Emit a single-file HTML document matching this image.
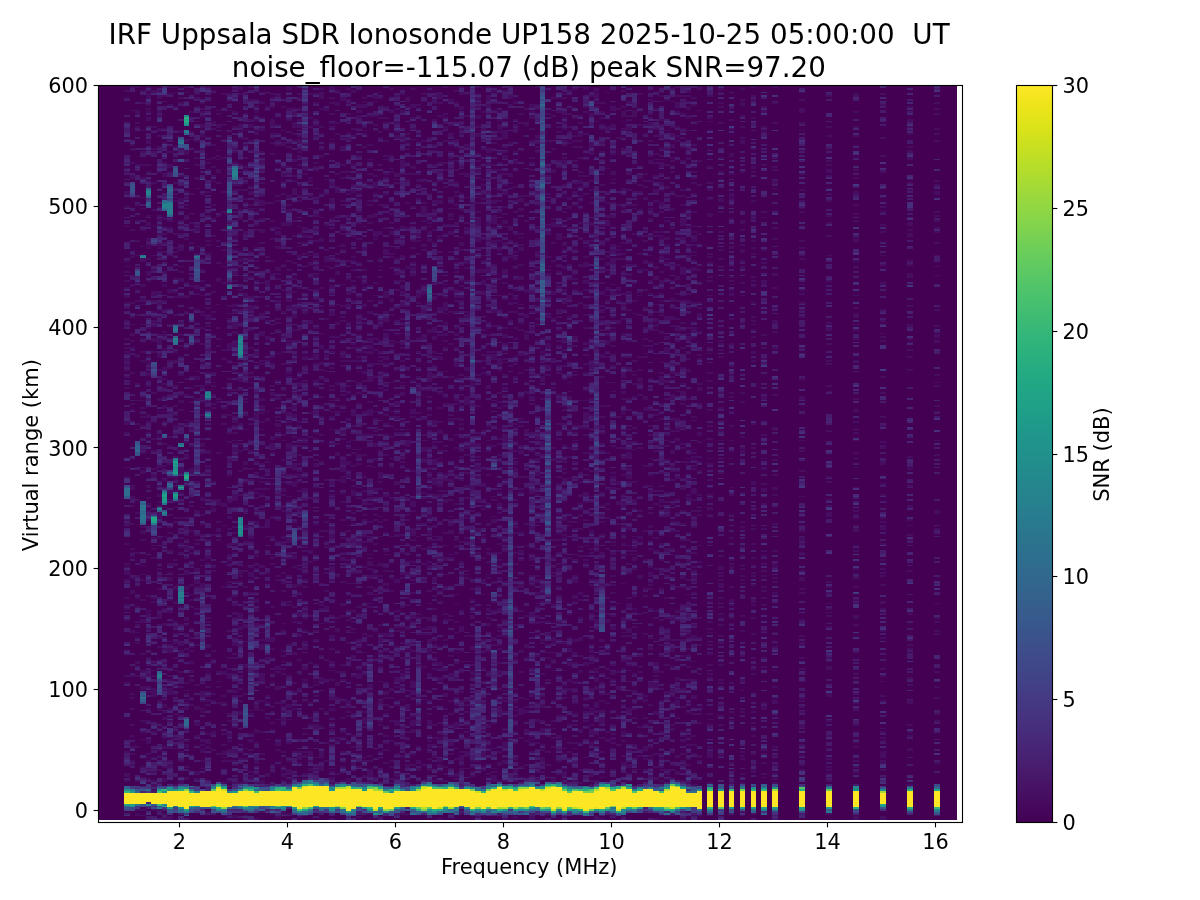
<!DOCTYPE html>
<html lang="en"><head><meta charset="utf-8"><title>IRF Uppsala SDR Ionosonde UP158</title>
<style>
html,body{margin:0;padding:0;background:#fff}
svg{display:block}
text{font-family:"DejaVu Sans","Liberation Sans",sans-serif;fill:#000}
</style></head><body>
<svg width="1200" height="900" viewBox="0 0 1200 900">
<defs>
<linearGradient id="vg" x1="0" y1="0" x2="0" y2="1"><stop offset="0.0000" stop-color="#fde725"/><stop offset="0.0208" stop-color="#f1e51d"/><stop offset="0.0417" stop-color="#e5e419"/><stop offset="0.0625" stop-color="#d8e219"/><stop offset="0.0833" stop-color="#c8e020"/><stop offset="0.1042" stop-color="#bade28"/><stop offset="0.1250" stop-color="#addc30"/><stop offset="0.1458" stop-color="#9dd93b"/><stop offset="0.1667" stop-color="#90d743"/><stop offset="0.1875" stop-color="#84d44b"/><stop offset="0.2083" stop-color="#75d054"/><stop offset="0.2292" stop-color="#69cd5b"/><stop offset="0.2500" stop-color="#5ec962"/><stop offset="0.2708" stop-color="#52c569"/><stop offset="0.2917" stop-color="#48c16e"/><stop offset="0.3125" stop-color="#3fbc73"/><stop offset="0.3333" stop-color="#35b779"/><stop offset="0.3542" stop-color="#2eb37c"/><stop offset="0.3750" stop-color="#28ae80"/><stop offset="0.3958" stop-color="#23a983"/><stop offset="0.4167" stop-color="#20a486"/><stop offset="0.4375" stop-color="#1fa088"/><stop offset="0.4583" stop-color="#1f9a8a"/><stop offset="0.4792" stop-color="#1f958b"/><stop offset="0.5000" stop-color="#21918c"/><stop offset="0.5208" stop-color="#228b8d"/><stop offset="0.5417" stop-color="#24868e"/><stop offset="0.5625" stop-color="#26828e"/><stop offset="0.5833" stop-color="#287c8e"/><stop offset="0.6042" stop-color="#2a778e"/><stop offset="0.6250" stop-color="#2c728e"/><stop offset="0.6458" stop-color="#2e6d8e"/><stop offset="0.6667" stop-color="#31688e"/><stop offset="0.6875" stop-color="#33638d"/><stop offset="0.7083" stop-color="#365d8d"/><stop offset="0.7292" stop-color="#38588c"/><stop offset="0.7500" stop-color="#3b528b"/><stop offset="0.7708" stop-color="#3e4c8a"/><stop offset="0.7917" stop-color="#404688"/><stop offset="0.8125" stop-color="#424086"/><stop offset="0.8333" stop-color="#443983"/><stop offset="0.8542" stop-color="#46337f"/><stop offset="0.8750" stop-color="#472d7b"/><stop offset="0.8958" stop-color="#482576"/><stop offset="0.9167" stop-color="#481f70"/><stop offset="0.9375" stop-color="#48186a"/><stop offset="0.9583" stop-color="#471063"/><stop offset="0.9792" stop-color="#46085c"/><stop offset="1.0000" stop-color="#440154"/></linearGradient>
<clipPath id="ax"><rect x="98.5" y="85.5" width="864.0" height="737.0"/></clipPath>
</defs>
<rect width="1200" height="900" fill="#fff"/>
<g clip-path="url(#ax)" shape-rendering="crispEdges">
<rect x="98.5" y="85.5" width="858.50" height="734.59" fill="#440154"/>
<g transform="translate(124.15,820.086) scale(5.4,-1.81230)" fill="none" stroke-width="1">
<path stroke="#470d60" d="M0.5 21v1m0 2v2m0 11v1m0 37v1m0 3v1m0 30v1m0 5v1m0 1v1m0 3v1m0 7v1m0 1v1m0 2v3m0 1v1m0 1v1m0 10v1m0 10v1m0 1v1m0 23v1m0 4v1m0 18v1m0 4v2m0 18v1m0 2v1m0 2v1m0 3v1m0 1v2m0 1v2m0 3v1m0 1v1m0 4v1m0 6v1m0 2v1m0 6v1m0 2v1m0 2v2m0 3v1m0 3v1m0 4v1m0 2v1m0 2v1m0 18v1m0 10v1m0 6v2m0 10v1m0 1v1m0 38v1m0 3v1M1.5 30v1m0 1v1m0 3v1m0 3v1m0 5v1m0 5v1m0 8v1m0 5v1m0 1v1m0 9v1m0 23v2m0 20v2m0 6v1m0 11v1m0 1v1m0 1v1m0 13v1m0 9v1m0 3v2m0 3v3m0 41v1m0 2v1m0 16v1m0 9v1m0 3v1m0 3v1m0 2v2m0 4v1m0 3v1m0 7v1m0 8v2m0 4v1m0 9v1m0 14v1m0 17v1m0 10v2m0 6v1m0 6v2m0 1v1m0 18v1m0 12v1M2.5 2v2m0 1v1m0 15v1m0 18v1m0 38v1m0 2v1m0 3v2m0 9v1m0 2v1m0 2v1m0 3v1m0 1v1m0 7v1m0 4v1m0 1v1m0 6v1m0 2v1m0 12v1m0 21v1m0 6v1m0 38v1m0 2v1m0 12v1m0 8v1m0 14v2m0 21v1m0 7v1m0 5v1m0 3v1m0 14v1m0 7v1m0 10v1m0 8v1m0 3v1m0 17v1m0 20v1m0 1v1m0 4v3m0 12v1M3.5 2v1m0 2v1m0 17v1m0 5v1m0 14v1m0 3v1m0 5v1m0 17v2m0 4v1m0 2v2m0 8v1m0 17v2m0 10v1m0 10v1m0 2v1m0 4v1m0 13v1m0 3v2m0 1v1m0 29v2m0 1v1m0 7v1m0 1v1m0 12v1m0 4v1m0 2v1m0 1v1m0 3v1m0 1v1m0 2v1m0 10v1m0 5v1m0 4v1m0 6v1m0 7v1m0 10v1m0 1v2m0 6v2m0 12v2m0 6v1m0 8v1m0 1v1m0 9v1m0 5v1m0 10v1m0 6v1m0 6v1m0 11v1m0 14v1m0 6v1M4.5 22v1m0 3v1m0 1v1m0 3v1m0 1v1m0 1v1m0 5v3m0 9v1m0 6v1m0 8v1m0 2v1m0 5v2m0 1v1m0 2v1m0 3v1m0 2v1m0 12v1m0 6v2m0 1v1m0 7v1m0 41v1m0 4v1m0 1v1m0 1v1m0 2v1m0 5v2m0 3v1m0 17v1m0 2v1m0 3v1m0 5v1m0 2v2m0 15v1m0 2v1m0 2v2m0 2v1m0 1v1m0 1v1m0 1v1m0 13v1m0 1v1m0 25v1m0 2v3m0 6v1m0 5v1m0 1v1m0 1v2m0 7v2m0 3v1m0 18v2m0 3v1m0 3v1m0 7v1m0 3v2m0 11v2m0 2v1m0 1v1m0 1v1m0 3v3m0 1v1m0 1v1M5.5 5v1m0 10v1m0 1v2m0 1v1m0 4v1m0 7v1m0 3v1m0 9v1m0 19v5m0 6v1m0 2v1m0 3v1m0 5v1m0 5v1m0 21v1m0 1v1m0 21v1m0 4v1m0 1v1m0 3v1m0 33v2m0 2v1m0 9v1m0 6v1m0 8v1m0 15v1m0 22v1m0 5v2m0 2v1m0 3v1m0 1v2m0 1v1m0 2v1m0 5v1m0 2v3m0 11v1m0 7v1m0 15v1m0 8v1m0 14v1m0 16v1m0 1v1m0 9v1m0 1v1m0 18v2m0 2v1M6.5 5v1m0 14v1m0 6v1m0 7v1m0 2v1m0 11v1m0 9v2m0 3v1m0 22v1m0 6v1m0 4v1m0 6v1m0 3v3m0 1v1m0 11v1m0 3v1m0 2v1m0 3v1m0 2v1m0 13v1m0 10v4m0 3v1m0 1v1m0 2v2m0 4v1m0 9v2m0 12v1m0 2v1m0 13v1m0 5v2m0 3v1m0 2v1m0 3v1m0 4v1m0 6v3m0 4v4m0 1v1m0 6v1m0 2v1m0 1v1m0 1v1m0 2v2m0 4v2m0 18v1m0 2v1m0 1v1m0 1v1m0 5v1m0 4v1m0 1v2m0 1v1m0 4v1m0 9v1m0 8v1m0 11v1m0 1v1m0 5v1m0 3v1m0 6v1m0 1v2m0 6v2m0 2v1M7.5 0v1m0 2v1m0 17v2m0 6v1m0 5v1m0 3v2m0 4v1m0 2v1m0 6v2m0 2v1m0 2v2m0 3v1m0 3v1m0 1v1m0 12v1m0 7v1m0 12v2m0 5v1m0 1v1m0 18v1m0 13v1m0 6v1m0 15v1m0 10v1m0 3v1m0 5v1m0 1v1m0 11v1m0 9v1m0 1v1m0 5v1m0 1v2m0 4v1m0 2v1m0 1v1m0 1v1m0 2v1m0 4v2m0 9v1m0 7v1m0 1v1m0 11v1m0 4v1m0 7v2m0 6v1m0 10v1m0 4v1m0 4v1m0 7v2m0 22v2m0 5v1m0 10v1m0 7v1m0 14v1m0 2v1M8.5 0v2m0 27v2m0 1v1m0 6v2m0 4v1m0 8v1m0 1v1m0 4v1m0 7v4m0 4v1m0 1v1m0 12v3m0 1v1m0 1v1m0 9v1m0 5v2m0 1v1m0 3v1m0 10v2m0 2v1m0 3v2m0 6v1m0 9v1m0 2v1m0 6v1m0 7v1m0 3v2m0 7v1m0 6v1m0 9v1m0 4v1m0 12v1m0 9v1m0 14v1m0 3v1m0 5v1m0 13v1m0 17v2m0 12v1m0 5v1m0 14v1m0 3v1m0 1v1m0 24v1m0 2v2m0 6v1m0 6v1m0 18v1m0 5v1m0 3v2M9.5 19v1m0 19v1m0 1v1m0 3v1m0 4v1m0 7v1m0 4v1m0 2v1m0 2v1m0 4v1m0 7v1m0 6v1m0 5v1m0 1v2m0 3v1m0 3v1m0 2v1m0 9v2m0 6v2m0 11v2m0 1v1m0 20v1m0 1v1m0 5v1m0 2v1m0 5v1m0 2v1m0 2v1m0 1v1m0 10v1m0 11v1m0 2v3m0 2v1m0 2v1m0 1v1m0 2v1m0 10v1m0 13v1m0 4v1m0 19v1m0 9v1m0 2v1m0 6v1m0 12v1m0 1v1m0 1v1m0 7v1m0 17v1m0 1v1m0 1v1m0 5v1m0 19v1m0 8v1m0 12v1m0 7v1m0 2v1M10.5 20v2m0 10v1m0 4v1m0 5v2m0 8v1m0 3v1m0 3v1m0 11v1m0 7v1m0 10v2m0 2v2m0 6v1m0 2v1m0 7v1m0 1v1m0 11v1m0 17v1m0 2v1m0 1v1m0 2v1m0 3v1m0 2v1m0 3v1m0 8v1m0 4v1m0 10v4m0 3v1m0 18v1m0 8v1m0 3v2m0 2v1m0 1v1m0 8v1m0 9v1m0 5v1m0 3v1m0 1v1m0 6v1m0 4v1m0 8v1m0 8v2m0 3v1m0 2v1m0 8v2m0 1v1m0 5v1m0 1v1m0 2v1m0 1v1m0 6v1m0 1v1m0 1v2m0 5v1m0 6v1m0 14v1m0 8v2m0 14v1m0 2v1M11.5 22v2m0 5v1m0 6v1m0 3v2m0 1v1m0 5v1m0 11v2m0 1v1m0 1v1m0 2v1m0 1v1m0 3v1m0 18v1m0 7v1m0 4v1m0 2v2m0 13v1m0 1v2m0 6v3m0 6v1m0 4v2m0 3v1m0 2v1m0 2v2m0 4v1m0 17v1m0 1v1m0 5v1m0 7v2m0 2v1m0 3v1m0 9v1m0 1v1m0 13v1m0 8v1m0 16v1m0 7v1m0 11v1m0 7v2m0 6v1m0 23v1m0 6v1m0 3v1m0 1v1m0 3v1m0 1v1m0 2v1m0 1v1m0 1v1m0 20v3m0 4v2m0 20v1m0 4v1m0 2v1m0 1v1M12.5 63v1m0 3v1m0 8v2m0 3v2m0 3v2m0 5v1m0 1v1m0 4v1m0 4v1m0 11v1m0 3v1m0 2v1m0 4v1m0 17v1m0 1v1m0 9v1m0 13v1m0 17v3m0 12v1m0 8v2m0 2v1m0 10v1m0 7v1m0 5v1m0 7v1m0 41v1m0 4v1m0 5v1m0 12v1m0 10v1m0 4v1m0 10v1m0 29v1m0 3v1m0 10v1m0 14v1M13.5 22v1m0 2v2m0 19v1m0 5v2m0 7v2m0 11v1m0 21v1m0 4v1m0 12v1m0 1v1m0 5v1m0 1v1m0 3v1m0 1v3m0 4v2m0 13v1m0 1v1m0 2v1m0 9v1m0 1v2m0 15v1m0 44v2m0 6v1m0 3v2m0 2v1m0 15v1m0 1v1m0 5v1m0 2v1m0 6v1m0 8v1m0 2v2m0 17v1m0 3v1m0 8v2m0 1v1m0 19v1m0 4v2m0 6v1m0 3v1m0 3v1m0 4v1m0 10v1m0 7v1m0 4v1m0 1v1M14.5 28v1m0 3v1m0 4v2m0 2v1m0 1v2m0 14v1m0 1v1m0 3v1m0 2v3m0 5v1m0 51v3m0 9v1m0 2v1m0 11v1m0 1v1m0 5v1m0 4v1m0 3v1m0 3v2m0 13v1m0 10v1m0 3v2m0 2v1m0 12v1m0 6v1m0 1v3m0 3v2m0 11v1m0 10v1m0 8v1m0 6v1m0 1v1m0 8v1m0 7v1m0 5v1m0 5v1m0 35v1m0 24v1m0 6v2m0 3v2m0 4v1m0 1v1m0 1v1m0 2v1m0 9v1M15.5 4v1m0 29v1m0 4v2m0 1v3m0 2v1m0 12v1m0 2v1m0 1v2m0 1v1m0 1v1m0 2v1m0 6v1m0 1v1m0 3v1m0 4v1m0 3v2m0 12v1m0 1v1m0 29v1m0 2v2m0 3v1m0 4v1m0 20v1m0 15v1m0 1v1m0 1v1m0 3v1m0 2v2m0 22v1m0 3v1m0 9v1m0 2v1m0 2v1m0 12v1m0 12v1m0 3v3m0 3v1m0 3v1m0 2v1m0 18v1m0 3v1m0 4v1m0 1v1m0 13v1m0 12v1m0 11v1m0 3v1m0 1v1m0 15v1m0 23v1M16.5 38v1m0 8v2m0 16v1m0 3v1m0 16v1m0 1v1m0 4v1m0 43v1m0 1v1m0 17v1m0 12v2m0 1v1m0 2v1m0 9v1m0 40v1m0 1v1m0 4v1m0 4v1m0 1v1m0 4v1m0 20v1m0 12v1m0 10v1m0 30v1m0 8v1m0 5v1m0 1v1m0 8v1m0 3v1m0 2v1m0 4v1m0 4v1m0 6v1m0 8v1m0 2v2m0 16v1M17.5 36v1m0 27v1m0 8v1m0 2v1m0 4v1m0 72v1m0 4v2m0 3v1m0 9v3m0 25v1m0 27v1m0 1v1m0 28v1m0 3v1m0 5v1m0 12v1m0 12v2m0 8v1m0 11v1m0 13v1m0 17v1m0 5v2m0 5v1m0 1v1m0 2v1m0 12v2m0 5v1m0 1v1M18.5 2v1m0 17v1m0 11v1m0 1v1m0 1v2m0 3v1m0 5v1m0 16v1m0 3v1m0 11v2m0 46v1m0 33v1m0 10v2m0 43v1m0 4v1m0 3v1m0 10v1m0 15v1m0 4v1m0 36v1m0 8v1m0 8v1m0 20v1m0 10v1m0 18v1m0 9v1m0 4v1m0 2v1m0 16v1M19.5 2v1m0 18v1m0 10v1m0 4v2m0 4v1m0 2v2m0 6v1m0 3v1m0 11v1m0 7v3m0 2v1m0 5v1m0 14v1m0 17v1m0 6v1m0 1v1m0 9v1m0 1v1m0 1v2m0 4v2m0 7v1m0 5v2m0 4v1m0 2v2m0 13v1m0 6v2m0 9v1m0 4v1m0 2v1m0 6v1m0 11v1m0 1v1m0 5v1m0 9v1m0 5v4m0 11v1m0 1v1m0 2v1m0 3v1m0 12v1m0 7v2m0 23v1m0 25v1m0 5v1m0 4v1m0 12v1m0 11v1m0 8v1M20.5 1v2m0 17v1m0 9v1m0 1v1m0 4v2m0 12v1m0 16v1m0 1v2m0 4v1m0 3v1m0 8v1m0 1v1m0 4v2m0 2v1m0 2v1m0 7v1m0 1v2m0 3v2m0 3v1m0 7v1m0 15v1m0 4v1m0 5v1m0 2v1m0 10v1m0 3v4m0 19v1m0 1v1m0 1v3m0 1v1m0 1v1m0 3v1m0 1v1m0 1v1m0 1v2m0 1v1m0 14v1m0 10v1m0 3v1m0 5v1m0 2v2m0 1v1m0 3v2m0 1v4m0 4v2m0 2v2m0 4v1m0 7v1m0 3v2m0 1v1m0 9v1m0 5v1m0 1v1m0 12v1m0 11v1m0 2v1m0 11v1m0 5v1m0 1v1m0 3v1m0 7v1m0 7v1m0 5v1m0 6v1m0 1v1M21.5 20v1m0 12v1m0 3v1m0 3v1m0 16v2m0 5v1m0 2v1m0 3v1m0 3v1m0 1v2m0 9v1m0 6v1m0 2v1m0 3v1m0 1v2m0 1v1m0 2v3m0 17v1m0 2v1m0 1v2m0 3v1m0 37v1m0 12v1m0 10v1m0 3v1m0 10v1m0 18v1m0 4v2m0 2v1m0 5v1m0 19v1m0 1v1m0 6v1m0 2v1m0 7v1m0 7v1m0 5v1m0 1v2m0 3v1m0 17v2m0 3v1m0 10v1m0 2v1m0 6v1m0 3v1m0 2v1m0 11v1m0 2v1m0 2v2m0 16v1m0 2v3M22.5 0v1m0 1v1m0 17v1m0 7v1m0 4v1m0 5v1m0 29v1m0 14v2m0 12v1m0 7v2m0 11v1m0 3v1m0 4v1m0 8v1m0 15v1m0 7v2m0 6v1m0 1v1m0 8v1m0 5v1m0 6v2m0 1v2m0 7v1m0 9v1m0 7v1m0 1v1m0 4v1m0 1v1m0 8v1m0 3v1m0 7v1m0 2v1m0 14v1m0 10v1m0 2v1m0 2v3m0 7v2m0 8v1m0 12v1m0 1v2m0 13v1m0 1v1m0 1v1m0 4v1m0 3v1m0 2v1m0 3v1m0 1v1m0 4v1m0 6v1m0 2v2m0 3v1m0 8v1m0 10v1m0 4v1M23.5 22v1m0 1v1m0 1v1m0 9v1m0 1v1m0 4v2m0 2v1m0 10v1m0 1v1m0 15v1m0 36v1m0 3v1m0 1v1m0 1v1m0 3v1m0 6v1m0 1v3m0 2v1m0 13v1m0 1v2m0 24v1m0 5v1m0 5v1m0 9v1m0 5v1m0 8v1m0 1v1m0 17v1m0 2v1m0 2v1m0 1v1m0 8v1m0 4v1m0 9v1m0 6v1m0 3v3m0 4v1m0 10v1m0 9v1m0 3v1m0 7v1m0 10v1m0 3v2m0 1v1m0 5v2m0 2v1m0 19v1m0 4v1m0 5v1m0 1v2m0 2v1m0 10v1m0 6v2M24.5 0v1m0 19v1m0 4v1m0 1v1m0 3v2m0 9v1m0 5v2m0 11v3m0 1v1m0 12v1m0 2v1m0 17v1m0 3v1m0 3v2m0 6v2m0 3v2m0 3v1m0 12v1m0 1v2m0 3v1m0 17v2m0 3v1m0 1v1m0 6v1m0 2v1m0 1v1m0 7v2m0 5v1m0 1v2m0 2v1m0 17v5m0 6v1m0 2v1m0 20v3m0 4v1m0 4v1m0 14v1m0 2v1m0 7v1m0 2v1m0 4v1m0 2v1m0 2v1m0 6v1m0 9v1m0 2v1m0 6v1m0 1v1m0 3v2m0 35v2m0 6v1m0 1v1m0 1v1m0 2v1m0 3v1M25.5 4v1m0 15v2m0 1v1m0 12v1m0 11v1m0 11v1m0 4v1m0 11v4m0 13v3m0 2v1m0 3v1m0 3v1m0 27v1m0 3v2m0 20v1m0 8v1m0 2v1m0 5v1m0 2v1m0 3v1m0 2v1m0 6v1m0 18v1m0 3v1m0 4v1m0 2v2m0 2v2m0 9v1m0 1v1m0 6v1m0 1v1m0 13v3m0 6v1m0 1v2m0 8v1m0 7v1m0 14v1m0 1v1m0 4v1m0 5v2m0 5v1m0 5v1m0 1v3m0 2v1m0 6v1m0 6v1m0 3v2m0 1v1m0 2v1m0 11v2m0 5v1m0 7v2m0 4v1M26.5 24v2m0 18v1m0 11v1m0 7v1m0 3v1m0 4v1m0 14v2m0 8v2m0 36v1m0 19v1m0 4v5m0 10v1m0 5v1m0 3v1m0 4v1m0 1v1m0 3v1m0 1v1m0 6v1m0 13v2m0 3v1m0 21v1m0 5v1m0 9v1m0 1v2m0 8v1m0 7v1m0 10v4m0 12v1m0 29v1m0 50v1m0 1v1M27.5 3v1m0 22v1m0 1v1m0 1v1m0 18v1m0 3v1m0 5v1m0 2v1m0 12v1m0 4v1m0 2v1m0 5v1m0 4v1m0 3v3m0 7v1m0 8v1m0 23v1m0 2v1m0 10v2m0 9v2m0 17v1m0 16v1m0 2v3m0 2v2m0 22v2m0 3v1m0 11v1m0 3v1m0 44v2m0 6v1m0 11v1m0 5v1m0 3v1m0 9v1m0 26v1m0 5v1m0 2v1m0 1v1m0 4v4m0 6v1m0 4v1m0 1v1m0 4v1M28.5 1v1m0 36v1m0 2v2m0 1v1m0 10v1m0 8v1m0 7v2m0 7v1m0 1v2m0 18v1m0 28v1m0 1v1m0 18v1m0 11v1m0 1v1m0 4v1m0 3v1m0 2v1m0 31v1m0 1v1m0 1v1m0 1v2m0 3v1m0 4v1m0 4v2m0 6v1m0 1v1m0 14v1m0 12v1m0 3v1m0 1v1m0 4v1m0 3v2m0 11v1m0 2v1m0 1v2m0 10v2m0 6v2m0 1v1m0 14v1m0 2v1m0 14v1m0 2v1m0 1v1m0 7v1m0 1v1m0 3v1m0 4v1m0 12v1m0 2v2M29.5 3v2m0 16v1m0 2v2m0 1v1m0 1v1m0 7v1m0 14v1m0 1v3m0 2v2m0 1v1m0 1v1m0 15v1m0 2v1m0 3v1m0 2v1m0 2v1m0 10v1m0 3v1m0 11v1m0 5v1m0 3v2m0 4v1m0 3v1m0 3v1m0 7v2m0 1v2m0 13v1m0 1v2m0 5v1m0 1v2m0 3v1m0 3v1m0 7v1m0 10v1m0 2v1m0 7v1m0 3v1m0 4v1m0 7v1m0 13v1m0 6v1m0 7v1m0 1v1m0 11v1m0 11v1m0 13v1m0 9v1m0 11v2m0 15v1m0 9v2m0 3v1m0 11v2m0 6v1m0 12v1M30.5 3v1m0 16v1m0 1v1m0 2v3m0 4v1m0 1v1m0 7v1m0 12v1m0 6v2m0 7v1m0 7v1m0 12v1m0 3v1m0 21v1m0 1v1m0 13v1m0 9v1m0 1v2m0 5v3m0 3v1m0 9v1m0 2v1m0 2v1m0 2v1m0 6v1m0 4v1m0 4v1m0 2v1m0 4v1m0 1v3m0 7v1m0 3v1m0 3v2m0 2v1m0 4v1m0 11v1m0 1v2m0 3v1m0 7v1m0 2v1m0 1v1m0 9v1m0 2v1m0 4v2m0 2v2m0 3v1m0 6v1m0 4v1m0 4v1m0 19v2m0 5v2m0 2v1m0 4v1m0 8v1m0 2v1m0 3v1m0 10v1m0 1v1m0 5v1m0 6v1m0 4v2m0 8v1m0 1v2M31.5 25v1m0 11v1m0 23v1m0 2v1m0 5v1m0 4v1m0 15v2m0 16v1m0 1v1m0 5v1m0 6v1m0 3v2m0 9v1m0 4v2m0 18v1m0 6v1m0 12v3m0 3v1m0 2v4m0 14v1m0 10v2m0 3v2m0 2v1m0 3v1m0 1v1m0 5v1m0 10v1m0 1v1m0 7v1m0 5v1m0 6v2m0 2v2m0 1v1m0 6v1m0 6v1m0 1v1m0 6v1m0 14v1m0 7v1m0 6v1m0 7v4m0 3v1m0 2v1m0 7v2m0 9v1m0 3v1m0 3v3m0 4v2m0 1v1M32.5 1v1m0 22v1m0 6v1m0 1v3m0 1v1m0 32v1m0 1v1m0 7v1m0 7v1m0 12v2m0 6v1m0 2v3m0 10v1m0 3v1m0 3v1m0 4v1m0 12v1m0 2v1m0 1v1m0 4v1m0 6v1m0 1v2m0 1v1m0 7v1m0 4v1m0 2v2m0 1v1m0 1v1m0 1v1m0 4v1m0 4v1m0 1v1m0 1v1m0 6v1m0 1v1m0 14v1m0 1v1m0 2v3m0 2v1m0 1v1m0 17v1m0 5v2m0 10v1m0 2v1m0 7v1m0 11v1m0 4v2m0 4v1m0 1v1m0 4v1m0 3v1m0 13v1m0 2v1m0 5v1m0 10v1m0 3v2m0 1v1m0 1v1m0 2v3m0 1v1m0 4v2m0 1v2m0 4v2m0 5v1m0 1v1m0 4v2M33.5 22v1m0 2v1m0 8v2m0 1v1m0 9v1m0 17v1m0 9v1m0 1v1m0 5v2m0 9v2m0 1v2m0 5v1m0 6v1m0 2v2m0 1v1m0 10v1m0 3v1m0 3v1m0 1v1m0 1v1m0 1v1m0 2v1m0 2v1m0 1v1m0 9v1m0 15v1m0 4v2m0 6v1m0 1v1m0 14v1m0 1v1m0 1v1m0 9v1m0 21v1m0 4v1m0 2v1m0 3v2m0 1v1m0 3v1m0 12v1m0 4v2m0 1v1m0 5v1m0 23v1m0 5v1m0 2v2m0 2v2m0 17v1m0 3v1m0 7v1m0 1v3m0 11v1m0 2v1m0 14v1m0 3v1m0 11v1M34.5 27v2m0 3v1m0 2v3m0 14v1m0 3v1m0 7v1m0 8v1m0 12v1m0 16v1m0 8v1m0 29v1m0 4v2m0 28v1m0 25v1m0 7v1m0 12v1m0 7v1m0 37v1m0 3v2m0 16v1m0 6v1m0 1v1m0 4v2m0 3v1m0 10v1m0 14v1m0 6v1m0 7v1m0 1v1m0 4v1m0 22v1m0 4v1m0 12v1M35.5 25v1m0 1v1m0 1v1m0 4v1m0 15v3m0 6v1m0 8v1m0 5v1m0 1v1m0 8v1m0 13v1m0 4v1m0 31v1m0 6v1m0 6v1m0 4v1m0 2v1m0 4v1m0 6v1m0 6v1m0 5v1m0 5v1m0 5v2m0 1v1m0 11v1m0 2v1m0 10v1m0 1v1m0 12v1m0 1v2m0 8v1m0 2v3m0 7v1m0 1v1m0 4v1m0 10v1m0 2v1m0 1v1m0 4v1m0 6v1m0 1v1m0 1v1m0 1v2m0 1v1m0 2v2m0 6v1m0 5v1m0 7v2m0 1v1m0 5v1m0 5v1m0 9v1m0 1v1m0 1v1m0 14v1m0 5v1m0 2v1m0 8v1m0 4v1m0 4v1M36.5 27v3m0 4v4m0 1v1m0 11v1m0 9v1m0 14v3m0 11v1m0 17v1m0 7v1m0 1v1m0 11v1m0 28v1m0 37v1m0 10v1m0 3v1m0 7v1m0 1v1m0 5v1m0 4v1m0 9v1m0 4v1m0 2v2m0 7v2m0 6v1m0 12v1m0 1v1m0 9v1m0 22v1m0 2v2m0 11v1m0 4v1m0 7v1m0 20v1m0 3v1m0 7v1m0 3v1m0 9v1m0 5v4m0 1v1M37.5 32v1m0 9v1m0 16v1m0 17v1m0 10v1m0 20v1m0 6v2m0 8v1m0 9v1m0 13v1m0 2v1m0 5v1m0 4v1m0 22v1m0 55v1m0 3v1m0 4v1m0 2v2m0 2v1m0 16v1m0 28v1m0 2v3m0 3v1m0 13v1m0 16v1m0 7v1m0 37v2M38.5 0v1m0 19v1m0 1v2m0 2v1m0 1v1m0 12v1m0 3v1m0 3v1m0 1v1m0 1v1m0 2v1m0 3v2m0 5v1m0 9v1m0 4v1m0 1v1m0 1v2m0 6v1m0 5v2m0 10v1m0 19v1m0 4v3m0 10v1m0 4v3m0 2v2m0 5v1m0 9v1m0 1v1m0 5v2m0 20v1m0 7v1m0 4v1m0 1v1m0 2v1m0 1v1m0 3v1m0 5v1m0 1v1m0 9v1m0 2v1m0 5v1m0 7v1m0 11v3m0 2v1m0 6v1m0 2v2m0 3v1m0 5v1m0 3v1m0 1v1m0 9v1m0 5v1m0 2v1m0 1v1m0 4v1m0 3v3m0 7v2m0 21v1m0 1v1m0 6v1m0 1v1m0 4v1m0 5v1m0 2v1m0 2v1m0 1v2M39.5 25v1m0 17v1m0 1v1m0 20v2m0 6v2m0 5v1m0 11v1m0 10v2m0 5v1m0 22v1m0 16v1m0 35v1m0 6v1m0 6v2m0 4v1m0 7v1m0 8v2m0 2v1m0 3v1m0 7v2m0 24v1m0 6v2m0 9v1m0 10v1m0 5v2m0 3v1m0 2v1m0 2v1m0 3v1m0 16v1m0 12v2m0 1v1m0 6v1m0 21v1m0 5v1m0 9v2m0 6v1m0 2v1M40.5 21v1m0 7v1m0 7v1m0 7v1m0 2v1m0 7v1m0 8v1m0 11v1m0 3v1m0 3v1m0 26v1m0 5v2m0 11v1m0 11v2m0 2v1m0 2v1m0 4v1m0 9v1m0 9v1m0 4v1m0 5v2m0 1v1m0 2v3m0 1v3m0 1v1m0 9v1m0 2v2m0 10v1m0 2v1m0 5v1m0 2v2m0 2v1m0 8v1m0 2v1m0 1v2m0 1v1m0 16v1m0 1v1m0 5v1m0 11v1m0 18v1m0 1v2m0 5v1m0 1v1m0 2v1m0 3v1m0 6v1m0 1v1m0 6v1m0 5v1m0 2v1m0 3v1m0 8v2m0 4v1m0 20v2M41.5 20v3m0 20v1m0 13v1m0 1v1m0 2v1m0 1v2m0 21v2m0 8v1m0 6v1m0 5v1m0 1v1m0 2v1m0 5v1m0 8v1m0 7v1m0 2v1m0 1v1m0 9v1m0 1v1m0 3v1m0 2v1m0 9v1m0 16v2m0 1v1m0 3v2m0 7v1m0 2v1m0 11v2m0 13v2m0 2v1m0 13v1m0 16v1m0 1v1m0 1v1m0 8v2m0 5v2m0 6v1m0 1v1m0 7v1m0 15v1m0 5v1m0 1v2m0 11v1m0 9v1m0 1v1m0 6v1m0 10v2m0 1v1m0 6v1m0 3v1m0 5v1m0 1v1m0 5v1M42.5 30v2m0 1v1m0 6v1m0 5v1m0 9v1m0 1v1m0 20v1m0 9v2m0 7v1m0 4v1m0 1v1m0 3v1m0 5v1m0 8v1m0 5v1m0 5v1m0 2v1m0 4v1m0 8v2m0 8v1m0 5v1m0 9v3m0 2v1m0 2v1m0 7v1m0 6v1m0 1v1m0 4v1m0 5v1m0 1v1m0 5v2m0 1v1m0 7v1m0 7v1m0 10v1m0 6v1m0 1v1m0 2v1m0 2v1m0 17v1m0 5v1m0 1v1m0 2v1m0 5v1m0 4v1m0 1v1m0 11v1m0 20v1m0 2v2m0 2v1m0 10v1m0 15v1m0 3v1m0 19v2m0 2v1M43.5 1v1m0 21v1m0 5v1m0 6v1m0 2v1m0 8v1m0 6v1m0 4v1m0 17v3m0 2v1m0 9v1m0 1v1m0 1v1m0 1v1m0 11v1m0 1v1m0 3v1m0 6v1m0 11v1m0 3v1m0 5v1m0 2v1m0 2v2m0 1v2m0 20v1m0 5v1m0 12v1m0 3v2m0 2v1m0 7v1m0 16v1m0 5v1m0 4v2m0 5v1m0 2v1m0 2v1m0 1v1m0 2v1m0 1v1m0 6v1m0 2v1m0 4v2m0 1v1m0 9v1m0 10v1m0 7v1m0 12v1m0 8v1m0 5v1m0 6v1m0 2v1m0 3v1m0 2v1m0 6v1m0 6v1m0 14v1m0 5v2m0 1v2m0 1v2m0 10v2M44.5 24v1m0 7v1m0 1v1m0 16v1m0 1v4m0 2v1m0 3v1m0 16v1m0 11v1m0 9v1m0 11v1m0 24v1m0 10v1m0 2v1m0 2v2m0 7v1m0 2v1m0 5v2m0 5v1m0 7v1m0 11v1m0 10v1m0 11v2m0 13v1m0 2v1m0 3v2m0 6v1m0 3v1m0 2v1m0 12v1m0 8v2m0 8v1m0 2v1m0 1v1m0 1v1m0 2v1m0 10v2m0 11v1m0 3v1m0 19v1m0 19v1m0 6v1m0 1v1m0 1v1m0 10v2m0 1v1m0 1v1m0 6v1M45.5 3v1m0 17v1m0 2v4m0 4v1m0 2v1m0 34v1m0 2v2m0 11v1m0 2v1m0 11v1m0 15v1m0 1v1m0 4v2m0 2v1m0 4v2m0 3v1m0 1v3m0 1v1m0 1v1m0 6v1m0 1v2m0 7v1m0 9v1m0 2v1m0 1v1m0 2v2m0 4v1m0 6v1m0 12v1m0 3v1m0 10v4m0 3v1m0 11v3m0 6v1m0 5v2m0 1v2m0 2v2m0 2v1m0 10v2m0 5v1m0 7v1m0 34v1m0 2v2m0 5v1m0 1v1m0 6v1m0 1v1m0 5v1m0 3v1m0 3v1m0 7v1m0 15v1M46.5 23v1m0 4v1m0 75v1m0 9v1m0 7v1m0 1v1m0 2v1m0 6v1m0 1v1m0 3v1m0 11v1m0 3v1m0 8v1m0 2v1m0 6v1m0 1v1m0 3v2m0 11v1m0 3v2m0 6v2m0 4v1m0 1v1m0 6v1m0 3v1m0 8v1m0 1v1m0 7v1m0 6v1m0 7v1m0 5v1m0 7v1m0 4v1m0 10v1m0 6v1m0 23v1m0 1v3m0 8v2m0 7v1m0 2v1m0 3v3m0 3v1m0 2v1m0 21v1m0 2v1m0 4v1m0 7v1m0 1v2M47.5 1v1m0 26v1m0 8v1m0 14v1m0 1v1m0 9v2m0 10v1m0 7v1m0 1v1m0 2v1m0 1v2m0 4v1m0 1v2m0 1v1m0 4v1m0 13v1m0 4v1m0 7v1m0 5v2m0 14v1m0 5v1m0 1v1m0 2v1m0 14v1m0 3v1m0 1v4m0 8v1m0 2v1m0 21v1m0 10v1m0 1v1m0 2v1m0 3v1m0 1v1m0 3v1m0 1v1m0 1v1m0 2v1m0 5v1m0 7v2m0 1v1m0 10v1m0 2v1m0 9v1m0 3v1m0 1v1m0 3v1m0 13v2m0 14v1m0 8v1m0 12v1m0 14v1m0 2v1m0 7v1m0 10v1m0 2v1M48.5 31v1m0 6v1m0 3v1m0 3v1m0 11v1m0 1v1m0 2v1m0 3v1m0 1v2m0 4v1m0 17v1m0 2v1m0 4v2m0 11v1m0 12v1m0 1v2m0 6v1m0 1v1m0 1v1m0 4v1m0 1v1m0 9v1m0 6v1m0 7v1m0 4v2m0 21v1m0 4v1m0 1v1m0 3v1m0 5v1m0 4v1m0 13v1m0 2v1m0 3v1m0 1v1m0 4v1m0 2v2m0 10v3m0 1v1m0 4v2m0 2v2m0 7v4m0 20v3m0 11v1m0 5v1m0 6v1m0 5v1m0 3v1m0 1v1m0 2v1m0 1v1m0 7v1m0 1v1m0 7v1m0 6v1m0 2v1m0 2v1m0 5v1M49.5 20v1m0 1v1m0 6v1m0 2v1m0 10v1m0 10v1m0 12v1m0 3v2m0 17v1m0 2v1m0 4v2m0 2v2m0 22v1m0 6v1m0 3v1m0 18v1m0 20v1m0 16v2m0 3v1m0 6v1m0 4v1m0 5v1m0 4v1m0 2v1m0 2v1m0 12v1m0 10v1m0 4v1m0 1v1m0 2v1m0 1v1m0 13v1m0 3v1m0 3v2m0 16v1m0 5v1m0 1v1m0 10v2m0 4v1m0 4v1m0 22v1m0 1v1m0 6v1m0 23v1m0 12v1M50.5 22v1m0 1v2m0 8v1m0 1v1m0 4v1m0 10v3m0 8v1m0 1v1m0 5v1m0 1v1m0 2v3m0 3v1m0 9v1m0 2v1m0 8v1m0 1v1m0 4v1m0 3v1m0 15v2m0 18v1m0 4v2m0 27v2m0 26v1m0 1v1m0 5v2m0 1v1m0 1v1m0 2v2m0 3v1m0 13v1m0 8v1m0 5v1m0 11v1m0 6v1m0 9v1m0 4v1m0 3v2m0 1v1m0 4v1m0 5v1m0 4v1m0 1v1m0 2v1m0 11v1m0 13v1m0 1v1m0 1v2m0 19v2m0 1v1m0 4v2m0 3v1m0 2v1m0 6v1m0 6v1M51.5 3v1m0 30v2m0 2v1m0 7v1m0 3v2m0 14v1m0 6v1m0 2v2m0 1v2m0 1v1m0 6v1m0 3v1m0 3v1m0 4v1m0 1v1m0 1v1m0 2v1m0 4v1m0 2v1m0 15v1m0 1v2m0 10v1m0 9v1m0 6v1m0 1v1m0 28v1m0 1v1m0 2v1m0 3v1m0 8v1m0 5v1m0 14v2m0 3v1m0 1v1m0 5v1m0 5v1m0 6v1m0 1v2m0 4v1m0 2v1m0 2v1m0 1v1m0 6v3m0 4v2m0 1v2m0 2v1m0 3v1m0 1v1m0 6v2m0 5v1m0 2v1m0 5v2m0 4v1m0 10v1m0 12v1m0 3v4m0 5v1m0 6v1m0 13v2m0 8v1M52.5 3v1m0 19v1m0 5v2m0 14v1m0 2v1m0 7v1m0 4v3m0 16v1m0 8v1m0 4v1m0 1v1m0 8v2m0 3v1m0 7v1m0 3v1m0 12v2m0 5v1m0 4v1m0 4v1m0 6v1m0 5v1m0 2v1m0 8v1m0 11v1m0 3v1m0 8v1m0 1v1m0 1v4m0 5v1m0 32v1m0 8v1m0 6v1m0 10v1m0 5v1m0 1v1m0 2v2m0 16v2m0 20v1m0 13v1m0 11v2m0 2v1m0 5v1m0 7v1m0 2v1m0 4v1m0 14v1m0 2v3m0 6v1M53.5 30v1m0 5v1m0 11v2m0 2v3m0 2v1m0 8v2m0 1v3m0 1v4m0 16v1m0 3v1m0 11v1m0 1v2m0 12v1m0 4v1m0 1v1m0 1v1m0 7v1m0 11v1m0 2v4m0 9v1m0 2v3m0 1v1m0 14v1m0 29v1m0 1v3m0 15v1m0 57v2m0 1v2m0 2v1m0 7v1m0 3v1m0 3v1m0 3v1m0 10v1m0 9v1m0 7v1m0 2v2m0 14v1m0 5v1m0 5v1m0 5v2m0 8v1m0 2v1M54.5 21v1m0 1v1m0 3v2m0 2v2m0 7v1m0 22v1m0 3v1m0 17v1m0 1v1m0 3v2m0 9v1m0 3v1m0 4v1m0 1v1m0 26v1m0 9v1m0 5v1m0 4v1m0 1v1m0 1v1m0 54v1m0 3v1m0 8v1m0 3v2m0 1v1m0 3v1m0 4v1m0 8v1m0 6v1m0 4v1m0 14v1m0 2v3m0 1v1m0 19v1m0 6v1m0 2v2m0 18v1m0 7v1m0 1v2m0 2v1m0 13v1m0 7v1m0 9v1m0 5v1M55.5 30v1m0 35v1m0 4v1m0 12v1m0 17v1m0 2v1m0 5v1m0 20v1m0 8v1m0 7v1m0 13v1m0 5v1m0 7v1m0 2v1m0 16v3m0 3v3m0 3v1m0 2v1m0 8v1m0 15v1m0 27v3m0 8v1m0 2v3m0 8v2m0 2v1m0 8v1m0 2v1m0 7v1m0 1v2m0 7v1m0 1v1m0 2v1m0 3v5m0 1v1m0 6v1m0 4v1m0 21v1m0 21v1m0 3v1m0 5v1M56.5 27v2m0 4v1m0 3v1m0 2v2m0 1v1m0 2v1m0 5v3m0 3v1m0 6v1m0 5v1m0 7v2m0 7v1m0 2v1m0 1v2m0 2v3m0 2v1m0 2v2m0 3v2m0 7v1m0 6v1m0 12v2m0 1v1m0 6v2m0 3v1m0 2v3m0 1v1m0 2v1m0 1v1m0 1v1m0 8v1m0 4v1m0 1v1m0 2v1m0 1v1m0 1v1m0 1v2m0 7v1m0 2v1m0 8v1m0 2v1m0 5v1m0 2v1m0 4v1m0 1v1m0 3v1m0 1v1m0 2v5m0 9v1m0 5v1m0 6v2m0 2v1m0 5v1m0 3v1m0 35v2m0 2v2m0 2v1m0 1v1m0 3v1m0 11v1m0 12v1m0 7v1m0 2v1m0 6v1M57.5 21v1m0 12v2m0 5v1m0 3v1m0 6v1m0 9v1m0 3v1m0 16v1m0 2v1m0 2v1m0 6v1m0 2v1m0 6v1m0 2v1m0 6v1m0 6v1m0 4v1m0 2v3m0 6v1m0 3v1m0 1v1m0 4v1m0 2v1m0 1v1m0 4v2m0 16v1m0 5v3m0 6v1m0 1v3m0 7v1m0 1v1m0 2v1m0 6v3m0 15v1m0 8v1m0 4v1m0 4v1m0 2v1m0 6v2m0 2v3m0 15v2m0 1v1m0 5v1m0 21v1m0 6v1m0 5v1m0 1v1m0 1v2m0 3v2m0 6v1m0 12v1m0 7v1m0 2v1m0 13v1m0 8v1m0 1v1m0 1v1M58.5 0v1m0 20v1m0 7v2m0 1v2m0 6v1m0 4v1m0 1v1m0 5v1m0 23v2m0 4v1m0 1v2m0 8v1m0 24v1m0 3v1m0 1v1m0 9v1m0 5v1m0 1v1m0 6v1m0 2v3m0 7v1m0 8v1m0 1v1m0 1v3m0 1v1m0 2v2m0 1v1m0 3v1m0 5v1m0 1v1m0 3v1m0 4v1m0 4v2m0 4v1m0 7v1m0 7v1m0 8v1m0 2v1m0 6v2m0 11v1m0 13v2m0 6v1m0 10v1m0 5v1m0 1v1m0 4v1m0 6v1m0 1v1m0 17v2m0 10v1m0 4v1m0 4v1m0 17v1m0 7v1m0 6v1m0 2v4M59.5 21v1m0 3v1m0 3v1m0 4v1m0 11v1m0 4v1m0 4v1m0 4v1m0 6v2m0 8v1m0 3v2m0 12v1m0 2v1m0 10v1m0 2v1m0 14v1m0 6v1m0 7v2m0 6v1m0 6v1m0 16v2m0 4v1m0 5v2m0 1v1m0 12v1m0 2v1m0 22v1m0 3v1m0 13v1m0 12v1m0 3v1m0 2v2m0 5v1m0 4v1m0 1v5m0 2v1m0 1v1m0 2v1m0 1v1m0 27v1m0 4v1m0 20v1m0 3v1m0 4v1m0 3v1m0 11v1m0 6v2m0 1v1m0 2v1m0 1v1m0 6v1m0 7v1M60.5 3v1m0 20v1m0 3v1m0 7v1m0 2v1m0 1v2m0 9v1m0 5v1m0 6v1m0 5v1m0 7v2m0 9v1m0 19v1m0 1v1m0 11v1m0 19v1m0 1v1m0 11v2m0 2v2m0 1v1m0 1v1m0 8v1m0 9v2m0 3v1m0 17v2m0 10v1m0 1v1m0 5v1m0 14v1m0 17v1m0 17v1m0 11v1m0 20v1m0 9v2m0 3v1m0 2v1m0 1v2m0 2v1m0 2v1m0 1v2m0 7v1m0 7v1m0 3v1m0 1v1m0 2v1m0 3v1m0 1v1m0 2v2m0 4v1m0 12v2M61.5 22v1m0 1v2m0 7v1m0 5v1m0 11v3m0 9v1m0 3v1m0 1v1m0 8v1m0 3v1m0 3v2m0 4v1m0 10v1m0 5v1m0 9v1m0 4v1m0 22v1m0 2v2m0 2v2m0 18v1m0 15v1m0 2v1m0 1v1m0 9v1m0 6v1m0 8v1m0 3v1m0 3v1m0 1v2m0 8v1m0 1v1m0 6v3m0 7v1m0 6v2m0 2v1m0 8v1m0 5v1m0 1v2m0 1v2m0 9v1m0 2v1m0 1v1m0 1v1m0 4v1m0 13v2m0 7v1m0 1v1m0 4v1m0 1v1m0 2v1m0 1v1m0 6v1m0 4v1m0 7v1m0 2v2m0 17v1m0 1v1m0 6v1M62.5 3v1m0 1v1m0 21v2m0 1v1m0 1v4m0 1v1m0 6v1m0 2v1m0 5v1m0 8v1m0 2v1m0 4v1m0 10v1m0 1v1m0 3v1m0 5v1m0 4v1m0 5v3m0 8v1m0 18v2m0 1v1m0 2v1m0 1v1m0 10v1m0 21v1m0 11v1m0 1v1m0 10v1m0 2v1m0 1v1m0 10v1m0 1v1m0 1v2m0 6v1m0 5v1m0 2v1m0 1v1m0 5v1m0 11v1m0 8v1m0 6v2m0 8v1m0 2v1m0 1v2m0 4v1m0 2v1m0 2v1m0 5v1m0 7v1m0 2v2m0 2v1m0 11v1m0 2v1m0 5v1m0 2v1m0 10v1m0 3v1m0 5v1m0 3v1m0 7v1m0 1v2m0 1v1m0 1v1m0 6v2m0 6v2m0 2v1M63.5 28v1m0 6v3m0 1v1m0 5v1m0 2v1m0 1v1m0 1v1m0 1v1m0 4v1m0 3v1m0 1v2m0 20v1m0 13v1m0 31v1m0 1v1m0 1v1m0 15v1m0 1v1m0 10v1m0 1v1m0 8v1m0 5v2m0 6v1m0 2v1m0 6v1m0 3v2m0 1v1m0 2v1m0 17v5m0 10v1m0 3v2m0 12v1m0 10v1m0 3v2m0 1v1m0 16v1m0 6v1m0 2v2m0 14v1m0 1v2m0 2v1m0 13v1m0 11v2m0 7v1m0 6v2m0 15v1m0 11v1m0 5v1M64.5 24v1m0 1v1m0 2v1m0 2v1m0 19v1m0 9v1m0 3v2m0 5v1m0 4v1m0 1v2m0 3v1m0 1v1m0 6v2m0 5v1m0 6v1m0 2v2m0 2v1m0 1v1m0 3v1m0 5v1m0 3v1m0 14v1m0 10v1m0 4v1m0 7v1m0 7v1m0 3v3m0 8v1m0 3v1m0 3v1m0 4v2m0 17v1m0 3v1m0 9v2m0 1v1m0 68v2m0 2v1m0 24v1m0 24v1M65.5 1v1m0 25v1m0 4v1m0 8v1m0 39v1m0 9v1m0 23v1m0 8v1m0 3v1m0 4v1m0 3v1m0 8v2m0 2v1m0 8v2m0 6v1m0 1v1m0 5v2m0 7v1m0 3v2m0 3v3m0 2v1m0 1v1m0 5v2m0 5v1m0 14v1m0 3v1m0 12v1m0 6v1m0 20v1m0 7v1m0 8v1m0 11v2m0 11v1m0 3v3m0 6v4m0 3v1m0 4v1m0 2v1m0 2v1m0 7v1m0 2v2m0 1v1m0 2v1m0 3v1m0 9v2m0 3v1m0 4v2m0 4v1m0 1v1m0 1v2m0 1v1m0 3v1M66.5 2v1m0 24v1m0 1v1m0 5v3m0 6v2m0 3v1m0 2v1m0 11v1m0 2v1m0 8v1m0 6v1m0 8v2m0 5v1m0 24v1m0 6v2m0 11v1m0 10v1m0 1v1m0 13v1m0 1v1m0 2v1m0 7v2m0 7v1m0 18v1m0 1v1m0 31v1m0 2v1m0 3v1m0 2v1m0 13v1m0 6v1m0 12v2m0 3v3m0 4v2m0 4v1m0 2v1m0 8v1m0 21v1m0 2v1m0 1v1m0 2v1m0 2v1m0 16v1m0 4v1m0 4v2m0 8v1M67.5 21v1m0 1v1m0 1v1m0 13v1m0 1v1m0 1v1m0 7v2m0 26v1m0 1v1m0 11v1m0 9v1m0 3v2m0 2v1m0 3v2m0 1v1m0 11v1m0 2v1m0 1v1m0 6v1m0 3v2m0 1v1m0 12v2m0 10v1m0 15v1m0 3v1m0 8v1m0 2v1m0 2v1m0 5v1m0 1v1m0 20v2m0 5v1m0 6v1m0 3v1m0 1v1m0 8v1m0 3v1m0 2v1m0 6v1m0 4v1m0 11v1m0 3v3m0 3v1m0 1v1m0 5v1m0 2v1m0 4v1m0 3v2m0 4v1m0 4v1m0 2v1m0 3v1m0 7v1m0 4v1m0 1v2m0 3v1m0 1v3m0 9v1m0 8v1m0 3v2m0 2v3m0 1v1m0 2v1m0 1v1M68.5 21v4m0 1v1m0 1v1m0 6v1m0 3v1m0 13v1m0 2v1m0 5v1m0 8v1m0 12v1m0 11v1m0 2v2m0 12v1m0 1v1m0 4v1m0 9v2m0 15v1m0 16v2m0 1v1m0 8v1m0 1v1m0 20v1m0 6v1m0 10v1m0 3v1m0 9v1m0 19v1m0 2v3m0 1v1m0 9v1m0 3v1m0 7v2m0 5v1m0 5v1m0 12v1m0 11v2m0 1v1m0 4v1m0 2v5m0 4v1m0 1v2m0 6v1m0 9v1m0 2v1m0 8v1m0 2v1m0 1v2m0 1v1m0 12v1m0 3v1m0 6v1M69.5 21v1m0 8v2m0 5v1m0 20v2m0 1v2m0 2v2m0 1v1m0 3v1m0 7v3m0 3v1m0 7v1m0 1v1m0 4v1m0 2v1m0 1v1m0 8v2m0 11v1m0 3v2m0 3v1m0 2v1m0 2v1m0 3v1m0 4v1m0 2v1m0 4v1m0 1v1m0 6v1m0 3v2m0 5v1m0 1v1m0 11v1m0 2v1m0 1v1m0 1v1m0 5v1m0 2v1m0 4v1m0 6v1m0 4v1m0 2v1m0 4v1m0 12v1m0 1v5m0 15v1m0 1v1m0 8v1m0 7v1m0 8v1m0 15v2m0 3v1m0 1v1m0 6v1m0 6v1m0 1v1m0 3v1m0 5v1m0 3v1m0 4v1m0 1v1m0 3v1m0 5v1m0 7v1m0 2v1m0 1v3m0 2v1m0 3v1m0 5v1M70.5 0v1m0 20v1m0 9v2m0 1v1m0 5v3m0 6v2m0 8v1m0 5v1m0 1v1m0 3v1m0 17v1m0 11v1m0 8v1m0 20v1m0 16v1m0 1v1m0 2v1m0 1v2m0 10v1m0 3v1m0 6v1m0 6v1m0 1v1m0 6v1m0 13v5m0 3v1m0 11v1m0 2v1m0 2v1m0 2v2m0 6v1m0 6v1m0 1v1m0 7v1m0 3v2m0 3v1m0 5v1m0 1v1m0 7v1m0 1v1m0 6v1m0 4v3m0 4v1m0 1v1m0 6v2m0 8v1m0 1v2m0 3v1m0 3v1m0 6v2m0 3v1m0 5v1m0 8v2m0 1v1m0 2v1m0 4v5m0 1v1m0 2v1m0 5v1m0 10v1m0 2v1M71.5 45v1m0 121v2m0 6v1m0 6v1m0 6v1m0 5v1m0 7v1m0 14v1m0 6v2m0 4v1m0 18v1m0 9v1m0 14v1m0 4v1m0 3v2m0 4v1m0 4v1m0 14v1m0 8v1m0 5v3m0 12v1m0 10v1m0 3v2m0 16v1m0 20v1m0 3v2m0 6v1M72.5 1v1m0 19v1m0 1v2m0 1v2m0 5v2m0 7v1m0 5v1m0 3v1m0 1v1m0 2v1m0 2v1m0 1v1m0 2v1m0 6v1m0 15v1m0 1v1m0 1v1m0 12v1m0 1v1m0 9v1m0 10v1m0 12v1m0 5v1m0 2v1m0 7v1m0 2v1m0 2v1m0 11v1m0 15v2m0 2v2m0 5v1m0 4v1m0 5v1m0 1v1m0 1v1m0 23v1m0 1v1m0 6v1m0 3v1m0 9v1m0 5v1m0 8v1m0 4v1m0 1v2m0 3v1m0 5v1m0 5v1m0 4v2m0 2v1m0 4v1m0 4v1m0 11v1m0 5v1m0 7v1m0 12v2m0 4v1m0 10v1m0 1v1m0 1v1m0 2v1m0 8v2M73.5 23v1m0 5v1m0 15v1m0 12v4m0 5v1m0 13v1m0 10v2m0 21v1m0 12v2m0 5v1m0 7v1m0 3v2m0 9v1m0 21v1m0 1v1m0 6v1m0 12v2m0 2v1m0 10v1m0 3v1m0 11v1m0 12v1m0 9v2m0 12v1m0 3v1m0 3v1m0 5v1m0 9v1m0 3v2m0 6v1m0 7v2m0 1v1m0 3v1m0 1v1m0 12v2m0 3v2m0 1v1m0 24v1m0 14v1m0 4v1M74.5 30v1m0 12v1m0 4v2m0 9v2m0 1v1m0 3v1m0 22v1m0 5v2m0 15v1m0 38v1m0 11v1m0 19v1m0 5v1m0 20v1m0 2v3m0 19v2m0 4v1m0 6v1m0 5v1m0 1v1m0 1v1m0 6v3m0 1v1m0 7v2m0 12v2m0 37v1m0 9v1m0 3v1m0 38v2m0 7v1M75.5 0v2m0 22v1m0 3v1m0 8v1m0 4v1m0 1v1m0 1v1m0 13v1m0 2v1m0 4v2m0 11v1m0 1v1m0 3v1m0 20v1m0 3v2m0 15v1m0 1v1m0 2v1m0 5v1m0 2v2m0 1v1m0 13v2m0 5v1m0 10v1m0 1v2m0 4v1m0 9v1m0 6v1m0 9v1m0 15v1m0 2v2m0 11v1m0 1v1m0 1v1m0 11v1m0 6v1m0 1v2m0 8v1m0 9v2m0 11v1m0 4v1m0 16v1m0 18v1m0 6v1m0 1v1m0 4v1m0 3v1m0 2v1m0 8v1m0 6v1m0 5v2m0 1v1m0 2v2M76.5 22v1m0 3v1m0 1v1m0 5v2m0 6v1m0 11v2m0 5v1m0 2v1m0 1v1m0 23v1m0 12v1m0 4v2m0 1v2m0 1v1m0 2v1m0 1v1m0 5v1m0 5v2m0 1v1m0 5v1m0 8v1m0 14v1m0 4v1m0 3v1m0 5v1m0 2v1m0 5v1m0 1v2m0 6v2m0 1v1m0 8v2m0 1v1m0 1v2m0 5v1m0 15v1m0 25v1m0 8v1m0 2v1m0 3v1m0 2v1m0 2v1m0 11v3m0 3v2m0 4v1m0 1v2m0 2v1m0 3v1m0 5v2m0 4v1m0 6v1m0 1v1m0 4v1m0 21v1m0 2v1m0 1v1m0 2v2m0 14v1m0 1v1m0 9v1M77.5 26v1m0 3v1m0 1v3m0 3v1m0 2v1m0 6v3m0 3v1m0 7v2m0 2v1m0 1v1m0 4v1m0 6v1m0 11v1m0 4v1m0 1v1m0 9v1m0 10v1m0 4v1m0 1v3m0 2v1m0 36v1m0 2v1m0 1v1m0 8v1m0 1v1m0 3v1m0 9v1m0 1v1m0 4v3m0 10v1m0 12v1m0 9v3m0 8v1m0 2v1m0 1v1m0 6v1M78.5 30v1m0 6v1m0 8v1m0 3v1m0 26v1m0 7v1m0 3v1m0 2v1m0 3v1m0 5v1m0 6v1m0 12v1m0 9v1m0 112v1m0 3v2m0 9v3m0 14v2m0 6v1m0 2v1m0 3v1m0 7v2m0 1v1m0 1v1m0 4v1m0 12v2m0 1v1m0 1v1m0 12v1m0 3v1m0 6v1m0 2v1m0 4v1m0 13v1m0 14v1M79.5 21v2m0 17v1m0 4v1m0 4v1m0 3v1m0 10v1m0 16v1m0 3v1m0 1v1m0 3v1m0 4v1m0 1v2m0 3v1m0 13v1m0 15v1m0 1v1m0 2v1m0 4v1m0 9v1m0 43v2m0 5v1m0 32v1m0 2v1m0 11v2m0 21v1m0 13v2m0 16v1m0 9v1m0 8v3m0 1v1m0 25v2m0 11v1m0 3v1m0 13v1m0 9v1M80.5 25v1m0 6v1m0 5v1m0 6v2m0 10v1m0 10v1m0 10v1m0 12v1m0 4v1m0 1v1m0 6v1m0 1v2m0 9v1m0 3v1m0 4v1m0 5v1m0 2v2m0 2v1m0 5v1m0 3v1m0 2v1m0 3v1m0 1v1m0 4v1m0 3v1m0 10v2m0 3v1m0 3v1m0 3v1m0 4v2m0 10v1m0 3v1m0 3v1m0 12v2m0 1v1m0 11v1m0 3v1m0 10v1m0 2v1m0 5v1m0 2v1m0 3v1m0 2v2m0 11v2m0 7v1m0 3v1m0 13v4m0 3v2m0 14v1m0 16v1m0 2v1m0 15v1m0 2v1m0 7v2m0 1v1m0 4v1m0 2v1M81.5 1v1m0 18v1m0 3v3m0 1v1m0 7v1m0 2v1m0 4v1m0 12v1m0 2v1m0 6v1m0 1v1m0 2v1m0 1v1m0 1v1m0 5v1m0 4v1m0 4v1m0 4v1m0 10v1m0 1v1m0 29v2m0 2v1m0 6v1m0 3v1m0 1v1m0 1v1m0 5v2m0 15v1m0 4v2m0 2v1m0 1v1m0 3v2m0 1v1m0 5v1m0 11v1m0 7v1m0 1v1m0 5v1m0 8v1m0 6v1m0 3v1m0 4v1m0 4v2m0 15v1m0 3v2m0 4v2m0 7v1m0 3v2m0 4v1m0 3v1m0 2v2m0 2v1m0 6v1m0 6v1m0 1v1m0 5v1m0 1v1m0 4v1m0 7v2m0 2v2m0 1v1m0 6v1m0 1v1m0 6v1m0 2v2m0 1v1m0 1v2m0 7v1m0 1v1M82.5 31v1m0 5v1m0 4v1m0 9v1m0 18v2m0 3v2m0 7v2m0 2v1m0 3v2m0 1v1m0 3v1m0 12v1m0 5v1m0 24v1m0 17v1m0 1v1m0 23v1m0 11v1m0 4v1m0 8v2m0 4v1m0 6v1m0 4v2m0 2v1m0 4v1m0 2v1m0 2v1m0 4v1m0 8v1m0 12v1m0 2v1m0 9v3m0 8v1m0 7v1m0 9v1m0 9v1m0 4v2m0 4v2m0 3v2m0 4v1m0 24v1m0 1v1m0 3v1m0 2v1m0 6v1m0 12v1m0 2v1M83.5 21v1m0 9v1m0 3v1m0 3v1m0 2v1m0 9v1m0 5v1m0 5v1m0 1v1m0 3v1m0 1v1m0 2v2m0 9v1m0 4v2m0 5v2m0 20v1m0 1v2m0 7v2m0 1v1m0 8v1m0 2v1m0 8v1m0 4v1m0 3v1m0 2v1m0 20v1m0 5v1m0 2v1m0 7v1m0 3v1m0 3v1m0 3v1m0 7v1m0 19v1m0 1v1m0 4v1m0 4v1m0 3v1m0 3v2m0 25v1m0 2v1m0 2v1m0 2v1m0 1v1m0 10v1m0 1v1m0 9v1m0 12v1m0 5v2m0 1v1m0 2v1m0 11v1m0 7v1m0 2v1m0 2v1m0 9v1m0 15v1M84.5 20v1m0 6v1m0 14v1m0 5v2m0 31v2m0 7v1m0 8v2m0 10v1m0 9v1m0 2v2m0 19v1m0 4v1m0 9v1m0 6v2m0 2v1m0 2v1m0 3v2m0 6v1m0 1v1m0 2v1m0 24v2m0 13v1m0 53v1m0 5v1m0 13v2m0 13v2m0 7v1m0 7v1m0 3v1m0 2v1m0 4v1m0 1v2m0 2v1m0 1v1m0 7v1m0 5v1m0 2v1m0 2v2m0 5v1m0 3v1m0 15v2M85.5 23v1m0 4v1m0 5v1m0 9v1m0 5v1m0 3v1m0 4v1m0 2v1m0 4v1m0 17v2m0 52v1m0 1v1m0 1v1m0 1v1m0 5v1m0 13v1m0 9v1m0 3v2m0 9v1m0 2v1m0 8v1m0 9v1m0 3v1m0 1v1m0 1v5m0 6v1m0 5v1m0 8v1m0 4v1m0 4v1m0 3v1m0 1v2m0 7v1m0 6v1m0 3v3m0 7v1m0 3v2m0 7v3m0 2v1m0 5v1m0 2v1m0 25v1m0 3v1m0 5v1m0 8v1m0 4v1m0 8v1m0 11v1m0 2v1m0 9v2M86.5 19v1m0 1v1m0 2v2m0 15v2m0 4v3m0 2v1m0 6v1m0 1v1m0 9v2m0 6v1m0 2v1m0 3v1m0 3v1m0 1v3m0 1v1m0 9v1m0 3v1m0 2v1m0 15v1m0 2v1m0 14v1m0 1v1m0 3v1m0 2v1m0 1v2m0 9v1m0 5v1m0 2v1m0 8v1m0 4v1m0 5v1m0 3v1m0 3v1m0 2v2m0 2v1m0 9v1m0 1v1m0 2v1m0 2v2m0 8v1m0 7v3m0 1v1m0 8v1m0 2v1m0 2v1m0 19v1m0 22v1m0 3v1m0 3v1m0 3v1m0 4v2m0 10v1m0 2v1m0 3v1m0 4v1m0 14v2m0 2v3m0 14v2m0 9v1M87.5 0v2m0 19v1m0 15v1m0 9v2m0 8v1m0 1v2m0 1v3m0 7v2m0 2v3m0 2v1m0 1v1m0 5v1m0 15v1m0 2v3m0 1v1m0 2v1m0 9v1m0 2v1m0 3v1m0 8v1m0 6v1m0 1v2m0 10v1m0 32v1m0 3v1m0 50v1m0 9v1m0 36v1m0 23v1m0 6v1m0 56v1m0 7v1m0 1v1m0 2v3m0 1v2M88.5 0v1m0 22v1m0 3v1m0 3v1m0 5v1m0 7v1m0 4v1m0 2v4m0 2v2m0 4v1m0 3v1m0 1v2m0 2v1m0 4v1m0 11v1m0 2v1m0 2v2m0 29v1m0 14v1m0 1v2m0 7v1m0 1v1m0 6v1m0 2v2m0 4v1m0 4v1m0 1v1m0 17v1m0 4v1m0 3v1m0 5v1m0 2v2m0 4v1m0 5v1m0 15v1m0 7v1m0 2v2m0 6v1m0 6v1m0 4v1m0 1v1m0 2v2m0 1v1m0 6v2m0 4v1m0 6v1m0 1v1m0 3v1m0 7v1m0 1v1m0 8v1m0 9v1m0 5v1m0 5v1m0 5v1m0 7v1m0 3v1m0 4v1m0 7v1m0 1v1m0 3v1m0 2v1m0 4v1m0 9v1M89.5 43v2m0 3v1m0 15v1m0 4v1m0 8v1m0 4v1m0 25v2m0 2v1m0 8v1m0 7v1m0 18v1m0 16v1m0 4v1m0 2v1m0 7v1m0 16v1m0 2v1m0 25v1m0 12v1m0 13v1m0 2v1m0 3v3m0 2v1m0 2v1m0 1v2m0 12v1m0 2v1m0 2v2m0 9v1m0 2v2m0 2v2m0 1v1m0 5v1m0 8v3m0 1v2m0 6v1m0 5v1m0 12v1m0 15v1m0 4v3m0 18v1M90.5 2v1m0 24v1m0 6v1m0 4v1m0 2v1m0 1v2m0 1v1m0 4v1m0 7v1m0 14v1m0 1v1m0 2v2m0 3v1m0 12v1m0 6v2m0 5v1m0 12v1m0 3v1m0 4v1m0 5v1m0 1v1m0 3v2m0 3v1m0 1v1m0 28v2m0 2v1m0 1v2m0 1v1m0 14v1m0 3v1m0 4v1m0 9v1m0 10v1m0 4v1m0 8v1m0 5v1m0 4v1m0 2v1m0 4v1m0 1v1m0 3v1m0 1v1m0 1v1m0 10v2m0 3v1m0 11v3m0 3v2m0 1v2m0 4v1m0 9v2m0 6v1m0 10v1m0 1v1m0 2v2m0 9v1m0 1v2m0 11v2m0 7v3M91.5 41v1m0 15v1m0 14v2m0 7v1m0 37v1m0 28v1m0 14v1m0 3v1m0 6v2m0 6v1m0 2v2m0 18v1m0 16v1m0 29v1m0 21v2m0 10v1m0 3v1m0 1v2m0 15v1m0 1v2m0 1v1m0 1v1m0 22v1m0 36v1m0 15v1M92.5 1v1m0 28v2m0 3v1m0 7v1m0 3v2m0 1v1m0 12v1m0 2v1m0 16v1m0 3v2m0 3v1m0 8v1m0 1v1m0 1v1m0 4v2m0 18v1m0 14v1m0 5v2m0 2v1m0 1v1m0 3v1m0 3v1m0 6v4m0 1v1m0 1v1m0 3v1m0 6v1m0 3v1m0 4v2m0 4v1m0 8v2m0 8v1m0 3v1m0 3v1m0 2v2m0 4v1m0 2v3m0 8v1m0 1v1m0 5v1m0 3v2m0 7v1m0 4v1m0 1v2m0 5v1m0 11v1m0 6v1m0 2v1m0 5v1m0 4v1m0 3v1m0 8v1m0 1v1m0 8v2m0 20v2m0 5v1m0 3v2m0 3v1m0 2v3m0 2v1m0 8v1M93.5 21v1m0 3v1m0 3v2m0 7v2m0 19v3m0 14v1m0 5v1m0 2v1m0 2v1m0 1v1m0 10v1m0 1v3m0 4v1m0 6v3m0 2v1m0 13v1m0 4v1m0 4v1m0 1v1m0 2v1m0 8v2m0 6v1m0 17v1m0 1v3m0 1v2m0 5v4m0 1v1m0 2v2m0 2v1m0 3v1m0 1v1m0 8v1m0 5v1m0 14v1m0 1v1m0 5v1m0 1v1m0 6v1m0 1v1m0 1v1m0 12v1m0 3v1m0 4v2m0 6v1m0 1v2m0 4v1m0 1v1m0 9v1m0 1v1m0 18v1m0 1v1m0 5v1m0 5v1m0 2v2m0 9v1m0 13v2m0 3v1m0 1v1m0 6v2M94.5 27v1m0 13v1m0 14v1m0 4v1m0 2v1m0 1v1m0 3v2m0 8v1m0 11v1m0 8v1m0 4v1m0 7v1m0 1v1m0 6v2m0 1v1m0 11v1m0 4v2m0 1v1m0 1v1m0 1v1m0 1v1m0 1v1m0 1v1m0 14v1m0 3v2m0 9v1m0 17v1m0 3v1m0 7v1m0 6v1m0 9v1m0 6v1m0 4v1m0 1v1m0 5v1m0 25v1m0 6v1m0 9v1m0 9v1m0 16v1m0 13v1m0 1v1m0 6v1m0 4v1m0 36v4m0 13v1M95.5 35v1m0 2v1m0 8v1m0 3v1m0 16v1m0 7v1m0 4v1m0 2v1m0 5v1m0 22v1m0 19v2m0 18v1m0 1v2m0 11v1m0 1v1m0 7v1m0 26v1m0 28v1m0 5v1m0 1v2m0 4v1m0 6v1m0 22v1m0 10v1m0 1v1m0 11v1m0 8v1m0 9v1m0 13v1m0 9v1m0 3v1m0 3v2m0 27v1m0 16v1M96.5 27v1m0 5v1m0 4v3m0 11v1m0 3v1m0 8v2m0 1v1m0 33v1m0 20v1m0 3v1m0 15v1m0 15v1m0 24v1m0 10v1m0 24v1m0 5v2m0 4v2m0 21v1m0 1v1m0 3v1m0 3v1m0 5v1m0 10v1m0 9v1m0 10v1m0 3v2m0 2v1m0 7v1m0 2v1m0 2v1m0 16v2m0 5v1m0 2v1m0 3v1m0 21v1m0 4v1m0 21v1M97.5 24v1m0 3v1m0 4v1m0 1v1m0 4v1m0 9v1m0 2v1m0 9v1m0 9v3m0 18v2m0 4v1m0 7v1m0 7v1m0 10v1m0 1v1m0 1v1m0 2v3m0 2v1m0 9v1m0 1v1m0 5v1m0 3v2m0 6v1m0 1v1m0 8v2m0 2v1m0 5v1m0 4v1m0 3v1m0 7v1m0 4v1m0 4v1m0 8v1m0 1v1m0 9v1m0 2v1m0 1v1m0 15v1m0 1v1m0 2v1m0 5v1m0 2v2m0 3v2m0 10v1m0 6v1m0 9v1m0 3v1m0 4v1m0 5v1m0 8v1m0 2v1m0 1v2m0 14v1m0 9v2m0 2v1m0 2v1m0 4v1m0 6v1m0 1v2m0 2v1m0 1v1m0 7v1m0 7v2M98.5 0v1m0 21v2m0 5v1m0 6v1m0 7v1m0 13v2m0 13v3m0 1v1m0 1v1m0 1v2m0 2v2m0 24v1m0 3v1m0 8v1m0 13v1m0 9v1m0 6v1m0 3v1m0 14v1m0 6v1m0 21v1m0 4v1m0 6v1m0 4v1m0 2v1m0 38v1m0 7v1m0 1v2m0 1v2m0 3v1m0 3v1m0 4v1m0 4v1m0 3v2m0 4v2m0 16v1m0 1v1m0 16v1m0 4v2m0 7v1m0 6v1m0 1v1m0 2v1m0 9v1m0 3v1m0 10v1M99.5 21v1m0 5v1m0 1v1m0 3v1m0 2v1m0 2v1m0 8v1m0 16v1m0 6v1m0 8v1m0 8v1m0 5v1m0 3v1m0 5v1m0 3v1m0 16v1m0 8v2m0 5v1m0 8v1m0 14v1m0 5v1m0 1v2m0 4v1m0 2v1m0 6v1m0 3v1m0 10v1m0 14v1m0 3v1m0 3v1m0 11v4m0 1v1m0 5v1m0 15v2m0 8v1m0 3v1m0 3v1m0 3v1m0 2v1m0 2v2m0 4v1m0 4v1m0 1v2m0 1v1m0 7v1m0 1v1m0 1v1m0 10v1m0 3v2m0 6v1m0 2v2m0 1v1m0 2v1m0 3v3m0 1v1m0 1v1m0 3v1m0 5v2m0 2v1m0 2v1m0 2v1m0 9v1m0 2v1m0 1v1M100.5 2v1m0 19v1m0 2v1m0 1v1m0 19v1m0 18v2m0 1v2m0 14v1m0 5v1m0 4v1m0 2v1m0 2v1m0 2v1m0 5v1m0 10v1m0 11v1m0 3v1m0 9v2m0 17v2m0 1v2m0 3v1m0 4v1m0 8v1m0 6v1m0 1v1m0 7v1m0 2v1m0 2v1m0 4v1m0 1v1m0 12v1m0 6v1m0 1v2m0 6v1m0 2v1m0 5v3m0 4v2m0 9v2m0 20v1m0 8v1m0 1v1m0 2v1m0 3v2m0 2v2m0 8v1m0 6v1m0 10v2m0 11v1m0 8v1m0 4v1m0 4v1m0 16v1m0 7v1M101.5 2v1m0 24v1m0 2v1m0 6v1m0 1v1m0 4v1m0 4v2m0 1v1m0 11v1m0 3v1m0 1v1m0 1v1m0 11v1m0 8v2m0 4v1m0 10v2m0 17v1m0 10v1m0 5v1m0 2v1m0 9v1m0 2v1m0 1v1m0 9v1m0 12v1m0 4v1m0 1v2m0 6v2m0 10v1m0 5v2m0 4v1m0 5v3m0 9v1m0 1v2m0 3v1m0 5v1m0 14v1m0 3v2m0 4v1m0 1v1m0 1v2m0 9v1m0 5v1m0 2v1m0 19v1m0 9v2m0 8v1m0 10v1m0 5v1m0 1v1m0 5v2m0 4v2m0 3v1m0 8v1m0 4v1m0 6v1M102.5 25v2m0 7v2m0 20v1m0 6v3m0 1v1m0 3v1m0 1v1m0 3v2m0 10v1m0 9v1m0 10v1m0 1v1m0 1v2m0 12v1m0 13v1m0 16v1m0 2v1m0 1v1m0 2v1m0 1v1m0 6v1m0 11v2m0 2v1m0 16v2m0 3v1m0 1v1m0 3v2m0 14v1m0 9v1m0 10v1m0 6v1m0 1v1m0 3v3m0 3v1m0 9v1m0 3v1m0 7v2m0 6v1m0 2v1m0 1v1m0 6v1m0 2v1m0 22v1m0 29v1m0 2v1m0 4v1m0 7v1m0 2v3m0 3v1m0 4v1M103.5 0v1m0 20v1m0 5v1m0 2v1m0 1v1m0 3v1m0 6v2m0 1v1m0 1v1m0 13v1m0 9v1m0 17v1m0 8v1m0 1v1m0 1v1m0 11v1m0 2v1m0 9v1m0 4v2m0 16v1m0 2v1m0 8v1m0 6v1m0 11v2m0 4v1m0 8v1m0 7v1m0 1v1m0 8v1m0 3v1m0 8v1m0 1v1m0 2v3m0 3v1m0 8v1m0 10v1m0 9v1m0 3v1m0 11v1m0 2v1m0 11v4m0 15v2m0 6v4m0 7v1m0 4v1m0 2v1m0 15v1m0 7v1m0 4v1m0 2v1m0 1v1m0 7v1m0 6v1m0 2v1M104.5 4v1m0 15v1m0 3v1m0 5v1m0 2v1m0 5v1m0 1v1m0 3v1m0 2v1m0 1v1m0 8v1m0 4v1m0 10v1m0 1v1m0 6v1m0 5v1m0 3v1m0 5v1m0 1v2m0 1v1m0 6v1m0 5v1m0 1v1m0 3v1m0 3v1m0 3v1m0 7v1m0 1v2m0 3v1m0 1v1m0 4v1m0 3v1m0 17v2m0 1v1m0 7v2m0 8v1m0 1v1m0 32v1m0 14v2m0 5v1m0 3v1m0 5v3m0 1v1m0 2v1m0 7v1m0 2v1m0 2v2m0 3v1m0 3v1m0 15v2m0 3v1m0 10v1m0 6v2m0 1v1m0 27v2m0 3v2m0 9v1m0 6v2m0 3v2m0 2v1m0 2v1m0 1v2M105.5 2v1m0 16v1m0 2v1m0 13v1m0 4v1m0 4v1m0 11v1m0 8v2m0 8v1m0 9v1m0 12v2m0 5v1m0 11v1m0 5v1m0 5v1m0 1v2m0 2v1m0 1v1m0 7v1m0 13v1m0 3v1m0 1v1m0 2v1m0 5v1m0 3v3m0 10v1m0 1v1m0 2v1m0 1v1m0 1v1m0 1v1m0 15v1m0 1v1m0 43v1m0 2v3m0 13v1m0 15v1m0 1v2m0 3v1m0 2v1m0 1v1m0 3v1m0 1v2m0 1v1m0 1v1m0 2v1m0 7v1m0 9v1m0 5v1m0 2v1m0 2v1m0 2v1m0 1v1m0 9v1m0 12v1m0 8v1m0 1v1m0 1v1M106.5 2v1m0 29v1m0 1v2m0 17v1m0 4v1m0 1v1m0 19v1m0 15v1m0 3v1m0 10v1m0 23v1m0 4v1m0 1v1m0 8v1m0 16v1m0 1v1m0 8v1m0 12v1m0 4v1m0 2v1m0 7v1m0 3v2m0 15v1m0 7v2m0 1v1m0 11v1m0 1v1m0 1v1m0 6v1m0 5v1m0 7v3m0 2v1m0 2v1m0 9v1m0 7v1m0 19v1m0 26v1m0 12v1m0 27v1m0 11v2M108.5 2v1m0 17v1m0 13v4m0 2v1m0 11v1m0 2v1m0 2v1m0 19v1m0 1v1m0 4v1m0 5v1m0 4v1m0 6v1m0 1v1m0 3v1m0 10v1m0 2v1m0 44v1m0 2v2m0 4v1m0 1v1m0 3v1m0 3v1m0 8v1m0 2v1m0 10v1m0 6v1m0 8v1m0 9v1m0 5v1m0 3v1m0 10v1m0 2v1m0 28v1m0 7v1m0 1v1m0 5v1m0 1v1m0 2v1m0 1v1m0 20v2m0 7v1m0 4v2m0 2v1m0 8v1m0 19v1m0 4v1m0 1v1m0 11v1M110.5 35v2m0 15v1m0 4v1m0 5v1m0 11v1m0 1v1m0 7v1m0 11v2m0 2v1m0 5v1m0 3v1m0 1v1m0 3v1m0 4v1m0 5v3m0 1v1m0 1v1m0 1v1m0 1v2m0 5v1m0 45v1m0 17v1m0 4v1m0 12v1m0 7v1m0 19v1m0 3v1m0 2v1m0 1v1m0 44v1m0 4v1m0 9v1m0 10v1m0 5v2m0 10v1m0 3v1m0 7v1m0 18v1m0 8v1m0 1v1m0 5v1m0 1v1M112.5 20v1m0 10v1m0 20v1m0 1v1m0 4v1m0 15v1m0 14v1m0 8v1m0 8v1m0 2v1m0 6v1m0 1v2m0 6v1m0 9v2m0 1v1m0 1v1m0 11v1m0 12v1m0 10v1m0 3v1m0 15v1m0 3v1m0 5v1m0 7v1m0 7v1m0 7v1m0 1v1m0 9v1m0 4v1m0 11v1m0 5v1m0 7v1m0 12v2m0 1v1m0 2v1m0 1v1m0 1v1m0 9v1m0 5v2m0 4v1m0 9v1m0 7v1m0 2v1m0 1v2m0 10v1m0 2v1m0 6v2m0 13v1m0 4v1m0 5v1M114.5 2v1m0 1v1m0 15v1m0 4v1m0 7v1m0 1v1m0 1v1m0 21v1m0 1v1m0 9v1m0 4v2m0 9v1m0 2v1m0 2v1m0 10v1m0 7v1m0 11v1m0 5v1m0 1v1m0 1v1m0 3v1m0 6v1m0 4v1m0 10v1m0 2v1m0 15v1m0 21v2m0 1v1m0 5v1m0 18v1m0 4v1m0 38v1m0 14v1m0 6v1m0 7v2m0 2v1m0 4v2m0 2v1m0 7v1m0 3v2m0 17v1m0 8v1m0 15v2m0 1v1m0 5v1m0 5v1m0 5v2m0 1v1m0 5v1M116.5 3v1m0 22v2m0 2v1m0 5v1m0 9v1m0 4v1m0 1v1m0 5v1m0 20v1m0 2v1m0 5v1m0 12v1m0 8v1m0 6v1m0 1v2m0 7v1m0 4v1m0 1v1m0 3v1m0 3v1m0 7v1m0 7v1m0 24v2m0 18v1m0 12v1m0 34v1m0 3v2m0 7v1m0 3v1m0 2v1m0 1v1m0 1v1m0 7v1m0 8v1m0 2v1m0 1v1m0 12v1m0 2v1m0 3v1m0 11v1m0 1v1m0 7v1m0 15v1m0 1v2m0 9v1m0 16v1m0 8v2m0 1v1m0 4v3M118.5 23v1m0 1v1m0 5v1m0 4v1m0 1v1m0 22v2m0 1v1m0 19v1m0 4v1m0 14v1m0 13v1m0 3v1m0 3v1m0 1v1m0 5v1m0 2v1m0 3v1m0 3v1m0 2v1m0 11v1m0 13v1m0 6v2m0 2v1m0 7v2m0 4v1m0 8v1m0 3v1m0 19v2m0 18v1m0 1v1m0 5v1m0 6v1m0 27v3m0 9v1m0 6v1m0 17v1m0 2v1m0 25v1m0 3v1m0 13v1m0 2v1m0 7v2m0 1v1M120.5 20v1m0 1v1m0 2v1m0 4v1m0 4v1m0 4v1m0 23v2m0 1v1m0 5v1m0 8v1m0 12v1m0 1v1m0 5v1m0 21v1m0 5v1m0 1v1m0 5v1m0 1v1m0 6v1m0 14v1m0 15v1m0 2v2m0 6v1m0 7v1m0 17v1m0 17v1m0 25v1m0 8v1m0 4v2m0 6v1m0 10v1m0 6v2m0 18v1m0 5v1m0 21v1m0 2v2m0 5v1m0 1v1m0 4v1m0 18v1m0 10v1m0 8v1M125.5 27v1m0 2v1m0 4v1m0 5v1m0 9v2m0 6v1m0 2v1m0 2v1m0 1v1m0 8v1m0 6v1m0 5v1m0 6v2m0 3v1m0 8v1m0 14v1m0 1v1m0 4v2m0 3v1m0 9v1m0 4v1m0 1v2m0 3v1m0 2v1m0 4v1m0 1v1m0 8v1m0 13v1m0 10v1m0 5v1m0 22v2m0 9v1m0 16v1m0 16v1m0 3v1m0 3v1m0 4v1m0 1v1m0 2v1m0 13v1m0 1v1m0 3v1m0 3v1m0 15v1m0 1v1m0 3v1m0 5v1m0 8v1m0 23v1m0 3v1m0 5v3m0 4v1m0 3v1m0 4v1M130.5 3v1m0 17v1m0 1v1m0 1v1m0 1v1m0 1v1m0 3v1m0 5v1m0 4v1m0 1v1m0 7v1m0 13v2m0 1v1m0 11v2m0 2v1m0 1v1m0 2v1m0 13v1m0 5v1m0 1v1m0 1v1m0 2v1m0 5v1m0 2v1m0 2v1m0 35v3m0 3v1m0 2v1m0 9v1m0 2v1m0 24v1m0 21v1m0 2v1m0 11v1m0 1v1m0 8v1m0 7v2m0 2v1m0 22v1m0 13v1m0 10v1m0 6v1m0 3v1m0 7v1m0 3v1m0 2v1m0 6v1m0 1v2m0 2v1m0 1v1m0 6v1m0 6v1m0 4v1m0 16v1M135.5 0v2m0 24v1m0 2v1m0 2v1m0 7v1m0 3v1m0 3v1m0 3v1m0 7v2m0 2v1m0 1v1m0 2v1m0 10v1m0 11v1m0 14v1m0 3v2m0 6v1m0 1v1m0 6v1m0 4v1m0 4v1m0 9v1m0 2v1m0 7v2m0 1v1m0 3v1m0 1v1m0 1v1m0 12v1m0 10v1m0 4v1m0 2v1m0 6v1m0 3v1m0 5v1m0 5v2m0 5v1m0 20v1m0 11v1m0 4v1m0 2v1m0 3v3m0 2v1m0 6v1m0 14v2m0 2v1m0 10v2m0 9v1m0 3v1m0 4v1m0 5v2m0 7v1m0 3v1m0 6v1m0 11v1m0 4v1m0 7v1m0 8v2M140.5 0v2m0 21v1m0 3v1m0 3v2m0 1v4m0 5v1m0 1v1m0 2v1m0 1v1m0 14v1m0 2v1m0 7v1m0 2v1m0 3v1m0 16v1m0 3v1m0 11v1m0 2v2m0 8v1m0 4v1m0 1v1m0 1v1m0 4v1m0 8v1m0 7v3m0 1v1m0 1v1m0 12v1m0 5v1m0 10v2m0 7v2m0 1v1m0 8v1m0 4v1m0 12v1m0 8v1m0 19v1m0 1v1m0 1v1m0 6v1m0 5v1m0 13v2m0 9v1m0 4v1m0 12v1m0 3v1m0 6v1m0 2v1m0 4v1m0 13v1m0 8v1m0 9v1m0 17v1m0 5v1M145.5 19v1m0 18v2m0 6v1m0 1v1m0 3v1m0 11v2m0 8v1m0 3v1m0 15v1m0 1v1m0 16v1m0 23v1m0 16v1m0 2v1m0 4v1m0 2v1m0 6v2m0 10v1m0 8v1m0 6v1m0 47v1m0 6v1m0 3v1m0 3v1m0 1v1m0 6v2m0 9v1m0 15v3m0 4v1m0 1v1m0 13v2m0 1v1m0 2v2m0 17v1m0 3v1m0 1v1m0 10v2m0 2v2m0 1v1m0 6v1m0 1v1m0 1v1m0 2v2m0 6v1M150.5 31v1m0 22v1m0 3v1m0 8v1m0 5v1m0 7v1m0 20v1m0 1v1m0 4v1m0 1v1m0 7v1m0 40v1m0 8v2m0 30v1m0 7v1m0 15v1m0 2v1m0 10v1m0 1v1m0 3v1m0 17v2m0 1v2m0 4v1m0 8v1m0 18v1m0 4v1m0 5v1m0 6v1m0 5v1m0 1v1m0 3v1m0 2v1m0 1v1m0 9v2m0 3v1m0 1v1m0 21v1m0 3v1m0 2v1m0 7v1m0 2v1m0 2v1"/>
<path stroke="#481a6c" d="M0.5 3v1m0 18v1m0 7v1m0 3v3m0 4v1m0 1v1m0 47v1m0 1v1m0 3v1m0 6v2m0 6v1m0 1v1m0 2v1m0 13v1m0 28v1m0 1v1m0 1v1m0 3v1m0 4v1m0 38v1m0 9v4m0 2v1m0 6v1m0 4v1m0 1v1m0 2v1m0 3v1m0 2v1m0 3v1m0 5v1m0 8v1m0 1v2m0 5v1m0 2v1m0 16v1m0 8v1m0 6v1m0 1v1m0 10v2m0 1v1m0 18v1m0 1v1m0 2v1m0 5v1m0 2v2m0 8v1m0 3v3m0 2v1m0 3v1m0 8v1M1.5 29v1m0 1v1m0 7v1m0 3v1m0 36v1m0 4v1m0 5v1m0 26v1m0 15v1m0 8v1m0 2v1m0 28v2m0 22v1m0 19v1m0 11v1m0 2v1m0 22v1m0 1v1m0 19v1m0 18v2m0 12v2m0 5v1m0 13v1m0 2v2m0 18v1m0 17v1m0 27v2M2.5 24v1m0 49v1m0 9v1m0 21v1m0 7v1m0 8v1m0 5v2m0 2v1m0 7v1m0 24v1m0 23v1m0 2v2m0 73v1m0 14v1m0 7v1m0 7v1m0 4v1m0 1v1m0 27v1m0 5v1m0 3v1m0 9v2m0 2v2m0 10v1m0 5v1m0 3v2m0 13v1M3.5 18v1m0 3v1m0 4v2m0 21v1m0 9v1m0 18v1m0 32v1m0 3v1m0 25v2m0 3v1m0 55v1m0 1v2m0 2v2m0 5v1m0 7v1m0 20v2m0 17v1m0 3v1m0 1v2m0 6v1m0 9v1m0 37v1m0 3v1m0 8v1m0 11v1m0 1v1m0 12v2m0 2v1m0 29v1M4.5 0v2m0 4v1m0 14v1m0 5v1m0 17v1m0 2v2m0 3v1m0 5v2m0 2v1m0 4v1m0 3v1m0 3v1m0 4v1m0 1v1m0 4v1m0 4v1m0 3v1m0 4v1m0 1v1m0 4v1m0 1v1m0 19v2m0 1v1m0 11v1m0 13v2m0 6v2m0 3v1m0 7v1m0 12v1m0 4v1m0 11v1m0 3v4m0 9v1m0 2v2m0 3v2m0 2v2m0 6v1m0 1v1m0 22v1m0 2v1m0 1v1m0 7v1m0 20v1m0 10v1m0 7v1m0 5v1m0 16v2m0 5v1m0 14v1m0 5v2m0 1v1m0 1v1m0 6v1m0 5v1m0 9v2M5.5 1v1m0 13v1m0 9v1m0 1v2m0 1v2m0 1v1m0 3v1m0 1v2m0 6v1m0 4v2m0 4v1m0 17v2m0 9v1m0 12v1m0 5v1m0 4v1m0 11v1m0 7v1m0 37v1m0 1v1m0 19v1m0 10v1m0 17v3m0 5v1m0 38v1m0 5v1m0 11v1m0 2v1m0 9v2m0 2v1m0 1v2m0 11v1m0 38v1m0 9v2m0 11v1M6.5 0v1m0 2v2m0 25v1m0 1v1m0 1v1m0 5v2m0 10v1m0 5v1m0 5v1m0 18v1m0 1v1m0 15v1m0 12v1m0 7v1m0 10v1m0 1v2m0 14v1m0 4v1m0 4v1m0 2v1m0 18v1m0 2v1m0 5v1m0 6v1m0 2v3m0 2v1m0 2v1m0 2v2m0 7v2m0 3v1m0 9v1m0 6v1m0 13v1m0 14v1m0 1v2m0 6v1m0 2v1m0 1v1m0 16v2m0 2v1m0 8v1m0 3v1m0 2v1m0 14v1m0 3v1m0 15v1m0 1v3m0 5v1m0 9v1m0 8v1m0 3v1m0 2v1m0 4v1m0 1v1M7.5 1v2m0 2v1m0 19v1m0 5v2m0 4v1m0 8v1m0 3v2m0 8v1m0 5v1m0 5v1m0 1v1m0 2v1m0 2v1m0 2v2m0 2v2m0 4v1m0 2v1m0 3v1m0 2v1m0 11v1m0 2v1m0 1v2m0 7v1m0 3v1m0 14v1m0 3v2m0 8v1m0 25v1m0 3v1m0 4v2m0 1v1m0 21v2m0 8v1m0 4v1m0 7v1m0 19v2m0 11v1m0 1v1m0 4v1m0 3v1m0 11v1m0 5v1m0 1v1m0 1v1m0 5v1m0 3v1m0 4v1m0 15v1m0 1v2m0 4v2m0 8v1m0 4v1m0 4v1m0 6v1m0 14v2m0 11v2M8.5 24v2m0 2v1m0 2v1m0 21v1m0 3v1m0 2v1m0 14v2m0 5v2m0 11v1m0 11v1m0 2v1m0 12v1m0 3v1m0 1v1m0 5v1m0 11v1m0 5v3m0 15v1m0 3v1m0 21v2m0 3v1m0 2v1m0 13v1m0 2v2m0 1v1m0 1v1m0 5v1m0 2v2m0 1v1m0 2v1m0 7v3m0 8v1m0 3v1m0 1v1m0 4v1m0 8v1m0 6v1m0 14v2m0 7v1m0 4v1m0 1v1m0 4v2m0 5v1m0 23v2m0 15v1m0 1v1m0 3v1m0 3v1m0 16v1M9.5 24v2m0 16v1m0 3v1m0 2v1m0 1v1m0 8v1m0 4v1m0 1v1m0 2v1m0 5v1m0 7v2m0 8v1m0 4v1m0 5v1m0 1v2m0 48v1m0 28v1m0 17v2m0 7v1m0 7v1m0 2v1m0 9v2m0 2v1m0 13v1m0 6v1m0 13v1m0 18v1m0 10v1m0 2v1m0 3v1m0 36v2m0 14v2m0 1v2m0 1v1m0 9v1M10.5 3v1m0 19v1m0 9v1m0 5v1m0 2v1m0 2v2m0 4v1m0 12v1m0 1v1m0 8v4m0 9v1m0 2v1m0 6v1m0 3v1m0 30v1m0 1v1m0 2v1m0 7v1m0 11v1m0 1v1m0 15v1m0 2v1m0 19v1m0 3v1m0 9v2m0 1v1m0 1v1m0 16v1m0 5v1m0 4v2m0 4v2m0 10v1m0 10v1m0 2v1m0 4v1m0 5v1m0 3v1m0 22v1m0 5v1m0 12v1m0 2v1m0 11v2m0 1v1m0 14v2m0 16v1m0 7v1m0 8v1M11.5 0v1m0 26v1m0 10v1m0 9v1m0 19v1m0 17v1m0 3v2m0 5v3m0 1v1m0 6v1m0 32v1m0 3v1m0 2v1m0 2v1m0 1v1m0 4v2m0 4v1m0 5v2m0 6v1m0 20v1m0 17v1m0 15v1m0 4v1m0 8v1m0 8v1m0 5v1m0 8v1m0 7v1m0 14v1m0 13v1m0 13v2m0 4v1m0 3v1m0 10v1m0 11v1m0 3v1m0 3v2m0 33v1M12.5 35v1m0 30v1m0 12v1m0 17v1m0 38v1m0 2v1m0 1v2m0 7v1m0 12v1m0 2v1m0 8v1m0 2v2m0 3v2m0 22v1m0 6v1m0 10v1m0 7v1m0 48v1m0 7v2m0 6v1m0 2v1m0 1v1m0 4v1m0 5v1m0 1v1m0 8v1m0 44v1m0 6v1m0 7v3m0 11v1m0 4v1M13.5 21v1m0 10v1m0 7v1m0 4v1m0 8v1m0 14v1m0 30v1m0 1v1m0 6v1m0 3v1m0 12v2m0 6v1m0 13v1m0 9v2m0 30v1m0 2v3m0 9v1m0 3v1m0 5v1m0 3v1m0 1v1m0 6v1m0 7v1m0 17v1m0 9v1m0 3v1m0 4v1m0 6v1m0 43v1m0 2v1m0 1v1m0 38v1m0 6v3m0 5v1m0 3v1m0 2v1m0 6v1m0 3v3M14.5 18v1m0 7v1m0 21v1m0 2v1m0 5v1m0 9v1m0 7v1m0 2v1m0 5v1m0 18v1m0 9v1m0 3v1m0 8v2m0 6v1m0 19v1m0 1v1m0 46v2m0 26v1m0 5v1m0 8v1m0 3v1m0 2v2m0 1v1m0 36v1m0 8v1m0 4v1m0 5v1m0 1v1m0 15v1m0 1v2m0 11v1m0 8v1m0 1v1m0 2v1m0 7v2m0 10v1m0 8v1m0 7v1m0 6v1M15.5 3v1m0 13v1m0 3v1m0 6v1m0 3v1m0 4v1m0 14v2m0 5v1m0 17v3m0 10v1m0 10v1m0 1v3m0 1v1m0 6v1m0 2v2m0 4v1m0 4v2m0 4v1m0 1v2m0 9v1m0 9v1m0 3v3m0 6v1m0 5v1m0 1v1m0 1v1m0 5v1m0 1v1m0 1v1m0 1v1m0 17v1m0 7v1m0 2v1m0 6v2m0 1v1m0 10v1m0 6v2m0 1v1m0 4v2m0 1v1m0 1v1m0 2v1m0 2v1m0 1v1m0 3v1m0 9v2m0 1v1m0 2v1m0 3v2m0 14v2m0 11v3m0 2v1m0 6v2m0 1v1m0 1v1m0 3v1m0 6v2m0 19v1m0 2v2m0 5v3m0 5v1m0 1v2m0 3v2m0 1v2m0 1v1M16.5 3v1m0 42v1m0 5v1m0 11v1m0 57v2m0 16v1m0 2v1m0 31v1m0 57v1m0 11v1m0 12v1m0 17v1m0 106v1m0 9v1m0 7v1M17.5 80v1m0 76v1m0 92v1m0 65v1m0 17v1m0 42v1m0 2v1M18.5 25v1m0 1v1m0 21v1m0 2v1m0 10v1m0 20v2m0 56v1m0 79v1m0 5v1m0 1v1m0 16v1m0 40v1m0 29v1m0 6v1m0 48v1m0 16v2M19.5 1v1m0 16v1m0 3v1m0 13v1m0 8v1m0 2v1m0 8v1m0 13v1m0 21v2m0 17v1m0 8v1m0 6v1m0 7v1m0 3v1m0 3v1m0 5v1m0 6v2m0 10v3m0 5v1m0 5v1m0 7v2m0 2v2m0 2v2m0 13v1m0 14v2m0 8v2m0 6v1m0 4v1m0 14v2m0 2v2m0 2v1m0 31v1m0 14v1m0 1v1m0 5v1m0 3v1m0 5v1m0 30v2m0 4v1m0 2v1m0 4v1m0 2v1m0 4v2m0 2v1m0 1v1M20.5 21v2m0 1v1m0 9v1m0 1v1m0 3v1m0 12v2m0 3v2m0 2v2m0 10v1m0 2v1m0 4v2m0 14v2m0 5v1m0 1v1m0 2v1m0 9v1m0 3v1m0 3v1m0 4v3m0 5v2m0 7v1m0 4v1m0 8v1m0 5v1m0 9v2m0 2v1m0 13v1m0 3v1m0 13v1m0 4v1m0 2v1m0 6v1m0 3v1m0 7v1m0 2v1m0 3v1m0 12v1m0 17v1m0 18v1m0 7v1m0 2v1m0 1v1m0 3v1m0 5v3m0 4v1m0 7v2m0 1v1m0 1v1m0 2v1m0 5v1m0 16v1m0 1v1m0 6v1m0 2v1m0 7v1m0 8v1m0 1v1m0 1v1m0 1v1M21.5 1v1m0 25v1m0 3v1m0 12v1m0 1v2m0 2v1m0 24v1m0 5v1m0 3v1m0 5v1m0 3v1m0 5v1m0 16v1m0 10v1m0 10v1m0 1v1m0 5v1m0 3v1m0 19v1m0 11v2m0 2v1m0 20v1m0 5v1m0 1v1m0 20v1m0 5v1m0 28v1m0 6v1m0 9v1m0 3v2m0 9v1m0 5v1m0 13v1m0 7v2m0 7v1m0 11v1m0 11v1m0 14v1m0 5v1M22.5 21v1m0 2v1m0 2v1m0 2v1m0 5v1m0 10v1m0 62v1m0 6v1m0 2v1m0 4v1m0 26v1m0 7v1m0 9v1m0 3v2m0 2v1m0 8v1m0 16v1m0 19v1m0 10v1m0 6v1m0 1v1m0 1v2m0 2v1m0 1v1m0 5v2m0 2v2m0 1v2m0 2v2m0 10v1m0 15v1m0 3v1m0 7v1m0 5v1m0 4v1m0 1v1m0 7v1m0 21v1m0 16v1m0 3v1m0 11v3m0 5v1m0 1v3m0 3v1m0 4v1M23.5 34v1m0 11v1m0 10v1m0 23v3m0 6v3m0 15v1m0 5v1m0 9v1m0 15v1m0 4v1m0 3v1m0 1v2m0 4v1m0 3v1m0 2v1m0 8v1m0 5v1m0 22v1m0 4v2m0 12v1m0 31v1m0 2v1m0 14v1m0 3v2m0 1v1m0 1v1m0 6v1m0 10v1m0 3v1m0 5v1m0 2v2m0 10v3m0 1v2m0 2v1m0 1v1m0 8v1m0 5v1m0 5v1m0 5v1m0 1v1m0 5v1m0 16v1m0 10v1m0 5v1M24.5 18v1m0 4v1m0 2v1m0 2v1m0 3v3m0 4v2m0 22v1m0 10v2m0 8v2m0 19v1m0 4v1m0 5v1m0 15v1m0 13v2m0 22v2m0 23v1m0 20v1m0 1v1m0 16v2m0 6v1m0 5v1m0 1v1m0 6v1m0 2v1m0 3v2m0 9v1m0 4v1m0 5v1m0 3v1m0 11v1m0 24v2m0 8v2m0 4v1m0 1v1m0 3v1m0 13v1m0 2v1m0 6v1m0 5v1m0 13v1m0 6v2M25.5 18v1m0 5v1m0 8v1m0 41v2m0 8v1m0 1v2m0 21v1m0 25v1m0 30v1m0 4v1m0 5v1m0 9v1m0 4v1m0 7v1m0 5v2m0 3v1m0 13v1m0 11v1m0 38v1m0 13v1m0 7v2m0 1v1m0 11v2m0 14v1m0 5v1m0 8v1m0 2v1m0 5v1m0 2v1m0 3v1m0 12v1m0 7v1m0 17v1M26.5 5v1m0 13v1m0 28v1m0 9v1m0 8v1m0 18v1m0 4v1m0 8v1m0 8v1m0 2v1m0 6v1m0 9v1m0 2v2m0 3v2m0 7v3m0 2v1m0 25v2m0 9v1m0 1v1m0 1v1m0 12v1m0 45v1m0 3v1m0 21v1m0 2v1m0 11v1m0 9v2m0 4v1m0 22v1m0 60v1m0 8v1M27.5 19v2m0 6v1m0 1v1m0 49v1m0 29v1m0 16v1m0 19v1m0 7v1m0 33v1m0 15v1m0 27v1m0 4v1m0 11v2m0 5v1m0 7v1m0 3v1m0 4v1m0 1v1m0 10v1m0 3v1m0 7v2m0 25v1m0 26v1m0 24v1m0 4v1m0 11v2M28.5 2v1m0 28v1m0 11v1m0 69v1m0 25v1m0 5v1m0 1v1m0 3v2m0 13v1m0 4v1m0 8v2m0 1v1m0 10v2m0 9v1m0 14v1m0 13v1m0 34v1m0 12v2m0 4v1m0 1v1m0 2v2m0 24v2m0 52v1m0 14v2m0 8v1M29.5 35v1m0 17v1m0 7v1m0 3v1m0 7v1m0 11v1m0 16v2m0 14v2m0 12v1m0 9v1m0 46v1m0 1v1m0 34v1m0 7v1m0 3v1m0 26v1m0 1v1m0 11v1m0 15v1m0 1v1m0 7v1m0 9v1m0 1v1m0 3v2m0 13v1m0 1v1m0 10v1m0 1v1m0 5v1m0 39v1M30.5 2v1m0 20v1m0 9v1m0 9v1m0 1v1m0 12v3m0 5v3m0 8v2m0 7v1m0 4v1m0 36v2m0 1v1m0 19v1m0 10v1m0 3v1m0 1v1m0 1v1m0 15v1m0 2v1m0 4v1m0 6v1m0 12v1m0 2v1m0 4v1m0 17v1m0 7v2m0 3v1m0 4v1m0 2v1m0 4v3m0 3v2m0 7v1m0 8v1m0 1v1m0 2v1m0 1v1m0 2v1m0 12v1m0 1v1m0 4v1m0 21v1m0 9v1m0 2v1m0 1v1m0 7v1m0 1v1m0 6v1m0 12v1m0 1v2m0 6v1m0 7v1M31.5 22v1m0 3v1m0 4v3m0 10v1m0 18v1m0 1v1m0 30v2m0 4v1m0 10v1m0 9v1m0 23v1m0 3v1m0 13v1m0 3v1m0 4v1m0 1v1m0 12v1m0 8v1m0 1v3m0 3v1m0 1v1m0 5v1m0 11v1m0 5v1m0 1v1m0 4v2m0 12v1m0 3v2m0 1v1m0 2v1m0 9v1m0 5v1m0 3v1m0 11v1m0 5v1m0 10v2m0 22v1m0 6v1m0 15v1m0 10v1m0 17v1M32.5 36v1m0 2v1m0 3v2m0 12v1m0 1v1m0 1v1m0 1v1m0 7v1m0 9v1m0 12v1m0 10v1m0 2v1m0 11v2m0 2v1m0 5v1m0 3v1m0 5v1m0 9v1m0 18v1m0 7v1m0 9v1m0 5v1m0 22v1m0 14v1m0 1v1m0 3v1m0 34v1m0 10v1m0 3v1m0 6v1m0 1v2m0 5v1m0 2v1m0 2v1m0 11v1m0 8v1m0 1v1m0 2v2m0 6v1m0 7v1m0 2v1m0 1v1m0 7v1m0 6v1m0 6v1m0 1v1m0 16v1m0 6v1M33.5 2v1m0 21v1m0 15v1m0 3v1m0 5v1m0 6v1m0 8v1m0 1v1m0 16v1m0 6v1m0 3v1m0 6v1m0 9v1m0 2v1m0 3v1m0 10v1m0 5v1m0 1v1m0 1v1m0 12v1m0 4v1m0 13v2m0 2v1m0 2v1m0 5v1m0 11v3m0 8v1m0 2v2m0 1v1m0 3v1m0 1v1m0 12v1m0 2v2m0 1v1m0 5v1m0 1v2m0 8v1m0 4v1m0 3v1m0 7v1m0 5v1m0 2v2m0 4v1m0 2v1m0 11v1m0 18v1m0 17v1m0 4v1m0 15v2m0 5v1m0 2v1m0 2v1m0 3v1m0 1v1m0 5v1m0 6v1m0 7v1m0 1v1M34.5 23v1m0 1v1m0 5v1m0 19v1m0 28v1m0 119v1m0 53v1m0 13v1m0 13v1m0 2v1m0 14v1m0 12v1m0 5v1m0 1v1m0 2v2m0 7v1m0 8v1m0 2v1m0 4v1M35.5 1v1m0 20v1m0 1v1m0 1v1m0 1v1m0 1v1m0 8v1m0 3v2m0 4v1m0 5v2m0 9v1m0 4v1m0 6v2m0 2v1m0 15v1m0 4v1m0 3v1m0 3v1m0 7v1m0 1v1m0 10v3m0 2v1m0 1v1m0 5v1m0 7v1m0 10v1m0 1v1m0 5v1m0 2v2m0 3v1m0 3v2m0 15v1m0 13v1m0 7v1m0 1v1m0 8v1m0 13v3m0 10v1m0 7v1m0 2v1m0 7v1m0 7v1m0 2v1m0 3v3m0 6v1m0 5v1m0 13v1m0 1v2m0 2v1m0 4v1m0 4v2m0 1v1m0 15v1m0 6v1m0 8v2m0 2v1m0 4v2m0 4v1m0 3v1m0 8v1M36.5 3v1m0 26v2m0 10v1m0 7v1m0 20v1m0 3v1m0 13v1m0 4v1m0 20v1m0 4v1m0 8v1m0 26v1m0 26v1m0 1v1m0 10v1m0 41v1m0 1v1m0 3v1m0 31v1m0 10v1m0 15v1m0 40v1m0 14v2m0 10v1m0 1v1M37.5 58v1m0 17v1m0 28v1m0 5v1m0 3v1m0 13v1m0 8v1m0 13v1m0 15v1m0 57v1m0 2v1m0 12v1m0 7v1m0 3v1m0 74v1m0 9v1m0 6v2m0 7v1m0 11v1m0 25v1M38.5 2v1m0 18v1m0 3v1m0 6v1m0 3v1m0 7v1m0 3v1m0 6v1m0 7v1m0 2v1m0 1v2m0 2v1m0 12v1m0 13v1m0 6v1m0 2v1m0 1v1m0 8v2m0 1v1m0 1v1m0 5v1m0 9v1m0 1v1m0 10v1m0 3v2m0 3v1m0 2v1m0 1v1m0 4v1m0 2v1m0 1v1m0 2v1m0 2v1m0 2v1m0 5v1m0 14v1m0 12v1m0 7v1m0 17v1m0 3v1m0 8v2m0 2v1m0 6v2m0 8v1m0 7v1m0 1v1m0 17v1m0 1v1m0 3v1m0 3v1m0 3v1m0 4v1m0 1v1m0 6v1m0 11v1m0 2v2m0 3v1m0 5v1m0 6v1m0 10v1m0 3v1M39.5 42v1m0 21v2m0 69v1m0 10v1m0 3v1m0 20v2m0 20v1m0 20v1m0 8v1m0 7v1m0 76v1m0 15v1m0 5v1m0 1v1m0 15v1m0 12v2m0 28v1m0 9v1M40.5 26v1m0 1v1m0 3v1m0 16v1m0 12v1m0 3v1m0 13v1m0 18v2m0 38v1m0 1v1m0 4v1m0 5v1m0 5v1m0 22v1m0 13v1m0 3v1m0 12v1m0 3v1m0 2v1m0 7v1m0 8v1m0 2v2m0 16v1m0 6v1m0 2v1m0 11v2m0 26v2m0 4v1m0 12v1m0 6v1m0 12v1m0 22v1m0 5v1m0 1v1m0 11v1m0 9v1M41.5 36v1m0 10v1m0 15v1m0 9v1m0 1v1m0 9v2m0 16v1m0 2v1m0 17v2m0 9v2m0 9v2m0 4v1m0 1v1m0 12v1m0 2v1m0 2v1m0 1v4m0 12v1m0 9v1m0 4v1m0 9v1m0 14v2m0 9v1m0 5v1m0 7v1m0 3v1m0 2v3m0 3v1m0 3v1m0 8v1m0 4v1m0 5v1m0 5v1m0 1v1m0 3v1m0 17v1m0 3v1m0 3v1m0 7v1m0 1v1m0 5v1m0 6v1m0 14v1m0 2v1m0 1v1m0 9v1m0 9v1m0 1v1m0 2v2m0 4v2M42.5 24v1m0 2v1m0 8v1m0 25v1m0 3v1m0 13v1m0 7v1m0 6v1m0 27v1m0 13v1m0 3v1m0 8v3m0 2v1m0 1v1m0 7v2m0 46v1m0 11v1m0 41v1m0 17v1m0 5v1m0 15v1m0 7v1m0 1v2m0 6v1m0 1v3m0 19v1m0 4v1m0 2v1m0 1v2m0 5v1m0 20v1m0 5v1M43.5 3v2m0 16v1m0 10v2m0 4v1m0 1v2m0 1v2m0 1v1m0 19v1m0 2v1m0 1v2m0 1v1m0 9v1m0 3v1m0 3v1m0 3v1m0 1v1m0 9v1m0 3v1m0 10v1m0 4v1m0 1v2m0 5v1m0 7v1m0 5v1m0 10v1m0 7v1m0 9v1m0 9v2m0 6v2m0 9v1m0 3v2m0 2v2m0 3v2m0 3v2m0 10v1m0 25v1m0 6v1m0 1v1m0 2v1m0 8v1m0 2v2m0 12v1m0 2v1m0 6v1m0 19v1m0 2v2m0 1v3m0 2v1m0 2v1m0 8v1m0 4v2m0 1v2m0 2v1m0 3v1m0 5v1m0 1v1m0 3v3m0 16v2M44.5 3v1m0 19v1m0 4v1m0 1v1m0 34v1m0 4v1m0 1v1m0 8v1m0 3v2m0 11v3m0 10v3m0 2v1m0 1v2m0 14v1m0 13v2m0 8v2m0 3v2m0 11v1m0 7v1m0 24v3m0 6v1m0 4v1m0 10v1m0 1v3m0 16v1m0 7v2m0 11v1m0 20v1m0 20v1m0 3v1m0 1v1m0 24v1m0 33v1m0 1v1m0 2v1M45.5 20v1m0 2v1m0 17v1m0 1v1m0 1v1m0 3v1m0 6v1m0 11v1m0 3v1m0 9v1m0 4v1m0 8v1m0 8v3m0 46v1m0 3v2m0 11v1m0 4v1m0 3v2m0 4v2m0 9v2m0 7v2m0 1v1m0 6v1m0 19v1m0 9v3m0 1v1m0 12v1m0 3v1m0 5v1m0 1v1m0 32v1m0 9v1m0 6v1m0 26v1m0 9v1m0 5v2m0 14v2m0 3v1m0 4v2m0 3v1M46.5 21v2m0 6v1m0 3v1m0 5v1m0 15v2m0 31v1m0 16v1m0 9v1m0 1v1m0 8v1m0 6v1m0 3v1m0 10v1m0 22v2m0 43v1m0 1v3m0 7v1m0 33v1m0 8v2m0 6v1m0 3v2m0 56v1m0 2v1m0 24v1m0 11v1m0 7v2m0 9v1M47.5 0v1m0 19v1m0 2v1m0 1v1m0 1v1m0 6v1m0 5v2m0 5v1m0 8v1m0 6v1m0 2v1m0 4v1m0 11v1m0 4v1m0 4v1m0 1v1m0 2v1m0 14v1m0 6v1m0 4v1m0 1v2m0 2v2m0 28v1m0 10v1m0 4v1m0 17v1m0 5v2m0 3v1m0 1v1m0 3v1m0 7v1m0 10v1m0 1v1m0 9v2m0 1v1m0 10v1m0 4v2m0 10v1m0 1v1m0 1v1m0 6v1m0 22v1m0 22v1m0 2v2m0 16v1m0 5v1m0 15v2m0 13v1m0 2v2m0 5v1m0 5v1M48.5 20v1m0 1v1m0 20v1m0 7v1m0 21v2m0 14v2m0 3v1m0 4v1m0 8v1m0 17v1m0 13v1m0 8v1m0 20v1m0 1v1m0 1v2m0 4v1m0 9v1m0 14v1m0 11v1m0 9v1m0 2v2m0 7v1m0 1v1m0 8v1m0 7v1m0 2v2m0 1v2m0 11v1m0 32v1m0 5v3m0 3v1m0 8v1m0 3v1m0 2v1m0 7v1m0 6v1m0 3v1m0 33v2m0 11v1M49.5 62v1m0 18v1m0 3v1m0 2v2m0 11v1m0 3v1m0 28v1m0 7v1m0 46v2m0 5v1m0 32v1m0 2v1m0 18v1m0 9v1m0 8v1m0 10v1m0 34v1m0 9v1m0 9v2m0 3v1m0 1v1m0 6v1m0 12v3m0 18v1m0 6v1m0 6v1M50.5 2v2m0 26v3m0 2v1m0 6v1m0 3v1m0 28v1m0 5v1m0 2v1m0 5v2m0 1v1m0 13v1m0 2v1m0 1v1m0 34v1m0 11v4m0 5v1m0 1v3m0 3v2m0 2v1m0 17v3m0 7v1m0 3v1m0 15v1m0 9v1m0 3v1m0 6v1m0 6v1m0 11v1m0 1v1m0 3v1m0 8v1m0 12v1m0 10v2m0 7v1m0 1v2m0 10v2m0 2v1m0 4v2m0 5v1m0 17v1m0 15v1m0 1v2m0 3v1m0 6v1m0 2v2m0 1v1m0 4v1M51.5 21v1m0 15v1m0 2v3m0 2v1m0 1v1m0 1v1m0 6v1m0 3v1m0 1v1m0 7v3m0 1v1m0 3v1m0 24v1m0 14v1m0 1v1m0 1v1m0 3v1m0 14v1m0 6v1m0 2v1m0 2v1m0 7v2m0 1v1m0 1v2m0 2v1m0 3v1m0 1v2m0 5v1m0 1v2m0 11v1m0 1v2m0 4v3m0 2v1m0 2v1m0 1v1m0 3v1m0 16v1m0 10v2m0 5v2m0 6v1m0 8v1m0 7v1m0 4v1m0 2v1m0 12v1m0 6v1m0 8v2m0 2v1m0 10v1m0 1v1m0 11v1m0 2v3m0 6v1m0 10v1m0 1v1m0 1v2m0 1v1m0 3v1m0 7v1m0 4v1m0 6v2M52.5 6v1m0 12v2m0 1v1m0 2v1m0 1v2m0 3v1m0 3v1m0 4v1m0 2v1m0 6v1m0 16v1m0 2v1m0 9v1m0 1v1m0 8v1m0 4v1m0 14v1m0 21v1m0 6v1m0 4v1m0 25v1m0 3v1m0 2v1m0 7v1m0 25v1m0 5v1m0 24v1m0 4v1m0 4v1m0 1v1m0 3v2m0 3v2m0 2v1m0 3v1m0 14v3m0 34v1m0 7v1m0 12v1m0 3v2m0 9v1m0 4v2m0 4v1m0 3v1m0 8v1M53.5 19v1m0 38v1m0 30v1m0 6v1m0 2v1m0 3v1m0 3v2m0 4v1m0 7v1m0 13v1m0 1v2m0 1v1m0 7v3m0 27v1m0 29v1m0 21v1m0 19v1m0 13v1m0 13v1m0 9v1m0 13v1m0 3v1m0 4v1m0 8v1m0 5v1m0 2v1m0 7v1m0 28v1m0 15v2M54.5 29v1m0 8v1m0 10v1m0 3v2m0 2v2m0 5v1m0 3v1m0 15v1m0 3v3m0 6v1m0 11v1m0 8v1m0 17v1m0 1v2m0 3v1m0 1v1m0 14v1m0 6v1m0 12v2m0 2v1m0 5v1m0 9v2m0 12v1m0 6v1m0 6v1m0 1v1m0 1v1m0 3v1m0 2v1m0 3v1m0 9v2m0 2v1m0 6v1m0 6v1m0 6v2m0 3v1m0 7v1m0 32v2m0 7v2m0 6v1m0 3v1m0 1v1m0 1v1m0 12v2m0 4v1m0 4v1m0 5v2m0 6v1m0 4v1M55.5 21v1m0 46v1m0 24v2m0 8v1m0 27v1m0 1v1m0 23v1m0 10v1m0 3v1m0 20v1m0 28v1m0 15v1m0 17v1m0 4v1m0 20v2m0 8v2m0 4v1m0 27v1m0 6v1m0 11v2m0 6v1m0 13v1m0 3v1m0 14v1m0 10v2m0 6v1M56.5 2v1m0 18v1m0 2v1m0 5v1m0 7v1m0 22v1m0 8v1m0 7v1m0 24v1m0 12v1m0 18v2m0 1v1m0 16v1m0 13v4m0 2v1m0 3v1m0 10v1m0 5v3m0 1v1m0 2v2m0 6v3m0 5v2m0 6v1m0 2v1m0 7v1m0 10v1m0 2v2m0 1v1m0 1v5m0 14v2m0 4v1m0 2v1m0 25v1m0 19v1m0 2v1m0 7v3m0 7v1m0 7v2m0 6v1m0 3v1m0 1v2m0 15v1m0 2v2m0 3v2m0 2v1M57.5 24v1m0 2v1m0 4v1m0 3v2m0 34v1m0 5v1m0 6v1m0 2v1m0 3v1m0 2v1m0 4v1m0 2v3m0 5v2m0 8v1m0 5v1m0 11v1m0 1v1m0 10v1m0 12v2m0 10v2m0 9v1m0 4v1m0 11v1m0 7v1m0 3v1m0 19v2m0 1v1m0 3v1m0 4v1m0 26v1m0 1v2m0 15v1m0 14v1m0 1v3m0 2v1m0 16v1m0 4v1m0 11v1m0 5v2m0 1v1m0 7v1m0 2v1m0 4v1m0 8v1m0 6v2m0 2v1m0 3v1M58.5 27v1m0 6v1m0 7v2m0 4v1m0 13v1m0 3v1m0 8v1m0 6v1m0 18v1m0 17v1m0 5v1m0 3v1m0 4v1m0 3v3m0 4v1m0 1v1m0 2v1m0 12v1m0 10v1m0 11v1m0 1v2m0 46v1m0 1v1m0 7v1m0 10v1m0 11v1m0 2v1m0 2v1m0 4v1m0 9v1m0 5v1m0 8v1m0 3v2m0 16v1m0 4v1m0 2v1m0 1v1m0 6v1m0 1v1m0 6v1m0 1v2m0 1v1m0 2v1m0 4v3m0 3v2m0 4v2m0 3v1M59.5 35v1m0 3v1m0 4v2m0 1v1m0 4v1m0 1v1m0 2v1m0 16v1m0 4v1m0 28v2m0 13v1m0 3v1m0 13v1m0 23v1m0 13v1m0 9v1m0 22v1m0 15v1m0 5v1m0 9v1m0 14v1m0 10v1m0 1v1m0 24v1m0 2v1m0 1v1m0 19v1m0 4v1m0 23v1m0 28v1m0 4v1m0 13v1M60.5 1v1m0 25v1m0 4v1m0 10v2m0 4v1m0 1v1m0 20v1m0 4v2m0 6v1m0 7v1m0 6v2m0 3v1m0 17v1m0 4v1m0 7v1m0 6v1m0 20v1m0 5v1m0 8v1m0 4v1m0 5v1m0 1v1m0 4v1m0 21v1m0 5v1m0 2v1m0 9v2m0 29v1m0 14v1m0 8v1m0 16v1m0 16v1m0 13v1m0 8v1m0 1v2m0 2v1m0 1v1m0 1v2m0 4v1m0 9v1m0 7v1m0 10v1M61.5 44v1m0 5v1m0 8v1m0 1v1m0 2v1m0 5v1m0 1v1m0 4v1m0 1v2m0 13v1m0 34v1m0 8v1m0 17v1m0 8v1m0 5v1m0 10v2m0 4v2m0 43v2m0 18v1m0 5v1m0 5v1m0 6v1m0 23v1m0 3v1m0 3v1m0 10v1m0 6v1m0 2v1m0 24v1m0 15v1m0 6v1m0 10v1m0 2v1m0 6v1M62.5 4v1m0 14v1m0 5v2m0 4v1m0 13v1m0 4v1m0 1v1m0 3v1m0 1v1m0 1v1m0 2v2m0 7v2m0 3v1m0 4v1m0 11v1m0 18v2m0 14v1m0 11v1m0 8v2m0 6v2m0 1v1m0 3v2m0 2v1m0 2v1m0 1v1m0 1v2m0 2v4m0 7v1m0 6v1m0 5v1m0 2v1m0 3v2m0 2v1m0 11v1m0 2v2m0 9v1m0 1v1m0 7v1m0 4v1m0 13v2m0 4v1m0 3v1m0 3v2m0 5v1m0 6v1m0 8v1m0 23v1m0 5v1m0 21v1m0 1v1m0 2v1m0 6v1m0 5v1m0 1v1m0 4v1m0 2v2m0 1v1M63.5 23v1m0 16v2m0 25v1m0 17v1m0 6v1m0 10v1m0 45v1m0 2v1m0 7v2m0 8v1m0 68v1m0 16v1m0 19v1m0 16v1m0 16v1m0 3v1m0 9v1m0 10v2m0 12v1m0 13v1m0 3v1m0 2v1m0 10v2m0 18v1M64.5 2v1m0 22v1m0 4v1m0 2v3m0 1v1m0 4v3m0 1v1m0 13v1m0 2v1m0 4v1m0 1v1m0 3v1m0 2v1m0 29v1m0 6v1m0 5v1m0 11v1m0 12v1m0 4v1m0 1v3m0 3v1m0 1v2m0 2v1m0 3v1m0 4v1m0 3v1m0 2v2m0 4v1m0 2v2m0 9v1m0 10v1m0 1v1m0 1v1m0 12v1m0 2v1m0 1v3m0 35v1m0 19v1m0 1v1m0 4v2m0 6v1m0 14v1m0 5v1m0 1v1m0 1v1m0 4v4m0 18v1m0 11v2m0 2v1m0 2v2m0 7v1m0 6v1m0 12v1M65.5 18v1m0 11v1m0 9v1m0 3v1m0 2v1m0 8v1m0 7v2m0 4v1m0 4v1m0 3v1m0 7v2m0 1v1m0 2v2m0 2v1m0 2v1m0 2v1m0 5v1m0 8v1m0 7v2m0 15v1m0 19v1m0 9v1m0 5v3m0 3v1m0 4v1m0 1v1m0 3v1m0 14v1m0 21v2m0 5v1m0 2v1m0 9v1m0 5v1m0 11v1m0 3v1m0 1v1m0 8v1m0 4v1m0 3v2m0 13v1m0 1v1m0 1v1m0 8v1m0 2v2m0 4v1m0 16v1m0 42v1m0 1v1m0 10v2M66.5 28v1m0 10v2m0 2v1m0 4v1m0 2v1m0 2v1m0 2v1m0 7v1m0 2v1m0 2v2m0 2v1m0 6v1m0 6v1m0 5v2m0 1v1m0 8v2m0 21v1m0 29v1m0 14v1m0 18v1m0 65v2m0 5v1m0 7v1m0 24v1m0 6v1m0 7v1m0 5v1m0 1v1m0 16v1m0 5v1m0 14v1m0 3v1m0 5v1m0 2v1m0 3v1m0 3v2m0 10v1M67.5 30v1m0 3v2m0 2v1m0 3v1m0 3v2m0 6v1m0 14v1m0 3v1m0 2v1m0 3v1m0 13v1m0 1v1m0 2v1m0 2v1m0 10v1m0 67v1m0 1v1m0 9v1m0 5v1m0 18v1m0 13v1m0 3v1m0 9v1m0 4v1m0 1v3m0 6v1m0 9v2m0 6v1m0 2v2m0 2v2m0 3v3m0 10v1m0 6v3m0 2v2m0 1v2m0 5v1m0 2v1m0 5v1m0 3v2m0 3v1m0 6v1m0 4v2m0 5v1m0 9v1m0 1v1m0 6v3m0 4v1m0 4v2M68.5 2v1m0 33v2m0 7v1m0 14v1m0 5v1m0 7v2m0 3v1m0 6v1m0 1v1m0 21v1m0 3v1m0 7v1m0 16v1m0 1v1m0 15v1m0 24v1m0 11v1m0 15v2m0 4v1m0 8v1m0 3v1m0 4v1m0 6v2m0 1v1m0 22v1m0 15v3m0 3v1m0 1v2m0 1v1m0 1v1m0 1v1m0 2v1m0 1v3m0 9v1m0 1v1m0 4v1m0 13v1m0 7v1m0 9v1m0 10v1m0 3v1m0 9v1m0 7v1m0 2v1m0 9v1m0 2v1M69.5 2v2m0 36v1m0 4v2m0 10v1m0 2v1m0 18v1m0 17v1m0 1v1m0 7v1m0 6v1m0 3v3m0 2v2m0 6v1m0 4v1m0 2v1m0 16v1m0 1v1m0 2v1m0 3v1m0 5v1m0 13v1m0 3v1m0 8v1m0 24v1m0 33v2m0 4v1m0 3v2m0 10v2m0 31v1m0 10v1m0 2v1m0 5v1m0 3v1m0 1v1m0 6v1m0 2v1m0 3v4m0 19v1m0 16v1m0 2v1m0 5v1m0 3v2M70.5 28v1m0 6v1m0 2v2m0 29v1m0 3v2m0 5v2m0 4v1m0 16v1m0 1v1m0 1v3m0 3v1m0 4v2m0 1v1m0 7v1m0 7v1m0 2v2m0 7v1m0 1v1m0 7v2m0 9v1m0 6v1m0 22v2m0 4v1m0 8v1m0 1v1m0 12v1m0 2v1m0 6v1m0 3v1m0 12v1m0 1v1m0 1v1m0 47v1m0 10v2m0 1v1m0 23v1m0 5v1m0 4v2m0 1v1m0 2v1m0 4v1m0 2v1m0 14v1m0 7v1m0 2v3m0 3v1M71.5 23v3m0 17v1m0 43v1m0 69v1m0 23v1m0 11v1m0 10v1m0 3v1m0 1v1m0 4v1m0 1v1m0 3v1m0 2v1m0 7v1m0 14v1m0 6v1m0 8v1m0 2v1m0 7v1m0 18v1m0 18v2m0 1v1m0 2v1m0 18v1m0 3v1m0 2v1m0 3v1m0 13v1m0 9v1m0 7v1m0 12v1m0 6v1m0 1v1m0 1v1M72.5 25v1m0 2v1m0 1v2m0 3v1m0 17v1m0 12v1m0 2v1m0 16v1m0 4v1m0 5v1m0 1v1m0 15v2m0 10v1m0 2v2m0 1v1m0 29v1m0 10v1m0 7v2m0 5v3m0 7v1m0 7v1m0 4v1m0 16v1m0 13v1m0 9v1m0 7v2m0 26v1m0 3v1m0 5v1m0 5v1m0 5v1m0 5v1m0 6v1m0 4v3m0 11v1m0 14v2m0 4v1m0 8v1m0 6v1m0 1v1m0 10v1m0 5v1m0 5v1M73.5 20v1m0 7v1m0 45v1m0 32v1m0 3v1m0 14v1m0 4v1m0 4v1m0 7v1m0 1v1m0 3v1m0 6v1m0 47v1m0 13v1m0 14v2m0 22v1m0 16v2m0 2v1m0 2v1m0 9v1m0 40v1m0 15v2m0 11v1m0 7v1m0 22v1m0 2v1M74.5 22v1m0 24v1m0 5v1m0 34v1m0 29v2m0 6v2m0 56v2m0 7v1m0 1v2m0 7v1m0 1v1m0 5v1m0 6v1m0 20v1m0 12v1m0 85v1m0 19v1m0 17v1M75.5 2v2m0 19v1m0 17v1m0 6v1m0 3v4m0 6v1m0 8v1m0 17v1m0 2v1m0 2v1m0 1v1m0 2v1m0 2v1m0 5v1m0 4v1m0 10v1m0 4v1m0 1v1m0 12v1m0 4v1m0 1v1m0 9v3m0 9v3m0 5v1m0 1v2m0 1v1m0 1v2m0 1v1m0 1v1m0 3v1m0 6v1m0 2v1m0 3v1m0 11v2m0 5v1m0 3v3m0 1v1m0 2v1m0 3v1m0 5v2m0 1v1m0 1v2m0 10v1m0 2v1m0 1v1m0 7v2m0 8v1m0 5v2m0 1v1m0 4v1m0 10v3m0 8v1m0 2v1m0 3v1m0 4v2m0 4v1m0 2v1m0 5v1m0 5v1m0 11v1M76.5 19v1m0 1v1m0 1v1m0 3v1m0 1v1m0 1v1m0 1v1m0 3v2m0 9v1m0 11v1m0 1v2m0 4v1m0 4v1m0 6v1m0 10v1m0 9v1m0 2v1m0 11v1m0 6v1m0 4v1m0 9v1m0 14v1m0 2v1m0 1v1m0 3v1m0 3v1m0 9v1m0 4v1m0 3v2m0 5v2m0 1v1m0 1v1m0 4v1m0 2v1m0 1v2m0 3v1m0 15v1m0 16v1m0 14v1m0 1v1m0 5v1m0 18v1m0 5v1m0 1v1m0 12v1m0 2v1m0 7v1m0 4v2m0 10v1m0 3v1m0 4v1m0 13v1m0 9v1m0 4v1m0 10v3m0 1v1m0 3v1m0 11v1M77.5 23v1m0 4v2m0 1v1m0 21v1m0 10v2m0 3v1m0 19v1m0 3v1m0 8v1m0 8v1m0 4v1m0 1v1m0 7v1m0 3v1m0 13v1m0 6v1m0 4v2m0 6v1m0 1v1m0 6v1m0 1v1m0 1v2m0 12v1m0 8v1m0 9v1m0 2v1m0 3v1m0 8v2m0 7v2m0 3v1m0 5v1m0 3v1m0 1v1m0 153v1M78.5 0v1m0 2v1m0 19v1m0 24v1m0 3v1m0 9v1m0 12v1m0 8v1m0 14v1m0 1v1m0 1v1m0 8v1m0 6v2m0 2v1m0 16v1m0 1v2m0 3v1m0 3v1m0 2v1m0 47v1m0 10v1m0 19v1m0 14v1m0 4v1m0 3v1m0 7v2m0 12v1m0 7v1m0 2v1m0 46v2m0 4v1m0 9v2m0 2v1m0 3v1m0 6v1m0 13v2m0 3v1m0 4v1m0 10v1M79.5 23v1m0 2v1m0 20v1m0 39v1m0 8v1m0 9v1m0 1v1m0 8v1m0 22v1m0 2v1m0 6v1m0 85v1m0 3v1m0 11v1m0 22v1m0 64v3m0 6v1m0 12v2m0 27v1M80.5 27v1m0 5v3m0 3v2m0 13v3m0 5v2m0 2v1m0 3v1m0 2v1m0 2v2m0 5v1m0 6v2m0 11v2m0 8v2m0 6v2m0 4v1m0 3v3m0 1v2m0 9v1m0 14v1m0 1v1m0 3v1m0 9v1m0 6v1m0 12v1m0 3v1m0 1v1m0 8v2m0 19v1m0 14v2m0 3v1m0 6v1m0 10v1m0 2v1m0 4v1m0 7v1m0 3v1m0 4v1m0 4v1m0 3v1m0 4v1m0 19v2m0 4v3m0 6v1m0 1v3m0 11v2m0 13v2m0 6v1m0 20v1M81.5 21v1m0 11v2m0 15v1m0 10v2m0 7v2m0 3v1m0 22v1m0 17v1m0 30v1m0 6v1m0 5v2m0 5v2m0 7v1m0 2v1m0 5v2m0 30v1m0 3v2m0 22v1m0 11v1m0 5v1m0 5v1m0 10v1m0 6v1m0 8v1m0 11v1m0 2v1m0 18v1m0 15v1m0 2v1m0 5v1m0 5v1m0 5v1m0 5v1m0 3v1m0 4v2m0 8v1m0 9v2M82.5 20v1m0 12v1m0 17v1m0 6v2m0 38v2m0 7v1m0 22v1m0 1v1m0 5v3m0 5v1m0 9v1m0 11v1m0 10v1m0 32v1m0 6v1m0 3v1m0 1v1m0 2v1m0 16v1m0 4v2m0 11v1m0 7v1m0 4v1m0 6v1m0 2v1m0 12v2m0 2v1m0 10v1m0 6v1m0 1v1m0 27v1m0 11v1m0 12v3m0 14v1m0 6v2M83.5 20v1m0 2v1m0 5v1m0 2v1m0 3v1m0 9v1m0 7v1m0 2v1m0 7v1m0 1v2m0 2v1m0 6v1m0 1v1m0 3v2m0 4v1m0 14v2m0 12v1m0 13v1m0 20v1m0 1v2m0 14v1m0 12v1m0 1v1m0 1v1m0 3v1m0 2v1m0 10v1m0 7v1m0 10v3m0 2v1m0 32v1m0 10v1m0 1v2m0 4v2m0 6v1m0 10v1m0 7v1m0 2v1m0 3v1m0 1v1m0 2v1m0 17v1m0 11v1m0 5v1m0 1v2m0 19v2m0 5v1m0 8v1m0 6v1m0 1v1M84.5 41v1m0 33v1m0 9v1m0 23v2m0 5v1m0 31v1m0 6v1m0 16v1m0 17v1m0 58v1m0 25v1m0 50v1m0 11v1m0 3v1m0 36v1M85.5 22v1m0 1v1m0 2v1m0 15v1m0 7v1m0 5v2m0 4v1m0 2v1m0 2v1m0 1v1m0 17v1m0 11v1m0 19v1m0 1v1m0 30v2m0 5v3m0 5v2m0 7v1m0 8v1m0 10v1m0 18v1m0 9v1m0 10v1m0 6v1m0 42v1m0 10v1m0 18v1m0 5v1m0 4v1m0 2v1m0 1v1m0 15v2m0 13v1m0 2v1m0 26v3m0 1v1M86.5 27v1m0 3v1m0 5v1m0 2v1m0 5v1m0 11v1m0 8v2m0 1v1m0 10v1m0 6v2m0 10v2m0 2v1m0 6v2m0 5v1m0 18v1m0 7v1m0 9v1m0 7v1m0 4v1m0 2v1m0 4v1m0 24v1m0 2v1m0 10v1m0 5v2m0 3v2m0 7v1m0 9v1m0 2v1m0 3v1m0 10v1m0 7v1m0 3v2m0 1v1m0 5v1m0 7v1m0 2v2m0 6v1m0 2v1m0 9v1m0 4v1m0 10v1m0 23v3m0 10v1m0 13v2m0 15v2M87.5 20v1m0 14v1m0 4v1m0 2v1m0 10v2m0 32v1m0 17v1m0 14v1m0 2v1m0 1v2m0 2v2m0 2v1m0 1v1m0 1v3m0 1v1m0 1v2m0 3v1m0 2v1m0 2v1m0 12v1m0 13v1m0 3v1m0 4v2m0 7v2m0 10v1m0 3v2m0 7v1m0 5v1m0 5v1m0 13v1m0 1v1m0 4v2m0 1v1m0 5v1m0 2v1m0 22v1m0 2v1m0 6v1m0 16v1m0 1v2m0 2v1m0 3v1m0 1v1m0 1v1m0 12v3m0 15v1m0 8v1m0 14v1m0 7v1M88.5 2v1m0 26v1m0 4v1m0 17v1m0 21v1m0 9v1m0 8v1m0 34v1m0 1v1m0 2v1m0 4v1m0 6v1m0 5v1m0 14v1m0 12v1m0 5v1m0 7v1m0 8v1m0 11v1m0 35v2m0 12v1m0 9v1m0 27v1m0 11v1m0 3v1m0 5v1m0 1v1m0 3v1m0 10v2m0 3v1m0 11v3m0 2v1m0 8v1m0 1v1m0 1v1m0 5v1m0 6v1M89.5 3v1m0 87v2m0 1v1m0 1v1m0 32v1m0 23v1m0 29v1m0 14v1m0 49v1m0 8v1m0 10v1m0 5v2m0 6v1m0 2v1m0 14v1m0 19v1m0 24v1m0 30v1m0 2v1m0 7v1M90.5 1v1m0 22v2m0 11v2m0 12v1m0 4v1m0 2v1m0 8v1m0 5v1m0 7v1m0 3v2m0 11v1m0 1v1m0 5v1m0 5v1m0 3v1m0 2v1m0 10v1m0 6v2m0 1v1m0 1v2m0 3v1m0 7v1m0 28v1m0 1v1m0 6v1m0 5v1m0 18v2m0 1v1m0 10v2m0 12v1m0 1v1m0 3v3m0 9v2m0 13v1m0 1v1m0 6v1m0 2v1m0 8v2m0 1v1m0 1v1m0 5v1m0 2v1m0 5v1m0 4v1m0 7v1m0 1v1m0 6v1m0 20v1m0 3v1m0 3v2m0 7v1m0 14v1m0 6v3M91.5 19v1m0 73v1m0 72v1m0 43v1m0 40v1m0 33v1m0 60v1M92.5 0v1m0 25v2m0 18v1m0 7v2m0 3v1m0 2v1m0 8v2m0 3v4m0 9v1m0 3v1m0 1v1m0 12v1m0 5v2m0 21v1m0 6v1m0 11v1m0 6v1m0 14v1m0 14v1m0 7v1m0 5v3m0 2v1m0 13v1m0 11v1m0 3v1m0 6v1m0 29v1m0 2v1m0 2v1m0 13v1m0 1v1m0 3v1m0 14v1m0 7v1m0 6v1m0 3v1m0 5v1m0 21v1M93.5 32v1m0 2v1m0 1v1m0 3v1m0 5v1m0 6v1m0 3v1m0 9v1m0 2v1m0 14v1m0 2v1m0 7v1m0 15v1m0 2v1m0 20v2m0 24v1m0 5v1m0 4v1m0 1v3m0 5v2m0 5v1m0 3v1m0 9v1m0 6v1m0 9v1m0 8v1m0 10v1m0 5v1m0 18v1m0 4v1m0 1v1m0 1v1m0 10v2m0 16v1m0 13v1m0 5v2m0 1v3m0 4v1m0 6v1m0 9v1m0 6v1m0 6v1m0 1v3m0 7v2m0 3v1m0 7v1m0 8v1m0 2v1M94.5 26v1m0 3v1m0 2v1m0 3v1m0 2v1m0 24v1m0 3v1m0 4v1m0 1v1m0 2v1m0 5v2m0 3v1m0 9v1m0 1v1m0 5v1m0 1v1m0 2v1m0 39v1m0 11v1m0 8v1m0 5v1m0 32v1m0 11v1m0 6v1m0 31v1m0 52v1m0 12v1m0 2v1m0 8v1m0 1v1m0 8v1m0 5v1m0 2v2m0 4v1m0 6v4m0 4v1m0 9v3M95.5 19v1m0 3v1m0 13v1m0 28v1m0 2v1m0 7v1m0 13v1m0 2v1m0 13v1m0 36v1m0 6v1m0 24v1m0 29v1m0 13v1m0 1v2m0 13v2m0 52v1m0 9v1m0 31v1m0 10v1m0 10v1m0 3v1m0 13v1m0 17v1M96.5 4v1m0 1v1m0 13v1m0 1v1m0 12v1m0 10v1m0 4v1m0 62v1m0 2v1m0 8v1m0 56v1m0 35v1m0 49v2m0 4v3m0 3v1m0 32v1m0 9v1m0 1v1m0 50v1m0 7v1m0 2v1M97.5 0v1m0 21v2m0 2v1m0 14v1m0 2v1m0 3v1m0 2v1m0 2v1m0 21v1m0 8v2m0 4v1m0 4v1m0 4v1m0 5v1m0 7v1m0 16v1m0 7v1m0 2v1m0 9v1m0 4v2m0 16v2m0 4v1m0 8v1m0 4v1m0 11v1m0 6v1m0 6v2m0 3v1m0 9v1m0 1v1m0 8v1m0 3v1m0 18v1m0 3v2m0 4v1m0 14v1m0 24v1m0 1v1m0 6v1m0 4v1m0 3v2m0 4v1m0 21v1m0 4v1m0 7v1m0 9v2m0 3v1m0 3v2m0 2v2M98.5 42v1m0 4v1m0 6v1m0 17v1m0 10v1m0 14v1m0 34v2m0 12v1m0 31v1m0 11v1m0 6v1m0 6v2m0 4v3m0 2v2m0 8v1m0 3v1m0 11v1m0 14v1m0 30v1m0 44v2m0 10v1m0 5v1m0 2v1m0 17v1m0 9v3m0 1v1m0 9v1m0 3v2M99.5 31v1m0 3v1m0 2v1m0 5v2m0 1v1m0 5v1m0 2v1m0 1v1m0 1v1m0 1v2m0 10v1m0 16v1m0 7v1m0 2v1m0 1v2m0 7v1m0 2v1m0 9v1m0 11v1m0 8v1m0 3v1m0 5v1m0 10v1m0 1v1m0 8v1m0 12v1m0 4v2m0 1v1m0 2v1m0 20v1m0 3v1m0 11v1m0 16v2m0 4v1m0 11v1m0 4v1m0 2v2m0 10v1m0 18v1m0 3v2m0 8v1m0 8v2m0 10v1m0 5v1m0 13v1m0 8v1m0 3v1m0 4v4m0 2v1m0 8v2M100.5 20v1m0 5v1m0 5v1m0 11v2m0 4v1m0 2v1m0 2v1m0 3v1m0 31v2m0 3v1m0 2v2m0 1v2m0 8v1m0 16v1m0 2v1m0 3v1m0 4v1m0 4v1m0 12v2m0 7v1m0 3v1m0 4v1m0 12v1m0 2v1m0 18v1m0 2v1m0 17v2m0 2v1m0 6v1m0 5v1m0 11v1m0 4v1m0 6v1m0 10v1m0 10v1m0 8v1m0 7v1m0 9v1m0 7v1m0 3v1m0 1v2m0 1v2m0 1v2m0 8v1m0 14v1m0 1v1m0 1v1m0 4v1m0 4v1m0 2v1m0 12v1M101.5 3v1m0 18v1m0 8v1m0 6v1m0 4v1m0 14v1m0 2v1m0 7v1m0 1v1m0 2v1m0 8v1m0 5v1m0 5v2m0 11v1m0 3v1m0 9v1m0 5v1m0 4v1m0 2v1m0 1v2m0 8v1m0 11v1m0 5v1m0 5v1m0 2v1m0 3v2m0 12v1m0 2v1m0 11v1m0 21v1m0 7v1m0 3v1m0 7v1m0 2v1m0 8v1m0 5v1m0 14v1m0 9v1m0 6v1m0 3v2m0 1v1m0 21v1m0 2v1m0 12v1m0 5v1m0 7v2m0 7v1m0 14v1m0 1v1m0 13v1M102.5 21v1m0 8v2m0 21v1m0 16v1m0 1v1m0 1v2m0 7v1m0 4v1m0 6v1m0 44v1m0 3v2m0 11v1m0 5v1m0 4v1m0 4v1m0 1v1m0 14v1m0 2v1m0 3v1m0 6v1m0 1v1m0 10v1m0 1v1m0 13v1m0 4v1m0 6v1m0 5v2m0 3v1m0 1v2m0 5v1m0 1v2m0 13v1m0 12v1m0 18v1m0 5v1m0 2v2m0 25v1m0 4v1m0 8v2m0 15v1m0 7v1M103.5 1v1m0 2v1m0 20v1m0 3v1m0 1v1m0 8v1m0 12v1m0 16v2m0 5v1m0 7v1m0 7v1m0 4v1m0 5v2m0 3v2m0 1v1m0 1v1m0 1v2m0 21v1m0 1v1m0 2v1m0 5v1m0 33v1m0 2v1m0 27v1m0 1v3m0 3v1m0 8v1m0 12v1m0 1v2m0 4v4m0 10v1m0 3v1m0 7v1m0 5v1m0 4v2m0 2v1m0 16v1m0 6v2m0 4v1m0 9v1m0 27v1m0 10v1m0 6v1m0 7v1m0 4v3m0 1v1m0 4v3M104.5 21v1m0 5v1m0 7v1m0 1v1m0 6v1m0 2v1m0 12v1m0 2v1m0 1v1m0 5v1m0 16v1m0 9v2m0 4v1m0 5v2m0 1v1m0 3v1m0 1v1m0 7v1m0 10v1m0 6v1m0 23v1m0 13v3m0 4v1m0 2v1m0 1v1m0 6v2m0 3v1m0 18v1m0 1v1m0 9v1m0 18v1m0 3v1m0 18v1m0 2v1m0 8v2m0 1v1m0 2v2m0 3v1m0 4v1m0 4v1m0 3v1m0 4v1m0 1v1m0 3v1m0 2v1m0 9v1m0 1v1m0 3v2m0 8v1m0 3v1m0 5v1m0 3v1m0 1v2m0 20v1m0 8v1M105.5 1v1m0 1v1m0 21v1m0 9v1m0 17v2m0 6v1m0 12v1m0 1v1m0 4v2m0 12v2m0 2v1m0 6v1m0 1v1m0 2v1m0 3v1m0 2v1m0 3v1m0 1v1m0 3v1m0 1v1m0 1v1m0 3v1m0 12v2m0 2v1m0 8v3m0 1v1m0 18v2m0 1v1m0 8v1m0 11v1m0 22v2m0 26v1m0 13v1m0 9v1m0 14v1m0 21v1m0 19v1m0 21v1m0 16v1m0 3v1m0 3v1m0 15v1M106.5 22v1m0 8v1m0 8v1m0 20v1m0 1v1m0 19v1m0 7v1m0 7v1m0 39v1m0 32v1m0 3v2m0 13v1m0 35v2m0 22v1m0 7v1m0 8v1m0 27v1m0 9v1m0 10v1m0 9v1m0 48v1m0 8v1M108.5 24v2m0 3v1m0 8v1m0 11v2m0 11v1m0 1v1m0 4v1m0 1v1m0 4v1m0 4v1m0 9v1m0 1v1m0 3v1m0 13v1m0 4v1m0 22v1m0 10v1m0 1v1m0 13v1m0 6v1m0 17v1m0 2v1m0 7v1m0 2v2m0 6v1m0 4v1m0 18v1m0 13v1m0 6v1m0 5v2m0 1v1m0 17v1m0 5v1m0 50v1m0 15v1m0 4v1m0 4v1m0 18v1m0 11v3m0 3v1M110.5 1v1m0 42v1m0 17v1m0 1v1m0 2v1m0 5v1m0 13v1m0 2v1m0 4v1m0 14v1m0 8v1m0 6v1m0 21v1m0 8v1m0 1v1m0 8v2m0 6v2m0 21v1m0 1v1m0 3v1m0 7v1m0 5v1m0 6v1m0 3v1m0 2v1m0 2v1m0 7v1m0 24v1m0 2v1m0 2v1m0 6v1m0 3v1m0 3v1m0 3v1m0 8v1m0 1v1m0 12v1m0 1v1m0 1v1m0 15v1m0 10v1m0 11v1m0 8v1m0 2v1m0 26v1M112.5 3v1m0 17v2m0 2v2m0 3v1m0 20v1m0 4v1m0 4v1m0 8v1m0 15v1m0 8v2m0 8v1m0 1v1m0 5v1m0 2v1m0 35v1m0 6v1m0 2v1m0 4v1m0 12v1m0 15v1m0 27v1m0 18v2m0 1v2m0 10v1m0 1v2m0 7v1m0 33v1m0 2v1m0 1v1m0 2v1m0 1v1m0 4v1m0 1v1m0 8v1m0 5v1m0 5v1m0 5v1m0 5v1m0 9v1m0 8v1m0 20v1m0 7v1m0 3v1M114.5 23v1m0 4v1m0 12v1m0 15v1m0 9v1m0 7v1m0 15v1m0 5v1m0 24v2m0 2v1m0 13v1m0 14v1m0 3v1m0 14v1m0 16v1m0 5v2m0 7v1m0 38v1m0 16v1m0 8v1m0 3v2m0 3v1m0 1v1m0 24v1m0 11v2m0 13v2m0 11v1m0 13v1m0 1v1m0 4v1m0 37v1M116.5 0v1m0 23v1m0 6v2m0 4v1m0 3v1m0 7v1m0 14v1m0 4v1m0 14v1m0 1v2m0 9v1m0 24v1m0 16v1m0 22v1m0 5v1m0 2v1m0 1v1m0 1v1m0 3v1m0 1v3m0 16v1m0 1v1m0 4v1m0 31v2m0 14v1m0 5v2m0 32v1m0 14v1m0 15v1m0 3v1m0 1v1m0 11v1m0 4v1m0 5v1m0 7v2m0 2v1m0 5v1m0 6v1m0 2v2m0 5v1m0 7v1M118.5 34v1m0 4v1m0 5v2m0 4v1m0 2v1m0 8v1m0 31v1m0 1v1m0 5v1m0 1v2m0 25v1m0 11v1m0 10v1m0 1v1m0 4v1m0 15v1m0 11v1m0 6v1m0 21v1m0 8v1m0 5v1m0 3v1m0 1v1m0 5v1m0 4v1m0 3v2m0 19v1m0 2v1m0 6v2m0 6v1m0 6v1m0 2v2m0 3v1m0 19v1m0 14v1m0 23v1m0 1v1m0 1v1m0 4v2m0 2v1m0 16v1M120.5 0v1m0 1v1m0 25v2m0 1v1m0 2v1m0 1v1m0 1v1m0 14v1m0 2v1m0 1v1m0 35v1m0 3v1m0 3v1m0 8v1m0 8v1m0 14v1m0 2v1m0 3v1m0 13v1m0 4v1m0 7v1m0 3v1m0 27v1m0 6v1m0 4v1m0 1v1m0 32v1m0 8v1m0 3v1m0 9v3m0 5v1m0 1v1m0 6v1m0 15v1m0 7v1m0 3v1m0 12v1m0 5v1m0 4v1m0 9v1m0 2v1m0 13v1m0 28v1m0 8v1M125.5 3v1m0 27v2m0 6v1m0 8v1m0 1v1m0 3v1m0 3v1m0 1v1m0 2v1m0 5v1m0 1v2m0 7v1m0 6v1m0 11v1m0 8v2m0 10v1m0 25v1m0 4v1m0 1v1m0 2v1m0 3v2m0 11v2m0 11v1m0 2v1m0 8v1m0 6v1m0 18v2m0 18v1m0 12v1m0 1v1m0 6v2m0 4v4m0 2v1m0 1v1m0 16v1m0 4v2m0 8v1m0 14v1m0 10v1m0 5v1m0 18v1m0 2v1m0 1v1m0 3v1m0 2v2m0 1v1m0 4v1m0 19v1m0 1v1M130.5 22v1m0 8v1m0 6v1m0 2v2m0 4v2m0 3v1m0 21v1m0 2v1m0 12v1m0 4v1m0 4v1m0 7v1m0 8v1m0 5v2m0 9v1m0 21v1m0 7v2m0 28v1m0 1v1m0 11v1m0 9v1m0 1v1m0 1v2m0 11v1m0 22v1m0 6v1m0 11v1m0 7v1m0 4v1m0 1v1m0 1v1m0 4v1m0 4v3m0 1v1m0 25v1m0 1v1m0 5v1m0 25v1m0 2v1m0 13v1m0 11v1m0 2v1M135.5 19v1m0 7v1m0 6v1m0 11v1m0 6v2m0 12v1m0 7v1m0 2v1m0 4v1m0 2v1m0 1v1m0 4v1m0 26v1m0 1v1m0 11v1m0 15v1m0 10v1m0 5v1m0 7v1m0 1v1m0 18v1m0 18v1m0 19v1m0 11v1m0 4v1m0 13v2m0 31v1m0 2v1m0 19v1m0 9v1m0 11v1m0 4v1m0 6v1m0 29v1m0 10v1M140.5 24v1m0 17v1m0 4v1m0 9v1m0 30v1m0 2v1m0 10v1m0 10v1m0 33v2m0 5v1m0 3v1m0 10v1m0 1v1m0 3v1m0 8v1m0 3v1m0 9v2m0 2v1m0 15v1m0 11v1m0 42v1m0 2v1m0 3v1m0 7v1m0 3v1m0 14v1m0 5v1m0 4v1m0 15v1m0 13v1m0 1v1m0 7v1m0 24v1m0 1v1m0 1v1m0 2v2m0 1v1m0 1v1M145.5 30v1m0 3v1m0 10v1m0 20v1m0 10v1m0 3v1m0 1v1m0 5v3m0 1v1m0 5v1m0 1v1m0 3v1m0 3v1m0 6v1m0 7v1m0 15v1m0 1v1m0 8v1m0 1v1m0 29v1m0 3v1m0 7v2m0 14v1m0 26v1m0 32v1m0 5v1m0 1v1m0 7v1m0 19v1m0 7v1m0 3v1m0 12v1m0 1v1m0 1v2m0 4v1m0 3v1m0 26v2m0 9v1m0 5v1m0 6v1M150.5 2v1m0 23v1m0 5v1m0 5v1m0 5v1m0 3v1m0 4v1m0 5v2m0 15v1m0 7v2m0 39v1m0 4v1m0 3v1m0 7v1m0 1v1m0 11v1m0 1v2m0 2v1m0 13v1m0 14v1m0 2v1m0 1v1m0 1v1m0 6v1m0 16v1m0 1v1m0 32v2m0 10v1m0 13v1m0 11v1m0 12v3m0 20v1m0 17v1m0 49v1m0 3v1"/>
<path stroke="#482475" d="M0.5 31v1m0 1v1m0 6v1m0 1v1m0 14v2m0 15v1m0 36v1m0 16v2m0 8v1m0 17v1m0 2v1m0 28v1m0 10v1m0 20v2m0 10v3m0 20v1m0 23v1m0 4v1m0 5v1m0 1v1m0 22v1m0 1v1m0 19v1m0 6v1m0 5v1m0 7v1m0 2v1m0 1v2m0 9v1m0 3v1m0 3v1M1.5 193v1m0 6v1m0 4v1m0 19v1m0 52v1m0 94v1M2.5 83v1m0 15v1m0 16v1m0 15v1m0 106v1m0 29v2m0 24v1m0 2v1m0 30v1m0 23v1m0 6v1m0 27v1M3.5 15v1m0 10v1m0 7v2m0 13v1m0 30v1m0 153v2m0 165v1M4.5 4v1m0 4v1m0 15v1m0 3v1m0 57v1m0 8v1m0 9v2m0 2v1m0 19v1m0 28v1m0 6v1m0 20v1m0 5v1m0 11v1m0 2v1m0 45v1m0 3v1m0 6v1m0 2v1m0 3v1m0 7v1m0 17v1m0 7v1m0 35v1m0 8v1m0 2v1m0 12v2m0 7v1m0 19v1m0 6v1M5.5 0v1m0 16v1m0 2v1m0 8v1m0 20v1m0 34v1m0 5v1m0 5v1m0 3v2m0 50v2m0 32v2m0 89v2m0 120v1M6.5 19v1m0 1v2m0 26v1m0 37v1m0 16v2m0 12v2m0 10v1m0 9v1m0 3v1m0 2v1m0 17v1m0 16v1m0 13v1m0 3v1m0 37v1m0 3v1m0 17v2m0 4v1m0 5v1m0 5v1m0 3v1m0 6v1m0 9v1m0 11v2m0 7v2m0 5v1m0 1v1m0 2v1m0 3v2m0 5v1m0 3v1m0 4v1m0 6v1m0 8v1m0 18v1m0 4v1m0 2v1M7.5 26v1m0 3v1m0 3v1m0 12v1m0 20v3m0 14v1m0 6v1m0 2v1m0 2v1m0 28v1m0 4v1m0 17v1m0 13v1m0 17v1m0 8v1m0 26v1m0 37v1m0 1v1m0 18v1m0 19v1m0 1v1m0 20v1m0 4v1m0 17v1m0 8v1m0 5v2m0 1v1m0 5v1m0 1v1m0 1v1m0 8v1m0 23v1M8.5 19v1m0 2v2m0 2v2m0 14v2m0 3v1m0 4v1m0 6v1m0 56v1m0 7v3m0 12v1m0 22v2m0 56v2m0 4v1m0 13v2m0 16v1m0 1v1m0 18v1m0 33v4m0 1v1m0 58v1m0 1v3m0 11v1M9.5 44v1m0 28v1m0 1v1m0 3v1m0 21v1m0 53v2m0 54v1m0 2v1m0 18v1m0 62v1m0 95v1M10.5 0v2m0 25v1m0 13v1m0 10v1m0 3v1m0 3v1m0 4v1m0 21v1m0 18v1m0 7v1m0 1v1m0 13v2m0 19v1m0 11v2m0 6v2m0 1v1m0 15v1m0 11v1m0 12v1m0 38v1m0 17v2m0 16v1m0 17v1m0 12v1m0 4v2m0 1v1m0 4v1m0 5v1m0 5v1m0 9v1m0 10v1m0 33v1m0 4v1M11.5 44v1m0 18v1m0 17v1m0 34v1m0 1v1m0 4v1m0 15v1m0 6v1m0 16v1m0 13v1m0 7v1m0 17v1m0 6v1m0 37v1m0 46v1m0 29v2m0 14v1m0 3v1m0 4v1m0 1v1m0 41v2m0 9v1M12.5 26v1m0 6v1m0 70v1m0 60v1m0 14v2m0 4v1m0 3v1m0 26v2m0 24v1m0 27v2m0 6v1m0 24v1m0 73v1m0 19v1M13.5 103v1m0 4v1m0 12v1m0 3v1m0 10v1m0 9v2m0 20v1m0 11v1m0 4v1m0 6v1m0 6v1m0 7v2m0 1v1m0 1v1m0 1v1m0 2v2m0 1v1m0 3v1m0 1v1m0 40v1m0 1v2m0 120v2M14.5 5v1m0 16v1m0 24v1m0 29v1m0 20v2m0 5v4m0 7v1m0 1v2m0 1v1m0 1v1m0 1v1m0 38v1m0 25v1m0 6v1m0 51v1m0 42v1m0 15v1m0 3v1m0 17v1m0 23v1m0 4v1m0 1v3m0 2v1m0 7v1m0 4v1M15.5 16v1m0 1v1m0 1v1m0 9v2m0 1v1m0 35v1m0 46v1m0 9v1m0 12v2m0 5v1m0 1v1m0 4v1m0 2v1m0 12v1m0 4v1m0 4v1m0 5v1m0 12v1m0 17v1m0 8v1m0 15v1m0 9v1m0 3v2m0 4v1m0 1v2m0 1v1m0 40v1m0 1v1m0 12v1m0 8v2m0 8v2m0 5v2m0 6v1m0 16v1m0 7v1m0 5v1m0 1v1M16.5 51v1m0 35v1m0 86v1m0 10v1m0 80v1m0 63v1m0 5v1m0 17v1M17.5 156v1M18.5 26v1m0 260v1m0 29v1M19.5 5v1m0 29v1m0 64v2m0 76v1m0 15v1m0 20v1m0 18v1m0 62v1m0 5v1m0 11v1m0 3v1m0 3v1m0 4v1m0 8v3m0 1v1m0 1v1m0 9v1m0 3v1m0 2v1m0 6v1m0 2v1m0 2v1m0 1v1M20.5 5v1m0 12v2m0 8v1m0 2v1m0 3v1m0 3v1m0 16v2m0 9v1m0 5v1m0 5v1m0 22v1m0 1v1m0 3v2m0 16v1m0 3v1m0 7v1m0 6v2m0 2v1m0 21v1m0 11v1m0 22v1m0 23v1m0 26v1m0 2v1m0 34v1m0 7v1m0 2v2m0 11v1m0 13v1m0 3v1m0 7v1m0 5v1m0 9v1m0 10v1m0 14v1m0 11v1M21.5 5v1m0 20v1m0 5v1m0 5v2m0 15v1m0 21v1m0 12v1m0 1v1m0 1v1m0 2v1m0 12v1m0 19v1m0 18v1m0 1v1m0 29v2m0 3v1m0 47v1m0 15v2m0 2v1m0 28v1m0 28v1m0 22v1m0 5v1m0 2v1m0 7v2m0 6v1m0 4v1m0 1v3m0 16v1M22.5 1v1m0 2v1m0 17v2m0 1v1m0 3v1m0 2v1m0 13v1m0 62v1m0 6v1m0 7v1m0 51v1m0 2v1m0 27v1m0 26v1m0 2v1m0 5v1m0 4v1m0 5v2m0 1v1m0 2v2m0 6v1m0 7v1m0 10v1m0 6v1m0 8v1m0 1v1m0 1v1m0 3v2m0 1v1m0 21v1m0 2v1m0 17v1m0 13v1m0 10v2m0 8v1m0 6v1M23.5 0v2m0 19v1m0 49v1m0 2v1m0 4v1m0 5v1m0 12v2m0 1v1m0 2v1m0 1v2m0 2v1m0 1v1m0 7v1m0 10v1m0 12v1m0 13v3m0 17v1m0 1v1m0 4v2m0 2v2m0 8v1m0 106v1m0 15v1m0 12v1m0 21v1m0 15v1m0 5v1m0 13v3m0 5v1M24.5 21v1m0 14v1m0 34v1m0 7v2m0 2v1m0 11v1m0 6v1m0 1v1m0 19v1m0 3v1m0 8v1m0 23v1m0 7v1m0 19v1m0 11v1m0 11v2m0 3v1m0 1v1m0 6v1m0 1v3m0 2v1m0 6v1m0 7v1m0 5v1m0 9v1m0 5v1m0 24v1m0 3v1m0 10v1m0 22v1m0 9v1m0 3v1m0 1v1m0 5v1m0 5v1m0 4v1m0 2v1m0 1v1m0 1v1m0 7v1m0 4v1m0 4v1m0 3v1m0 9v1M25.5 19v1m0 64v1m0 21v1m0 59v1m0 1v2m0 25v1m0 3v2m0 42v1m0 57v1m0 10v1m0 33v2m0 11v1m0 4v1m0 2v1M26.5 18v1m0 44v1m0 39v1m0 1v2m0 4v1m0 8v1m0 7v1m0 45v1m0 10v1m0 60v1m0 3v1m0 1v1m0 9v1m0 11v1m0 4v1m0 7v2m0 4v1M27.5 48v1m0 9v1m0 15v1m0 13v1m0 112v1m0 56v1m0 6v1m0 131v1M28.5 3v1m0 1v1m0 96v1m0 70v1m0 1v1m0 1v2m0 5v1m0 4v1m0 16v2m0 4v1m0 12v1m0 58v1m0 73v1m0 18v1m0 4v1m0 14v1M29.5 2v1m0 16v2m0 7v1m0 28v1m0 92v2m0 40v1m0 1v1m0 24v1m0 5v1m0 4v1m0 87v2m0 17v1m0 1v1m0 21v2m0 12v2M30.5 6v1m0 39v2m0 9v1m0 12v1m0 3v1m0 10v1m0 8v2m0 37v1m0 11v1m0 4v1m0 6v1m0 3v1m0 5v1m0 3v1m0 16v1m0 7v2m0 2v1m0 1v1m0 10v1m0 7v1m0 8v2m0 9v3m0 25v2m0 4v2m0 12v1m0 3v1m0 5v1m0 30v1m0 1v1m0 25v1m0 4v1m0 2v1m0 8v1m0 20v1m0 1v1m0 1v1M31.5 0v1m0 23v1m0 10v2m0 32v1m0 31v1m0 23v2m0 45v1m0 30v3m0 15v1m0 7v1m0 6v1m0 18v1m0 5v1m0 18v1m0 13v1m0 46v1m0 31v1m0 17v1m0 6v1m0 7v1M32.5 2v1m0 27v1m0 27v1m0 45v1m0 10v1m0 15v2m0 22v1m0 4v1m0 6v1m0 4v1m0 3v1m0 32v1m0 20v1m0 1v1m0 12v1m0 17v1m0 20v1m0 37v1m0 32v1m0 2v1m0 13v1m0 16v1M33.5 43v1m0 25v1m0 3v2m0 37v1m0 30v2m0 11v3m0 5v1m0 13v2m0 10v1m0 4v1m0 1v1m0 26v1m0 3v1m0 2v1m0 3v1m0 3v1m0 22v1m0 8v3m0 15v1m0 20v1m0 6v1m0 17v1m0 7v1m0 1v2m0 4v1m0 10v1m0 2v1m0 3v1m0 7v2m0 2v1m0 1v1m0 1v1m0 3v1m0 11v1M34.5 24v1m0 5v1m0 2v1m0 10v2m0 4v1m0 12v1m0 38v1m0 166v1m0 14v1m0 33v1m0 39v1M35.5 5v1m0 17v1m0 30v1m0 2v2m0 6v1m0 15v1m0 2v1m0 10v1m0 14v1m0 2v3m0 15v1m0 6v1m0 13v1m0 1v1m0 1v2m0 9v1m0 10v1m0 8v1m0 4v1m0 12v1m0 22v1m0 11v1m0 17v2m0 2v2m0 1v1m0 15v1m0 1v1m0 23v1m0 15v1m0 5v1m0 35v1m0 12v1m0 1v2m0 17v1M36.5 38v1m0 170v1m0 8v2m0 1v1m0 5v1m0 52v1m0 5v1m0 28v1m0 20v1m0 40v1M37.5 110v1m0 10v2m0 128v1m0 6v1M38.5 3v1m0 15v1m0 20v1m0 2v1m0 3v1m0 4v1m0 18v1m0 52v1m0 8v2m0 1v1m0 8v1m0 2v1m0 4v1m0 20v2m0 23v2m0 5v1m0 21v1m0 4v2m0 22v1m0 5v1m0 9v1m0 10v1m0 1v1m0 5v1m0 4v1m0 24v1m0 15v2m0 20v2m0 9v2m0 29v1m0 2v1M39.5 20v1m0 71v1m0 52v1m0 63v2m0 2v1m0 80v1m0 10v1m0 54v1M40.5 33v1m0 2v1m0 7v1m0 5v1m0 25v1m0 2v1m0 71v1m0 5v1m0 57v1m0 90v1m0 20v1m0 57v2m0 1v1m0 11v1M41.5 1v1m0 23v2m0 10v1m0 4v1m0 46v1m0 29v1m0 14v1m0 2v1m0 2v1m0 10v1m0 14v1m0 21v1m0 29v1m0 31v1m0 4v1m0 12v1m0 17v1m0 5v1m0 29v1m0 2v1m0 3v1m0 8v1m0 3v1m0 19v2m0 13v1m0 8v2M42.5 0v1m0 42v3m0 11v1m0 9v1m0 26v1m0 2v1m0 13v1m0 26v1m0 4v1m0 3v1m0 8v1m0 5v1m0 10v1m0 40v1m0 18v1m0 29v1m0 29v1m0 29v2m0 9v1m0 5v1m0 1v1m0 10v1m0 10v2m0 10v1m0 18v1m0 8v1m0 1v1M43.5 22v1m0 5v1m0 18v1m0 3v1m0 6v2m0 4v1m0 5v1m0 62v1m0 5v1m0 14v1m0 2v1m0 1v1m0 3v1m0 9v1m0 5v1m0 8v2m0 20v2m0 7v1m0 1v1m0 27v1m0 9v1m0 6v1m0 4v1m0 11v1m0 1v1m0 38v1m0 5v3m0 5v1m0 11v1m0 3v1m0 3v1M44.5 20v1m0 41v1m0 1v1m0 67v1m0 39v1m0 80v1m0 6v1m0 31v1m0 6v1m0 11v3m0 2v2m0 12v1m0 19v1m0 7v2m0 17v1M45.5 22v1m0 17v1m0 1v1m0 3v1m0 3v1m0 3v2m0 2v3m0 1v2m0 5v1m0 8v1m0 4v2m0 3v1m0 1v1m0 94v1m0 25v1m0 23v1m0 9v1m0 28v1m0 74v1m0 3v1m0 7v1m0 44v1M46.5 1v1m0 92v2m0 25v1m0 33v1m0 4v3m0 17v1m0 54v1M47.5 24v1m0 11v1m0 18v1m0 5v2m0 6v1m0 11v2m0 7v1m0 5v1m0 4v1m0 20v1m0 52v2m0 19v1m0 1v1m0 8v1m0 7v1m0 8v1m0 9v2m0 4v1m0 1v1m0 45v1m0 4v1m0 36v1m0 12v2m0 46v1M48.5 2v2m0 17v1m0 1v1m0 1v1m0 24v1m0 6v1m0 40v1m0 16v2m0 40v1m0 13v1m0 32v1m0 2v1m0 2v2m0 14v1m0 18v1m0 11v1m0 5v1m0 14v1m0 71v1m0 1v1m0 29v2M49.5 18v1m0 65v1m0 7v1m0 3v1m0 16v2m0 28v1m0 61v1m0 52v1m0 31v3m0 49v1m0 35v1m0 18v1M50.5 1v1m0 18v2m0 4v1m0 1v2m0 19v1m0 14v1m0 5v1m0 23v1m0 24v1m0 25v2m0 3v1m0 12v2m0 8v1m0 29v1m0 2v2m0 17v1m0 7v1m0 20v2m0 17v1m0 10v1m0 18v1m0 19v2m0 8v1m0 1v2m0 8v1m0 29v1m0 10v1m0 1v1m0 6v1M51.5 4v1m0 13v1m0 1v1m0 4v1m0 13v1m0 8v1m0 3v1m0 2v1m0 1v1m0 1v1m0 35v1m0 5v1m0 5v1m0 5v1m0 5v1m0 4v1m0 13v1m0 3v2m0 5v1m0 22v3m0 8v1m0 10v1m0 23v1m0 11v2m0 12v2m0 34v1m0 18v2m0 24v1m0 20v1m0 1v2m0 4v1m0 2v1m0 8v1m0 4v1m0 6v1m0 17v1M52.5 34v2m0 24v1m0 17v2m0 5v1m0 2v1m0 1v2m0 3v1m0 3v1m0 11v1m0 13v1m0 4v1m0 2v1m0 6v1m0 10v1m0 4v1m0 3v2m0 8v1m0 15v1m0 1v1m0 3v1m0 70v1m0 3v2m0 3v1m0 5v3m0 3v2m0 6v5m0 78v1m0 14v1m0 1v1M53.5 24v1m0 3v1m0 8v1m0 60v1m0 15v1m0 5v1m0 120v1m0 44v2m0 22v1m0 11v1m0 1v2m0 20v2m0 32v1m0 5v1M54.5 22v1m0 16v1m0 6v3m0 6v1m0 13v1m0 6v1m0 9v1m0 6v3m0 7v2m0 3v1m0 1v1m0 10v1m0 4v1m0 4v1m0 1v1m0 1v1m0 6v1m0 3v1m0 4v1m0 10v1m0 19v1m0 8v2m0 2v1m0 3v1m0 8v2m0 1v1m0 3v1m0 1v1m0 11v1m0 1v1m0 2v2m0 12v1m0 20v1m0 6v1m0 44v1m0 35v1m0 9v1m0 9v1M55.5 3v1m0 88v1m0 69v1m0 4v1m0 10v1m0 63v2m0 20v1m0 13v1m0 23v1m0 1v2m0 42v1m0 14v1M56.5 1v1m0 20v1m0 6v1m0 15v1m0 4v2m0 12v1m0 24v2m0 4v2m0 49v1m0 13v1m0 4v1m0 17v1m0 2v1m0 14v1m0 16v1m0 29v1m0 25v1m0 3v1m0 5v1m0 25v1m0 2v1m0 8v1m0 9v1m0 34v1m0 3v1M57.5 26v1m0 13v1m0 26v2m0 8v1m0 32v1m0 19v1m0 14v1m0 4v1m0 59v1m0 37v1m0 5v1m0 20v1m0 33v1m0 6v1m0 13v1m0 16v1m0 2v1m0 24v1m0 2v2m0 4v1m0 13v1M58.5 22v1m0 38v1m0 6v1m0 25v1m0 48v1m0 26v3m0 17v1m0 5v1m0 5v1m0 42v1m0 57v1m0 3v1m0 11v1m0 5v2m0 3v1m0 5v1m0 45v1M59.5 38v1m0 1v1m0 2v1m0 5v2m0 4v1m0 16v1m0 11v1m0 10v1m0 82v1m0 31v2m0 59v1m0 17v1m0 1v2m0 104v1M60.5 2v1m0 23v1m0 4v1m0 6v1m0 55v1m0 32v1m0 52v2m0 3v1m0 10v1m0 29v2m0 81v1m0 45v1m0 1v1m0 4v1m0 4v1m0 5v1M61.5 43v1m0 22v1m0 4v1m0 9v1m0 6v1m0 75v1m0 16v1m0 12v1m0 59v1m0 24v1m0 10v1m0 6v1m0 1v1m0 6v1m0 5v2m0 10v1m0 2v1m0 44v1M62.5 18v1m0 1v2m0 1v2m0 21v1m0 14v1m0 34v2m0 33v3m0 2v1m0 2v1m0 9v1m0 13v2m0 2v1m0 20v1m0 1v1m0 3v1m0 2v1m0 40v1m0 3v1m0 11v2m0 2v1m0 3v4m0 3v1m0 5v1m0 6v1m0 16v1m0 32v1m0 8v1m0 1v2m0 17v1m0 2v1m0 2v2m0 12v1m0 19v2M63.5 42v1m0 1v1m0 8v1m0 28v1m0 86v1m0 12v1m0 10v1m0 13v1m0 4v1m0 30v1m0 21v1m0 9v1m0 20v1m0 12v1m0 29v1m0 39v2M64.5 36v1m0 1v2m0 7v1m0 7v2m0 2v1m0 5v1m0 6v1m0 43v1m0 31v1m0 16v1m0 1v1m0 8v1m0 2v1m0 5v1m0 1v1m0 4v1m0 2v1m0 2v1m0 3v1m0 2v1m0 2v1m0 1v1m0 3v1m0 3v3m0 3v1m0 2v1m0 2v1m0 5v3m0 11v1m0 5v1m0 1v3m0 4v1m0 7v1m0 4v1m0 1v2m0 3v2m0 7v1m0 2v1m0 2v2m0 1v1m0 5v1m0 7v1m0 4v1m0 3v1m0 1v1m0 4v1m0 1v1m0 5v2m0 13v2m0 4v1m0 3v1m0 8v2m0 2v1m0 2v2m0 1v1m0 1v1m0 1v1m0 2v1m0 1v2m0 2v1m0 1v2m0 1v1M65.5 0v1m0 1v1m0 23v1m0 7v3m0 2v1m0 2v2m0 4v4m0 1v3m0 1v1m0 1v2m0 7v1m0 2v1m0 1v2m0 2v1m0 2v1m0 2v4m0 2v1m0 6v1m0 2v1m0 2v1m0 10v1m0 17v1m0 4v1m0 2v1m0 4v1m0 4v1m0 8v1m0 9v1m0 8v2m0 7v2m0 15v1m0 1v1m0 36v1m0 26v1m0 6v1m0 5v2m0 1v1m0 1v2m0 33v1m0 1v2m0 19v1m0 2v1m0 7v1m0 2v1m0 6v1m0 29v1m0 2v1M66.5 34v1m0 7v1m0 7v1m0 5v1m0 2v1m0 1v1m0 1v1m0 5v1m0 18v1m0 8v1m0 3v1m0 51v2m0 4v1m0 53v1m0 52v1m0 109v2M67.5 2v1m0 19v1m0 72v1m0 2v1m0 83v1m0 21v1m0 9v1m0 4v1m0 15v1m0 11v1m0 42v1m0 4v1m0 5v1m0 4v1m0 2v1m0 1v1m0 3v1m0 6v2m0 1v2m0 4v3m0 3v1m0 9v1m0 2v1m0 2v1m0 2v1m0 25v1m0 4v1m0 4v1m0 9v2M68.5 33v2m0 20v1m0 3v1m0 1v1m0 14v1m0 1v1m0 1v2m0 3v1m0 1v1m0 2v2m0 45v1m0 8v1m0 9v1m0 2v2m0 36v1m0 2v1m0 19v1m0 1v1m0 5v1m0 4v1m0 27v1m0 3v1m0 20v1m0 15v1m0 22v1m0 9v1m0 21v1m0 19v1m0 18v2m0 1v1m0 6v1M69.5 64v1m0 2v1m0 30v1m0 27v2m0 51v1m0 4v1m0 8v1m0 55v1m0 6v1m0 14v1m0 72v1m0 4v2m0 10v1m0 5v1m0 1v1m0 18v2m0 12v1M70.5 1v2m0 22v1m0 21v1m0 10v1m0 34v1m0 8v1m0 11v2m0 4v1m0 9v1m0 23v1m0 3v1m0 6v1m0 20v1m0 4v2m0 3v2m0 4v1m0 2v1m0 1v1m0 6v1m0 8v1m0 1v1m0 10v1m0 51v1m0 10v2m0 14v2m0 34v2m0 31v1m0 3v3m0 10v1M71.5 22v1m0 7v1m0 2v1m0 13v1m0 8v1m0 3v1m0 1v1m0 1v2m0 2v1m0 2v2m0 24v1m0 12v1m0 8v1m0 9v1m0 1v1m0 1v1m0 14v1m0 7v1m0 17v1m0 5v1m0 7v1m0 8v1m0 4v1m0 2v1m0 13v1m0 9v2m0 2v2m0 18v1m0 19v1m0 20v1m0 19v1m0 23v2m0 3v1m0 19v1m0 37v1m0 1v1M72.5 22v1m0 20v2m0 2v1m0 39v1m0 10v1m0 27v1m0 46v1m0 39v1m0 1v1m0 5v1m0 6v1m0 2v1m0 9v1m0 12v1m0 5v1m0 2v1m0 76v1m0 3v2m0 21v1m0 17v1M73.5 22v1m0 107v1m0 48v1m0 113v1m0 101v1M74.5 21v1m0 103v1m0 75v1m0 55v1M75.5 21v2m0 6v2m0 5v1m0 14v1m0 7v1m0 4v1m0 13v1m0 1v1m0 1v1m0 7v1m0 20v1m0 12v1m0 8v1m0 17v1m0 7v1m0 9v1m0 1v3m0 14v1m0 15v1m0 6v1m0 32v1m0 3v1m0 11v1m0 18v1m0 6v3m0 4v1m0 1v1m0 9v1m0 1v1m0 8v1m0 9v2m0 4v1m0 12v1m0 4v1m0 1v1m0 19v1m0 16v1m0 2v1M76.5 3v2m0 25v1m0 14v3m0 11v1m0 10v1m0 3v3m0 1v1m0 7v2m0 27v1m0 6v1m0 20v2m0 9v1m0 2v1m0 9v1m0 4v1m0 5v1m0 8v1m0 26v1m0 11v2m0 35v1m0 3v1m0 14v1m0 14v1m0 4v1m0 4v1m0 9v2m0 16v1m0 6v2m0 4v1m0 9v1m0 29v1M77.5 2v1m0 21v1m0 15v1m0 6v1m0 40v1m0 30v1m0 2v2m0 7v1m0 17v2m0 4v1m0 9v1m0 1v2m0 2v1m0 4v1m0 4v2m0 1v1m0 20v1m0 5v1m0 36v1m0 5v2m0 13v1m0 42v1m0 42v1M78.5 49v1m0 45v1m0 12v1m0 15v1m0 4v2m0 10v1m0 2v3m0 9v1m0 4v1m0 9v1m0 3v2m0 1v1m0 4v2m0 3v1m0 5v2m0 3v1m0 14v1m0 6v2m0 11v1m0 19v1m0 1v1m0 2v1m0 10v1m0 12v2m0 6v1m0 6v2m0 25v1m0 25v1m0 6v2m0 46v1M79.5 1v1m0 62v1m0 170v1M80.5 26v1m0 10v1m0 4v2m0 23v1m0 4v1m0 5v1m0 23v1m0 4v1m0 2v1m0 7v1m0 26v1m0 13v1m0 2v1m0 1v1m0 6v1m0 4v1m0 5v2m0 8v1m0 2v1m0 6v1m0 27v1m0 27v1m0 8v1m0 24v1m0 16v1m0 34v1m0 29v1m0 17v1m0 2v1m0 4v1m0 2v2M81.5 0v1m0 1v1m0 20v1m0 5v1m0 5v1m0 19v2m0 29v1m0 6v2m0 12v1m0 1v1m0 27v1m0 4v2m0 4v2m0 2v1m0 9v1m0 14v2m0 1v2m0 17v1m0 5v1m0 9v2m0 12v3m0 1v1m0 1v1m0 8v1m0 11v1m0 10v1m0 6v1m0 15v1m0 3v1m0 2v3m0 13v1m0 13v1m0 12v1m0 12v1m0 3v1m0 2v1m0 15v1m0 9v1m0 4v1m0 12v1m0 1v1M82.5 2v2m0 15v1m0 3v1m0 73v1m0 17v1m0 2v1m0 12v1m0 52v1m0 28v1m0 4v1m0 3v1m0 3v1m0 33v1m0 1v1m0 41v2m0 9v1m0 9v1m0 23v2m0 11v1M83.5 19v1m0 2v1m0 1v2m0 4v1m0 3v1m0 107v1m0 16v1m0 6v1m0 4v1m0 12v1m0 15v1m0 3v1m0 7v1m0 3v1m0 13v1m0 18v2m0 5v1m0 33v1m0 5v1m0 12v1m0 8v1m0 5v1m0 2v2m0 5v1m0 9v1m0 47v1m0 3v1m0 1v1M84.5 173v1m0 15v1m0 100v1m0 56v2m0 38v1M85.5 21v1m0 20v1m0 13v1m0 15v2m0 1v2m0 63v1m0 12v1m0 22v2m0 41v1m0 39v1m0 66v3m0 53v1m0 11v1m0 3v1M86.5 18v1m0 7v1m0 9v1m0 58v1m0 20v2m0 13v1m0 4v1m0 20v1m0 4v1m0 23v1m0 18v1m0 5v1m0 8v1m0 9v1m0 7v3m0 5v1m0 17v1m0 18v1m0 7v1m0 2v1m0 3v3m0 12v1m0 3v1m0 4v1m0 36v2m0 9v1m0 4v1m0 9v1m0 1v1m0 4v2M87.5 25v2m0 4v2m0 1v1m0 1v1m0 2v1m0 10v1m0 5v1m0 30v1m0 4v1m0 14v1m0 12v1m0 1v1m0 31v1m0 8v5m0 2v1m0 1v1m0 3v1m0 2v1m0 1v1m0 3v1m0 8v1m0 9v2m0 3v1m0 5v1m0 3v2m0 2v1m0 12v1m0 1v2m0 2v3m0 2v3m0 5v1m0 6v1m0 2v1m0 7v3m0 5v1m0 1v1m0 1v2m0 12v1m0 1v1m0 8v1m0 2v1m0 11v1m0 1v1m0 5v1m0 8v1m0 9v4m0 2v1m0 13v1m0 17v1M88.5 26v1m0 3v1m0 18v1m0 8v1m0 11v1m0 2v1m0 5v1m0 11v1m0 35v1m0 3v2m0 7v1m0 15v1m0 12v1m0 2v1m0 14v1m0 1v1m0 2v1m0 3v1m0 9v1m0 54v2m0 4v2m0 4v1m0 30v1m0 7v2m0 9v1m0 10v1m0 1v1m0 25v1m0 3v1m0 8v1M89.5 247v1m0 23v1m0 116v1M90.5 3v1m0 22v1m0 6v1m0 1v2m0 13v1m0 16v1m0 3v1m0 4v1m0 26v1m0 51v1m0 2v1m0 4v1m0 1v1m0 12v1m0 19v1m0 9v1m0 9v1m0 5v1m0 21v1m0 27v1m0 3v1m0 2v1m0 6v1m0 14v1m0 1v1m0 18v1m0 13v2m0 2v1m0 4v1m0 15v1m0 10v1m0 14v1M91.5 21v2m0 33v1m0 232v1M92.5 20v1m0 1v2m0 5v1m0 27v1m0 7v1m0 7v1m0 7v2m0 7v1m0 3v1m0 14v1m0 25v1m0 2v2m0 7v2m0 11v1m0 15v1m0 19v1m0 16v1m0 13v1m0 11v2m0 15v1m0 8v2m0 29v2m0 48v1m0 21v1m0 6v1m0 2v2m0 17v1m0 6v1M93.5 23v2m0 9v1m0 20v1m0 55v1m0 50v1m0 12v1m0 4v2m0 24v1m0 3v1m0 10v1m0 8v1m0 20v2m0 3v1m0 14v1m0 3v1m0 10v1m0 2v1m0 7v1m0 12v1m0 3v1m0 12v1m0 8v1m0 3v1m0 10v1m0 19v1m0 5v1m0 16v1m0 4v1M94.5 29v1m0 9v1m0 13v1m0 8v1m0 12v1m0 49v1m0 1v2m0 10v2m0 10v1m0 7v2m0 9v1m0 36v1m0 16v1m0 72v1m0 7v1m0 10v1m0 14v2m0 1v1m0 10v1m0 9v1m0 10v1m0 15v1m0 14v4M95.5 18v1m0 27v1m0 15v1m0 4v1m0 10v1m0 88v1m0 54v1m0 101v1m0 10v1m0 23v1m0 31v1M96.5 26v1m0 115v1m0 169v1m0 69v1m0 4v1M97.5 4v1m0 22v1m0 4v1m0 10v1m0 5v1m0 8v1m0 11v1m0 1v1m0 68v2m0 29v1m0 5v2m0 25v2m0 2v1m0 32v1m0 15v1m0 13v1m0 7v1m0 2v1m0 5v1m0 12v1m0 3v1m0 7v2m0 4v1m0 47v1m0 13v1m0 3v1m0 7v1M98.5 18v1m0 57v1m0 7v1m0 38v1m0 85v1m0 23v1m0 7v1m0 51v1m0 56v1m0 40v1M99.5 19v1m0 4v2m0 4v1m0 1v1m0 10v1m0 13v1m0 6v1m0 38v1m0 8v1m0 12v1m0 9v1m0 14v1m0 8v1m0 39v1m0 1v1m0 3v1m0 1v1m0 1v1m0 1v1m0 1v1m0 60v1m0 6v1m0 6v2m0 4v1m0 13v1m0 8v1m0 41v1m0 15v1m0 3v1m0 1v1M100.5 4v1m0 18v1m0 13v1m0 8v1m0 2v1m0 2v1m0 1v1m0 6v1m0 3v1m0 24v1m0 4v1m0 16v1m0 33v1m0 5v1m0 26v1m0 7v2m0 1v1m0 6v1m0 17v1m0 2v1m0 3v1m0 4v1m0 1v1m0 20v1m0 6v1m0 4v1m0 11v1m0 38v1m0 1v1m0 51v1m0 8v2m0 6v1m0 13v1m0 4v1M101.5 62v2m0 9v1m0 35v1m0 9v1m0 7v1m0 35v1m0 61v1m0 3v1m0 1v1m0 20v1m0 2v2m0 3v1m0 35v1m0 31v1m0 47v1m0 7v1m0 5v1m0 9v1m0 1v1M102.5 62v1m0 21v1m0 5v1m0 20v1m0 29v1m0 14v1m0 26v3m0 19v1m0 12v1m0 75v1m0 15v1m0 2v1m0 35v1m0 4v1M103.5 20v1m0 26v1m0 19v2m0 19v1m0 6v3m0 4v1m0 4v1m0 3v1m0 1v1m0 15v1m0 10v1m0 4v1m0 9v2m0 5v1m0 6v1m0 63v1m0 5v1m0 6v1m0 18v1m0 12v1m0 1v1m0 1v2m0 26v1m0 12v1m0 1v1m0 46v1m0 5v1m0 22v1M104.5 2v1m0 16v1m0 5v1m0 8v1m0 3v1m0 10v1m0 2v2m0 16v1m0 2v2m0 14v1m0 17v1m0 7v1m0 25v1m0 2v1m0 3v1m0 8v1m0 10v1m0 6v1m0 10v1m0 7v1m0 11v1m0 9v2m0 6v1m0 38v1m0 45v1m0 4v1m0 8v1m0 1v1m0 6v1m0 2v1m0 3v2m0 19v1m0 7v1m0 34v1M105.5 0v1m0 22v2m0 35v1m0 11v1m0 2v1m0 37v1m0 28v1m0 85v2m0 12v2m0 15v1m0 2v1m0 10v1m0 9v1m0 8v1m0 4v1m0 2v1m0 6v1m0 36v1m0 10v1m0 14v1m0 24v1M106.5 23v1m0 15v1m0 156v1m0 19v1m0 36v1m0 6v1m0 15v1m0 39v1m0 58v1M108.5 44v1m0 21v1m0 4v1m0 29v1m0 13v1m0 3v1m0 2v1m0 7v1m0 15v1m0 31v1m0 5v1m0 43v2m0 5v1m0 18v1m0 8v1m0 7v1m0 2v1m0 1v1m0 5v1m0 4v1m0 15v1m0 2v1m0 17v1m0 2v1m0 48v1m0 13v1m0 4v1m0 8v2M110.5 21v1m0 7v1m0 4v1m0 3v1m0 3v1m0 6v1m0 6v1m0 4v1m0 26v1m0 71v1m0 27v1m0 3v1m0 2v1m0 1v1m0 5v1m0 3v1m0 4v1m0 21v1m0 2v1m0 7v1m0 11v1m0 3v1m0 4v1m0 1v1m0 31v1m0 15v1m0 27v1m0 5v1m0 5v1m0 11v2m0 20v1m0 7v1m0 5v2M112.5 19v1m0 14v1m0 15v1m0 21v2m0 7v1m0 10v2m0 6v1m0 11v1m0 23v1m0 28v1m0 38v2m0 25v1m0 10v1m0 8v2m0 18v1m0 14v1m0 6v1m0 6v1m0 6v1m0 14v1m0 7v1m0 6v1m0 2v1m0 10v1m0 5v1m0 21v1m0 18v1M114.5 22v1m0 19v2m0 9v1m0 24v1m0 13v1m0 14v3m0 18v1m0 15v1m0 4v1m0 2v1m0 4v1m0 11v1m0 5v1m0 25v1m0 11v1m0 29v1m0 28v1m0 18v1m0 8v1m0 2v1m0 45v1m0 8v1m0 6v1m0 19v1m0 1v1M116.5 28v2m0 26v1m0 5v1m0 5v1m0 25v1m0 19v2m0 14v1m0 1v1m0 15v1m0 45v1m0 24v1m0 13v1m0 35v1m0 14v1m0 5v1m0 15v1m0 15v1m0 1v1m0 2v1m0 6v2m0 10v2m0 14v1m0 2v1m0 16v1m0 12v1M118.5 41v1m0 1v1m0 27v1m0 4v1m0 4v2m0 4v2m0 4v1m0 2v1m0 12v1m0 2v1m0 3v1m0 22v1m0 28v1m0 1v1m0 2v1m0 22v1m0 5v2m0 5v2m0 7v1m0 12v1m0 30v2m0 16v1m0 1v1m0 2v1m0 3v1m0 25v1m0 3v1m0 3v1m0 4v1m0 16v2m0 11v1m0 33v1m0 8v1M120.5 1v1m0 25v1m0 18v1m0 4v1m0 24v1m0 7v1m0 6v1m0 15v1m0 9v1m0 3v1m0 1v1m0 4v1m0 16v1m0 13v1m0 14v1m0 17v1m0 11v1m0 33v1m0 4v1m0 14v1m0 24v1m0 26v1m0 2v1m0 31v1m0 17v1M125.5 1v2m0 31v1m0 5v1m0 2v1m0 9v1m0 14v1m0 8v2m0 2v1m0 32v1m0 1v1m0 18v1m0 3v1m0 10v1m0 13v1m0 3v1m0 16v1m0 28v1m0 1v1m0 12v1m0 1v1m0 5v1m0 17v1m0 14v1m0 11v1m0 1v1m0 15v1m0 12v1m0 12v1m0 2v1m0 10v1m0 2v1m0 1v1m0 5v1m0 2v1m0 15v1m0 2v1M130.5 19v1m0 4v1m0 10v1m0 9v1m0 9v1m0 17v1m0 14v1m0 2v1m0 5v1m0 7v1m0 23v1m0 18v1m0 26v1m0 3v1m0 8v1m0 13v1m0 4v1m0 11v1m0 1v1m0 33v1m0 11v1m0 4v1m0 10v1m0 14v1m0 29v1m0 14v1m0 7v1m0 2v1m0 17v1m0 15v2m0 11v1M135.5 3v1m0 20v1m0 10v1m0 7v1m0 3v1m0 14v1m0 7v1m0 1v1m0 3v1m0 7v1m0 9v1m0 40v1m0 36v1m0 6v1m0 8v1m0 33v1m0 7v1m0 6v1m0 2v1m0 8v2m0 5v2m0 3v1m0 1v1m0 11v1m0 19v1m0 13v1m0 3v2m0 8v1m0 18v2m0 16v1m0 3v1m0 6v1m0 6v1m0 2v1m0 16v1M140.5 21v1m0 18v1m0 23v1m0 15v1m0 13v1m0 3v1m0 7v1m0 2v1m0 1v1m0 3v1m0 7v1m0 21v2m0 20v1m0 10v1m0 37v1m0 15v2m0 60v1m0 8v1m0 22v1m0 13v1m0 3v1m0 41v1m0 9v1m0 1v1m0 5v1m0 1v1M145.5 3v1m0 20v1m0 46v1m0 4v1m0 43v1m0 10v2m0 10v1m0 2v2m0 18v1m0 4v1m0 4v1m0 2v1m0 6v1m0 4v1m0 5v2m0 9v1m0 3v1m0 2v1m0 3v1m0 1v1m0 5v1m0 4v1m0 29v1m0 7v1m0 9v1m0 15v1m0 19v1m0 27v1m0 3v1m0 1v1m0 4v1m0 5v1m0 5v1m0 11v1m0 1v1m0 7v1m0 2v1m0 2v1m0 4v1m0 2v1m0 1v1M150.5 42v1m0 6v2m0 38v2m0 21v1m0 11v1m0 4v1m0 1v1m0 75v1m0 23v1m0 17v1m0 9v1m0 10v1m0 23v1m0 30v1m0 22v1m0 9v1m0 5v1m0 39v1"/>
<path stroke="#472f7d" d="M0.5 2v1m0 29v1m0 59v1m0 3v1m0 60v2m0 7v2m0 18v2m0 10v1m0 178v1m0 5v1M1.5 38v1m0 179v1M2.5 7v1m0 9v1m0 4v2m0 91v1m0 166v1m0 14v1M3.5 21v1m0 245v1m0 84v1M4.5 3v1m0 3v1m0 9v1m0 1v1m0 10v2m0 45v2m0 7v1m0 12v3m0 31v1m0 33v1m0 24v1m0 19v1m0 16v2m0 3v1m0 22v1m0 8v2m0 6v2m0 3v1m0 4v2m0 84v1m0 10v1m0 15v1M5.5 7v1m0 43v1m0 116v1m0 75v1M6.5 31v1m0 7v1m0 22v2m0 22v1m0 16v1m0 2v1m0 14v1m0 10v1m0 12v2m0 38v1m0 11v2m0 2v1m0 39v1m0 56v1m0 3v3m0 14v1m0 4v1m0 33v1m0 2v1m0 23v1m0 14v1M7.5 33v1m0 2v1m0 39v1m0 22v1m0 2v1m0 16v1m0 8v1m0 34v1m0 35v1m0 31v1m0 15v1m0 7v1m0 1v1m0 40v1m0 1v1m0 5v1m0 3v1m0 38v1m0 16v1m0 5v1m0 3v1m0 23v1M8.5 3v1m0 42v1m0 2v2m0 4v1m0 18v1m0 47v1m0 109v1m0 31v1m0 15v1m0 95v1M9.5 61v2m0 15v1m0 14v1m0 203v1m0 72v1M10.5 19v1m0 2v1m0 6v1m0 4v3m0 3v1m0 6v2m0 6v1m0 3v1m0 3v1m0 26v1m0 14v1m0 6v2m0 18v1m0 62v2m0 53v2m0 95v1m0 4v1m0 47v1M11.5 35v1m0 14v1m0 31v1m0 34v1m0 22v1m0 21v1m0 46v1m0 39v2m0 10v1m0 5v1m0 81v1m0 4v1M12.5 17v1m0 7v1m0 8v1m0 61v1m0 65v1m0 1v1m0 17v1m0 79v1m0 4v1m0 7v1m0 39v1M13.5 4v1m0 13v1m0 114v1m0 47v1m0 1v2m0 11v1m0 3v1m0 1v1m0 1v1m0 11v1m0 5v2m0 1v1m0 3v1m0 5v1m0 146v1M14.5 3v1m0 15v2m0 29v1m0 15v1m0 33v1m0 8v1m0 1v1m0 3v1m0 8v1m0 189v1m0 52v1m0 5v1m0 22v1m0 5v2M15.5 27v1m0 1v1m0 54v2m0 29v1m0 11v1m0 4v2m0 17v2m0 34v1m0 27v1m0 4v1m0 23v2m0 21v1m0 59v1m0 22v1m0 6v1m0 28v1m0 15v1M16.5 347v1M19.5 3v1m0 131v1m0 102v1m0 52v1m0 3v1m0 2v1m0 9v1m0 3v3m0 3v1m0 6v1m0 6v1m0 19v1m0 1v1m0 1v1m0 1v1m0 6v1m0 3v1m0 6v1m0 21v1M20.5 4v1m0 12v1m0 9v1m0 24v1m0 2v1m0 8v1m0 1v1m0 11v1m0 46v1m0 10v2m0 15v2m0 45v1m0 28v1m0 19v1m0 6v1m0 2v1m0 15v1m0 1v1m0 10v1m0 5v1m0 15v1m0 16v3m0 2v1m0 9v1m0 30v1m0 23v1M21.5 4v1m0 40v1m0 8v1m0 28v2m0 8v1m0 4v1m0 71v2m0 15v1m0 28v1m0 28v1m0 33v1m0 9v1m0 53v1m0 7v1m0 7v1m0 17v2M22.5 177v1m0 28v1m0 68v1m0 1v4m0 2v2m0 8v1m0 6v1m0 3v1m0 30v1m0 20v1m0 13v1m0 17v1m0 9v1M23.5 19v1m0 15v1m0 30v2m0 2v1m0 1v2m0 4v1m0 5v1m0 15v1m0 2v1m0 1v1m0 3v1m0 1v1m0 4v1m0 1v1m0 3v1m0 27v1m0 12v1m0 13v1m0 20v1m0 87v1m0 47v1m0 20v2m0 4v1M24.5 4v1m0 14v1m0 8v1m0 45v1m0 9v1m0 11v3m0 2v1m0 3v1m0 4v1m0 16v1m0 34v1m0 39v1m0 2v1m0 1v1m0 2v3m0 2v2m0 11v1m0 4v1m0 4v1m0 4v1m0 31v2m0 16v1m0 7v1m0 8v1m0 3v1m0 31v1m0 5v1m0 1v1m0 3v1m0 1v2m0 2v1m0 4v1m0 1v1m0 32v2M25.5 236v2m0 115v1m0 6v1m0 24v2M26.5 4v1m0 82v1m0 8v1m0 4v2m0 1v1m0 5v1m0 62v1M27.5 5v1m0 225v1m0 25v1M28.5 146v1m0 35v1m0 3v3m0 1v3m0 31v1m0 16v1m0 121v1M29.5 58v1m0 82v1m0 1v1m0 1v1m0 1v1m0 1v1m0 78v1m0 35v1m0 55v1m0 14v1m0 4v1m0 9v1M30.5 19v1m0 24v1m0 24v1m0 5v2m0 16v1m0 66v1m0 3v2m0 8v1m0 24v1m0 16v1m0 35v1m0 7v1m0 10v1m0 16v1m0 7v1m0 34v1m0 1v2m0 24v1m0 4v1m0 23v1M31.5 30v1m0 12v1m0 68v1m0 55v1m0 4v1m0 1v1m0 37v1m0 1v2m0 3v1m0 12v1m0 4v1m0 13v1m0 9v1m0 79v1M32.5 118v2m0 237v1m0 26v1m0 3v1M33.5 39v1m0 16v1m0 62v1m0 32v1m0 8v2m0 7v1m0 25v1m0 8v1m0 8v1m0 14v2m0 52v1m0 3v1m0 62v1m0 10v1m0 24v1m0 4v3m0 2v1m0 1v2M34.5 22v1m0 11v1M35.5 4v1m0 42v2m0 21v1m0 9v1m0 25v1m0 5v1m0 22v1m0 8v1m0 6v1m0 27v1m0 8v1m0 2v1m0 12v1m0 3v2m0 4v1m0 7v1m0 4v1m0 5v1m0 34v1m0 15v1m0 5v1m0 7v1m0 90v1M36.5 4v1M37.5 22v1M38.5 30v2m0 1v3m0 1v3m0 30v1m0 64v1m0 13v1m0 12v1m0 122v1m0 120v1M40.5 27v1m0 235v1m0 83v1M41.5 0v1m0 112v2m0 5v1m0 18v1m0 10v1m0 66v1m0 31v1m0 21v1m0 54v1m0 43v2M42.5 23v1m0 4v2m0 2v1m0 2v1m0 106v1m0 3v1m0 85v1m0 100v1m0 5v1m0 8v1m0 43v1M43.5 20v1m0 13v2m0 6v1m0 6v2m0 2v2m0 2v1m0 7v1m0 43v2m0 21v1m0 14v2m0 1v1m0 21v1m0 12v2m0 33v1m0 17v1m0 25v1m0 17v1m0 40v1m0 24v1m0 2v1m0 3v1M44.5 5v1m0 21v1m0 3v1m0 39v1m0 43v1m0 17v1m0 37v1m0 61v1m0 150v1M45.5 44v1m0 6v1m0 5v1m0 3v1m0 2v1m0 2v1m0 9v1m0 2v1m0 4v1m0 98v1m0 108v1m0 111v1M46.5 2v1m0 173v1m0 191v1M47.5 26v1m0 43v1m0 16v1m0 111v1m0 77v1m0 14v1m0 57v2m0 38v1M48.5 18v1m0 5v1m0 82v1m0 9v2m0 70v1M49.5 97v1m0 6v1m0 83v1m0 32v1m0 127v1m0 27v1M50.5 48v1m0 153v1m0 17v1m0 160v1M51.5 19v1m0 34v1m0 3v1m0 2v1m0 32v1m0 13v1m0 16v1m0 11v1m0 1v2m0 35v1m0 71v1m0 72v1m0 12v1m0 9v2m0 7v1m0 4v1m0 6v1m0 14v1m0 12v1M52.5 18v1m0 21v1m0 45v2m0 10v1m0 25v1m0 2v2m0 26v1m0 2v1m0 12v1m0 31v1m0 8v1m0 49v1m0 11v1m0 1v2m0 67v1m0 43v1M53.5 23v1m0 3v1m0 78v1m0 29v1m0 101v1m0 82v1M54.5 52v1m0 3v1m0 2v1m0 5v1m0 7v1m0 3v7m0 12v1m0 23v1m0 4v1m0 6v1m0 4v1m0 28v1m0 12v1m0 3v1m0 5v1m0 3v1m0 2v1m0 5v1m0 1v1m0 1v1m0 6v1m0 63v1m0 62v1m0 25v1m0 5v1m0 18v1M55.5 170v2m0 11v2m0 7v1m0 67v1m0 16v1M56.5 23v1m0 123v2m0 29v1m0 102v1m0 30v1m0 43v2m0 32v1M57.5 138v1m0 9v1m0 63v1m0 92v1M58.5 28v1m0 99v1m0 6v1m0 10v1m0 29v1m0 18v1m0 106v1m0 28v1m0 11v1m0 10v1M59.5 36v2m0 3v2m0 5v1m0 4v1m0 19v1m0 66v1m0 245v1M60.5 25v1m0 22v1m0 169v1m0 64v1M61.5 60v1m0 4v1m0 176v1m0 140v1M62.5 6v1m0 15v1m0 31v2m0 74v1m0 29v1m0 1v1m0 5v1m0 2v1m0 21v1m0 12v1m0 19v1m0 23v1m0 2v1m0 7v1m0 17v1m0 10v1m0 39v1m0 8v1m0 23v1m0 25v1M63.5 19v1m0 23v1m0 40v1m0 179v1m0 101v1M64.5 19v1m0 29v2m0 7v1m0 2v1m0 2v1m0 84v1m0 6v1m0 9v1m0 5v1m0 15v1m0 2v1m0 11v1m0 17v1m0 4v1m0 16v2m0 2v3m0 1v1m0 5v1m0 3v1m0 1v2m0 1v1m0 2v2m0 1v1m0 4v1m0 1v1m0 2v1m0 4v2m0 13v1m0 2v1m0 1v2m0 1v1m0 5v1m0 1v3m0 2v3m0 6v1m0 1v1m0 8v1m0 5v2m0 2v1m0 1v1m0 5v1m0 1v1m0 5v1m0 2v2m0 7v1m0 2v1m0 6v1m0 7v1m0 2v1M65.5 3v1m0 25v1m0 8v1m0 7v1m0 5v1m0 8v2m0 3v2m0 1v1m0 6v1m0 15v1m0 8v1m0 2v3m0 7v1m0 10v1m0 6v1m0 5v1m0 6v1m0 11v1m0 52v1m0 57v1m0 1v1m0 3v1m0 36v1M66.5 38v1m0 2v1m0 4v1m0 6v1m0 1v1m0 4v1m0 1v1m0 316v1M67.5 20v1m0 8v1m0 45v1m0 25v1m0 27v1m0 42v2m0 24v1m0 6v1m0 83v1m0 1v1m0 15v1m0 30v1m0 4v2m0 3v2m0 1v1m0 3v1m0 4v1m0 2v1m0 9v1m0 1v1m0 1v1m0 10v1m0 2v1M68.5 54v1m0 3v1m0 14v1m0 8v2m0 5v1m0 34v1m0 11v1m0 1v1m0 6v1m0 52v1m0 20v1m0 23v1m0 5v2m0 12v2m0 17v1m0 14v1m0 18v1m0 6v2M69.5 157v1m0 14v1m0 105v1m0 43v1m0 4v1m0 59v1M70.5 22v2m0 3v1m0 18v1m0 45v1m0 11v1m0 11v2m0 48v1m0 54v2m0 37v1m0 17v1m0 104v1M71.5 21v1m0 22v1m0 1v1m0 10v3m0 6v2m0 1v1m0 7v1m0 4v1m0 2v2m0 1v1m0 2v1m0 4v1m0 1v3m0 4v1m0 1v2m0 3v1m0 9v2m0 2v3m0 1v1m0 1v1m0 4v1m0 1v1m0 4v1m0 7v1m0 1v1m0 10v2m0 3v4m0 4v1m0 4v1m0 1v3m0 2v1m0 3v1m0 3v4m0 7v1m0 1v3m0 8v2m0 4v1M72.5 68v1m0 151v1m0 9v1m0 85v1m0 11v1M73.5 106v1M74.5 205v1M75.5 27v1m0 5v2m0 12v1m0 22v1m0 6v1m0 10v1m0 2v1m0 18v1m0 47v1m0 6v2m0 10v1m0 5v1m0 7v1m0 3v1m0 1v1m0 40v1m0 15v1m0 4v1m0 29v1m0 4v1m0 5v1M76.5 36v1m0 30v1m0 3v2m0 4v1m0 5v1m0 1v1m0 14v1m0 38v1m0 2v1m0 12v1m0 12v1m0 6v1m0 18v1m0 23v2m0 1v1m0 3v1m0 10v2m0 6v1m0 36v1m0 9v2m0 3v1m0 4v1m0 42v1m0 2v1m0 2v1m0 33v1M77.5 3v1m0 15v1m0 2v1m0 49v1m0 81v1m0 49v1m0 7v1m0 3v1m0 30v1m0 1v1m0 12v3m0 3v1m0 5v1m0 71v1m0 17v1m0 8v1m0 4v2M78.5 47v1m0 52v1m0 27v1m0 2v1m0 3v5m0 8v1m0 1v1m0 2v1m0 4v1m0 3v1m0 28v1m0 1v1m0 9v1m0 4v1m0 14v1m0 1v1m0 6v1m0 3v1m0 32v1m0 16v1m0 7v4m0 98v2M79.5 2v1M80.5 41v1m0 27v1m0 12v1m0 15v1m0 2v1m0 10v1m0 3v2m0 2v1m0 45v1m0 3v1m0 23v1m0 5v1m0 56v1m0 8v1m0 19v1m0 42v1m0 43v1m0 20v1m0 4v1M81.5 49v1m0 9v1m0 78v2m0 92v1m0 22v1m0 10v1m0 1v1m0 26v1m0 43v1m0 14v1m0 1v1m0 48v1M82.5 32v1m0 55v1m0 25v1m0 65v3m0 3v1m0 44v1m0 14v1m0 17v1m0 7v2m0 48v1M83.5 33v1m0 15v2m0 28v1m0 103v1m0 15v1m0 6v1m0 44v1m0 22v1m0 50v1m0 6v2m0 57v1M85.5 26v1m0 43v1m0 115v1m0 138v1m0 4v2m0 1v1M86.5 35v1m0 33v1m0 8v1m0 56v1m0 60v1m0 2v2m0 11v1m0 24v1m0 22v2m0 15v1m0 4v1m0 29v1m0 61v1m0 2v1m0 4v1m0 3v1M87.5 19v1m0 22v1m0 6v1m0 69v1m0 9v1m0 5v1m0 17v1m0 17v1m0 1v1m0 1v1m0 1v1m0 5v1m0 6v1m0 2v1m0 4v1m0 4v1m0 6v2m0 2v1m0 3v1m0 3v1m0 4v3m0 3v1m0 1v1m0 4v2m0 10v1m0 1v1m0 1v2m0 13v2m0 3v1m0 10v2m0 2v2m0 1v2m0 4v1m0 1v1m0 2v1m0 6v1m0 1v1m0 1v1m0 2v1m0 4v1m0 4v1m0 1v1m0 3v1m0 1v2m0 4v2m0 1v1m0 17v1m0 8v1m0 17v2M88.5 33v1m0 23v1m0 50v1m0 5v2m0 1v2m0 6v2m0 10v1m0 1v1m0 57v1m0 51v1m0 79v1m0 3v1m0 3v1m0 5v1m0 23v1M89.5 4v1m0 90v1m0 203v1M90.5 19v1m0 1v1m0 48v1m0 31v1m0 13v1m0 40v1m0 6v1m0 12v1m0 2v2m0 17v1m0 9v1m0 1v2m0 3v1m0 6v1m0 43v2m0 18v1m0 23v1m0 11v1m0 13v1m0 8v1m0 24v1M92.5 28v1m0 22v3m0 2v1m0 49v2m0 28v1m0 22v1m0 7v1m0 3v1m0 12v1m0 1v1m0 8v1m0 20v2m0 29v2m0 29v1m0 19v1m0 22v2m0 2v2m0 71v2m0 5v1M93.5 22v1m0 10v1m0 2v1m0 3v1m0 5v1m0 65v1m0 128v1m0 23v1m0 28v2m0 8v1m0 4v1m0 48v1M94.5 17v2m0 12v2m0 58v1m0 260v1m0 1v1m0 10v1m0 1v1m0 5v2m0 21v1M95.5 22v1m0 300v1M96.5 5v1m0 13v1M97.5 25v1m0 4v2m0 39v1m0 80v1m0 61v1m0 32v1m0 36v2m0 14v2m0 3v1m0 73v1m0 12v2M98.5 19v1m0 33v1m0 156v1m0 18v1M99.5 59v1m0 1v1m0 52v2m0 28v3m0 11v1m0 10v1m0 8v1m0 17v1m0 5v1m0 5v1m0 1v1m0 1v1m0 100v1m0 13v1m0 20v1m0 42v2M100.5 48v1m0 2v1m0 16v1m0 25v1m0 56v1m0 7v1m0 12v1m0 20v1m0 27v1m0 4v1m0 1v1m0 15v1m0 121v1m0 1v1m0 3v1m0 12v1m0 18v1M101.5 57v1m0 74v1m0 108v1m0 6v2m0 11v1m0 5v1m0 107v1m0 13v1m0 11v1M102.5 232v1m0 84v1M103.5 2v2m0 24v1m0 65v1m0 11v1m0 28v2m0 107v1m0 21v1m0 17v1m0 48v1M104.5 3v1m0 12v1m0 1v1m0 4v1m0 2v1m0 79v1m0 9v1m0 57v1m0 14v1m0 35v1m0 76v1m0 53v1m0 15v1M105.5 18v1m0 54v1m0 19v2m0 17v1m0 22v1m0 105v1m0 19v1m0 5v2m0 22v1m0 4v1m0 43v1m0 20v1m0 7v1M106.5 3v1m0 280v1M108.5 30v1m0 11v1m0 6v1m0 23v1m0 37v1m0 1v1m0 10v2m0 19v1m0 9v1m0 34v1m0 76v1m0 13v1m0 20v1m0 12v1m0 33v1m0 17v1m0 4v1m0 6v1m0 23v1M110.5 0v1m0 36v1m0 7v1m0 14v1m0 11v1m0 19v1m0 6v1m0 61v1m0 23v1m0 30v1m0 1v1m0 3v2m0 14v1m0 4v1m0 48v1m0 34v1m0 9v1m0 14v1m0 11v1m0 15v1m0 25v1M112.5 24v1m0 8v1m0 1v1m0 5v1m0 2v1m0 8v1m0 26v1m0 10v1m0 6v1m0 2v1m0 17v1m0 17v1m0 6v1m0 36v1m0 45v1m0 20v1m0 18v1m0 10v1m0 31v1m0 12v1m0 26v1m0 9v1m0 13v1m0 15v1m0 3v1M114.5 3v1m0 61v1m0 22v1m0 6v1m0 52v1m0 30v1m0 3v1m0 12v1m0 20v1m0 2v1m0 18v1m0 8v1m0 11v1m0 61v1M116.5 18v1m0 31v1m0 115v1m0 83v1m0 70v1m0 3v1m0 45v1m0 3v1m0 9v1m0 8v1M118.5 4v1m0 51v1m0 43v1m0 51v1m0 3v1m0 15v1m0 6v1m0 27v1m0 21v1m0 23v1m0 36v2m0 8v1m0 19v1m0 33v1m0 4v1m0 6v1m0 9v1m0 12v1m0 9v1m0 5v1M120.5 3v1m0 20v1m0 22v1m0 12v1m0 7v1m0 8v1m0 15v1m0 15v1m0 27v1m0 58v1m0 29v1m0 13v1m0 3v1m0 89v1m0 31v1m0 3v1m0 9v1m0 18v1M125.5 19v1m0 1v1m0 3v2m0 10v1m0 6v1m0 41v1m0 8v1m0 11v1m0 28v1m0 7v1m0 25v1m0 1v1m0 11v1m0 2v1m0 11v1m0 11v1m0 1v1m0 42v1m0 4v1m0 31v1m0 4v1m0 40v1m0 17v1m0 2v1m0 13v1m0 27v1M130.5 57v1m0 68v1m0 20v1m0 9v1m0 14v1m0 22v1m0 1v1m0 5v1m0 105v1m0 37v1m0 17v1M135.5 30v1m0 24v1m0 44v1m0 2v1m0 13v2m0 20v1m0 3v1m0 2v1m0 27v1m0 3v1m0 3v1m0 27v1m0 28v1m0 31v1m0 13v1m0 6v1m0 3v1m0 15v1m0 13v1m0 40v2M140.5 5v1m0 12v1m0 1v1m0 1v1m0 7v1m0 22v1m0 5v1m0 45v1m0 35v1m0 9v1m0 16v1m0 20v1m0 48v1m0 21v2m0 10v1m0 6v1m0 36v1m0 32v1m0 9v1m0 2v1M145.5 21v1m0 1v1m0 25v1m0 37v1m0 12v1m0 14v1m0 39v1m0 60v1m0 3v1m0 45v1m0 64v1m0 6v3m0 13v1m0 11v1m0 16v1M150.5 36v1m0 40v1m0 49v1m0 86v1m0 6v1m0 120v1m0 59v1"/>
<path stroke="#443983" d="M1.5 17v2m0 325v1M2.5 6v1m0 11v1m0 284v1M3.5 17v1m0 2v1M4.5 15v1m0 2v1m0 79v1m0 134v1m0 107v1M5.5 157v1m0 2v3m0 82v1m0 3v1m0 68v1m0 1v1M6.5 18v1m0 56v2m0 43v1m0 205v1m0 59v1M7.5 6v1m0 11v1m0 227v1m0 155v2M8.5 41v1m0 6v1m0 133v1m0 3v1m0 3v1m0 1v1M9.5 6v1m0 11v1M10.5 28v1M11.5 3v1m0 52v1m0 294v1M12.5 185v1m0 77v1M13.5 16v2m0 161v1m0 17v2m0 2v1m0 1v1m0 2v1m0 23v1m0 77v1M14.5 21v1m0 72v1m0 1v1m0 4v2m0 7v1m0 1v1m0 1v1m0 5v1m0 244v1m0 5v2M15.5 19v1m0 164v1m0 69v1M19.5 4v1m0 11v1m0 273v1m0 11v1m0 3v1m0 13v2m0 9v1m0 1v1m0 8v1m0 16v1m0 2v1m0 5v1M20.5 65v1m0 210v1M21.5 19v1m0 202v1m0 10v1M22.5 51v1m0 197v1m0 1v1m0 15v1m0 4v2M23.5 75v1m0 1v1m0 8v2m0 1v1m0 4v1m0 1v2m0 4v1m0 12v1m0 189v1M24.5 22v1m0 183v1m0 1v2m0 29v2m0 108v1m0 3v1m0 9v1m0 2v1m0 6v1M26.5 92v2m0 14v1M28.5 19v1m0 154v1m0 10v1m0 7v1M29.5 146v1m0 46v1m0 33v1m0 113v1M30.5 156v1m0 16v1M31.5 3v1m0 16v2m0 138v1M33.5 155v1m0 7v1m0 1v2m0 2v1m0 95v2m0 67v1m0 36v1m0 2v1m0 4v1m0 7v1m0 9v1m0 2v1m0 1v1m0 1v1M35.5 289v1M37.5 4v2m0 15v1M38.5 144v1M39.5 5v1M43.5 52v1m0 105v1M45.5 52v1m0 12v1m0 10v1m0 2v1m0 1v1M51.5 22v3M52.5 126v1m0 2v1m0 27v1m0 112v1M53.5 235v1M54.5 19v1m0 40v1m0 5v1m0 3v1m0 3v2m0 22v1m0 87v3m0 8v1m0 5v1m0 1v1m0 1v1m0 2v1m0 1v1M57.5 147v1m0 149v1m0 84v2M62.5 17v1m0 320v1M63.5 3v1m0 16v1M64.5 18v1m0 32v1m0 5v1m0 89v1m0 3v1m0 23v1m0 28v1m0 4v1m0 35v2m0 7v2m0 6v1m0 4v2m0 5v3m0 7v1m0 4v1m0 5v1m0 8v1m0 8v2m0 29v2m0 1v2m0 2v1m0 2v1m0 4v1m0 4v1m0 23v1m0 1v1m0 6v1m0 6v1M65.5 28v1m0 4v1m0 3v1m0 7v1m0 12v1m0 19v1M66.5 17v1m0 15v1m0 36v1M67.5 300v1m0 64v1m0 13v1m0 25v1M68.5 57v1m0 5v3m0 11v1m0 14v1m0 28v1m0 1v1m0 18v1m0 1v1m0 48v1m0 68v1M70.5 19v1m0 4v1m0 1v1m0 197v1M71.5 5v1m0 25v2m0 2v1m0 1v1m0 1v2m0 7v1m0 12v1m0 12v1m0 1v1m0 1v1m0 4v2m0 7v2m0 19v1m0 1v1m0 8v2m0 12v1m0 1v1m0 1v2m0 1v1m0 1v1m0 5v1m0 1v1m0 2v1m0 1v2m0 7v1m0 6v1m0 2v1m0 4v1m0 6v1m0 4v1m0 10v1m0 6v1m0 5v1m0 6v1M72.5 19v1M73.5 4v1M75.5 26v1m0 143v1M76.5 69v1m0 11v2m0 137v1m0 130v2M77.5 280v4m0 1v1m0 1v1m0 10v2m0 1v1m0 8v1m0 14v1m0 13v2m0 6v1m0 5v1m0 2v1m0 2v1m0 15v1m0 26v1M78.5 121v1m0 12v1m0 14v1m0 7v1m0 1v1m0 5v3m0 2v1m0 6v1m0 2v2m0 5v1m0 10v1m0 2v1m0 4v1m0 2v2m0 1v1m0 4v1m0 1v1m0 4v1m0 2v1m0 3v1m0 5v1M80.5 3v1m0 107v1m0 63v1m0 2v2M82.5 4v1m0 17v1m0 160v1m0 1v1M86.5 3v1m0 191v1m0 40v1m0 139v1m0 14v1M87.5 38v1m0 130v1m0 4v1m0 12v2m0 8v1m0 4v1m0 3v1m0 6v1m0 10v1m0 1v1m0 3v1m0 15v1m0 16v2m0 1v1m0 1v1m0 8v4m0 1v1m0 1v1m0 4v1m0 8v1m0 9v1m0 8v1m0 18v1m0 2v3m0 9v1M88.5 109v3m0 7v1m0 3v1m0 64v1M89.5 20v1M90.5 20v1m0 28v1m0 167v1M91.5 2v1M92.5 19v1m0 146v1m0 18v1M93.5 303v1M97.5 5v1m0 12v2m0 1v1M98.5 4v1M99.5 3v1M100.5 36v1M103.5 281v1M104.5 22v1m0 332v1M105.5 4v3M106.5 4v1M108.5 3v1m0 274v1M110.5 3v1m0 1v1M112.5 28v1m0 353v1M114.5 39v1M118.5 35v1m0 4v1m0 209v1m0 113v1M120.5 4v1m0 54v1M125.5 22v2m0 159v1m0 180v1M130.5 70v1m0 22v1m0 77v1M135.5 65v1m0 59v1m0 224v1M140.5 29v1m0 218v1M145.5 130v1m0 163v1"/>
<path stroke="#414487" d="M0.5 5v1M1.5 5v2m0 338v1m0 5v1M3.5 7v1m0 56v1m0 5v1M5.5 159v1m0 86v1m0 3v1m0 1v1m0 66v1M6.5 69v2m0 1v1M7.5 401v1M8.5 342v1m0 7v1M9.5 5v1m0 354v1M10.5 363v1M11.5 19v1m0 350v1M12.5 4v1m0 261v1m0 9v1m0 1v1M13.5 5v1m0 207v1m0 13v1m0 69v2m0 5v4m0 3v1M14.5 4v1m0 11v1m0 80v1m0 24v1m0 230v1M16.5 5v1M18.5 3v1M19.5 311v1m0 32v1m0 19v1m0 9v1M21.5 17v1m0 205v1m0 6v1m0 1v1M22.5 62v2m0 210v1M23.5 69v1m0 10v1m0 7v1m0 6v1M24.5 5v1m0 198v1m0 21v1m0 128v1m0 1v1m0 1v1M25.5 6v1M26.5 94v1m0 12v1M28.5 4v1M29.5 148v1M31.5 152v2m0 5v1M32.5 20v1M33.5 153v1M34.5 3v1M35.5 21v1M36.5 20v3M40.5 3v1m0 16v1M43.5 6v1M45.5 53v1m0 12v1M47.5 19v1M49.5 2v1M52.5 271v1M53.5 236v2M54.5 61v1m0 9v1m0 105v1m0 7v1m0 8v1m0 3v1M55.5 20v1M56.5 286v1m0 8v1M57.5 298v2m0 1v2M59.5 33v1M61.5 20v1M63.5 4v1M64.5 159v1m0 14v1m0 47v1m0 29v1m0 30v1m0 6v1m0 5v1m0 49v1m0 13v1m0 6v2m0 27v1m0 8v1M65.5 63v1m0 18v1m0 12v1M66.5 3v1m0 14v1M68.5 3v1m0 68v1m0 52v1m0 14v1m0 2v1m0 52v1M69.5 20v1M70.5 3v1M71.5 3v1m0 24v1m0 5v1m0 1v1m0 1v1m0 2v2m0 6v3m0 1v1m0 1v1m0 19v1m0 3v1m0 1v1m0 7v2m0 3v1m0 6v1m0 1v1m0 5v1m0 1v1m0 2v1m0 3v1m0 2v1m0 13v2m0 9v1m0 2v3m0 12v1m0 12v1m0 14v1M75.5 4v1M76.5 349v1M77.5 4v1m0 270v1m0 1v1m0 10v1m0 1v1m0 9v1m0 8v1m0 1v1m0 3v1m0 1v2m0 2v1m0 10v1m0 5v1m0 6v1m0 8v1m0 3v1m0 12v1m0 2v1m0 2v1m0 6v1m0 1v1m0 1v4m0 5v1m0 3v1m0 1v2M78.5 4v1m0 120v1m0 1v1m0 41v1m0 9v1m0 5v1m0 4v1m0 6v1m0 7v1m0 23v1m0 5v1M79.5 20v1M81.5 19v1M82.5 230v1m0 28v1m0 5v1M86.5 2v1m0 392v2M87.5 178v1m0 5v1m0 4v1m0 6v1m0 11v1m0 12v1m0 10v1m0 1v1m0 55v1m0 15v1m0 2v1m0 5v1m0 29v1m0 10v2M88.5 106v2m0 5v1m0 2v1m0 3v2m0 2v1m0 9v2M93.5 4v1M95.5 4v2M96.5 18v1M97.5 20v1M99.5 18v1M102.5 4v1M103.5 5v1m0 13v1M106.5 17v1M108.5 18v1M110.5 4v1M112.5 5v1M114.5 19v1M125.5 4v1m0 13v1M135.5 4v1M145.5 4v1m0 13v1"/>
<path stroke="#3d4d8a" d="M0.5 184v1M1.5 346v1m0 1v1m0 1v1M2.5 201v1m0 6v1m0 91v1M4.5 338v1M5.5 6v1m0 151v1m0 88v2m0 2v1M6.5 73v2m0 2v1M7.5 17v1m0 193v1M9.5 4v1m0 12v1m0 337v2M10.5 364v1m0 11v1M11.5 51v1m0 160v1m0 159v1M12.5 5v1m0 258v2m0 11v1M13.5 191v1m0 107v4m0 6v1M14.5 6v1m0 88v1M16.5 19v1M17.5 4v1m0 15v1M18.5 19v1M19.5 299v1m0 1v1m0 15v1m0 27v1m0 1v1m0 1v3m0 11v1M21.5 225v2m0 1v2m0 1v1M22.5 52v6m0 1v3m0 224v1M23.5 4v1M26.5 16v1m0 78v1M30.5 18v1M31.5 154v5M33.5 167v2m0 215v1M39.5 4v1M41.5 2v1M42.5 2v1m0 17v1M43.5 5v1m0 12v1M44.5 4v1M49.5 3v1M51.5 5v1m0 11v1M52.5 16v2M53.5 4v1M54.5 72v1M56.5 294v1M57.5 300v1m0 2v1M58.5 3v1m0 15v1M64.5 292v1m0 37v1m0 21v1M67.5 3v2M68.5 18v1m0 74v1m0 101v1M71.5 29v1m0 22v1m0 1v1m0 8v1m0 6v1m0 2v1m0 6v1m0 14v1m0 6v1m0 3v1m0 9v1m0 3v1m0 38v1m0 2v2m0 42v1M73.5 19v1M74.5 4v1M76.5 20v1m0 58v1M77.5 284v1m0 10v1m0 6v1m0 2v1m0 2v1m0 4v2m0 1v1m0 2v2m0 5v1m0 1v1m0 4v1m0 2v2m0 3v1m0 6v1m0 3v1m0 7v1m0 2v1m0 2v1m0 1v3m0 12v1m0 3v1m0 4v1m0 6v2m0 4v1M78.5 126v1m0 6v1m0 18v1m0 7v1m0 7v1m0 4v2m0 7v1m0 6v1m0 2v1m0 7v1m0 3v1m0 6v1m0 3v2m0 3v1m0 5v1m0 1v1m0 1v1M82.5 229v1m0 36v1M83.5 18v1M84.5 3v1M86.5 394v1M87.5 4v1m0 202v1m0 61v1m0 37v1M88.5 3v1m0 100v2m0 16v1M91.5 3v1M98.5 17v1M101.5 21v1M110.5 19v1M112.5 4v1m0 12v1M116.5 19v1M120.5 18v2M135.5 5v1M150.5 3v1m0 15v1"/>
<path stroke="#39568c" d="M0.5 6v1m0 170v2m0 4v1M1.5 347v1m0 1v1M2.5 16v1m0 185v1m0 4v1m0 93v2M3.5 8v1m0 7v1m0 49v1m0 1v1m0 94v1M4.5 343v1m0 4v1M5.5 8v1M6.5 7v1m0 9v1m0 53v1M8.5 4v2m0 12v1m0 164v1m0 157v1m0 2v2M9.5 357v3M10.5 371v2M11.5 211v1m0 159v1M13.5 6v1m0 296v1M14.5 104v1M15.5 6v1m0 217v1m0 7v1m0 3v1M16.5 4v1M19.5 300v1m0 8v2m0 5v1m0 29v1m0 1v1M20.5 6v1m0 9v1M21.5 224v1m0 2v1m0 39v1M22.5 19v1m0 38v1M25.5 7v1m0 9v1M26.5 6v1m0 10v1M29.5 18v1M32.5 3v1M35.5 6v1M42.5 19v1M43.5 19v1M44.5 18v2M48.5 17v1M49.5 4v1m0 12v1M50.5 4v2m0 13v1M52.5 5v1M54.5 3v1m0 174v1M56.5 287v1m0 2v1M57.5 304v1M60.5 20v1M61.5 3v2m0 14v1M63.5 5v1M64.5 155v1m0 224v1M67.5 19v1M71.5 104v1m0 12v1m0 16v1m0 6v1M72.5 3v1m0 14v1M73.5 3v1M74.5 19v2M77.5 276v1m0 1v1m0 14v1m0 13v1m0 15v2m0 4v2m0 4v1m0 8v1m0 6v1m0 15v1m0 4v1m0 3v1m0 3v3m0 10v1m0 1v1M78.5 163v2m0 7v1m0 13v1m0 9v1M81.5 3v1M83.5 3v1M87.5 304v1M88.5 20v1m0 91v1M90.5 18v1M96.5 17v1M99.5 4v1m0 11v1M102.5 3v1m0 16v1M105.5 16v2M106.5 18v1M110.5 17v2M114.5 5v1M140.5 6v1m0 10v1M150.5 18v1"/>
<path stroke="#355f8d" d="M0.5 7v1m0 9v2M2.5 15v1m0 189v2M3.5 65v1m0 3v1m0 104v1M4.5 339v2M6.5 81v1m0 88v1m0 1v1M7.5 170v1m0 41v1m0 123v1M8.5 185v1m0 5v1m0 141v1m0 12v1m0 1v2M9.5 266v1m0 2v1m0 2v1M10.5 119v1m0 255v1M11.5 2v1m0 15v1m0 359v1M12.5 6v1M15.5 222v1M21.5 18v1m0 137v1M22.5 5v1M25.5 5v1m0 10v1M26.5 7v1M27.5 4v1M28.5 18v1M30.5 17v1M34.5 4v1M37.5 20v1M38.5 4v1m0 13v1M41.5 3v1M45.5 4v1M46.5 4v1m0 14v1M47.5 4v1M53.5 5v1M54.5 4v1M55.5 4v1M56.5 288v1m0 4v1M57.5 19v1M62.5 7v1M64.5 253v1M70.5 4v1M71.5 4v1m0 14v1M72.5 4v1M75.5 20v1M77.5 273v1m0 5v1m0 11v2m0 1v1m0 1v2m0 6v1m0 17v1m0 4v1m0 3v1m0 2v1m0 7v2m0 5v1m0 7v1m0 7v1m0 30v1m0 1v1M78.5 207v1m0 10v1M80.5 4v1M84.5 4v1m0 13v1M86.5 4v1M90.5 4v1M94.5 4v1M101.5 20v1M108.5 4v1m0 14v1M112.5 18v1M116.5 4v1M118.5 3v1m0 14v2M130.5 5v1m0 12v1"/>
<path stroke="#31688e" d="M0.5 180v1M2.5 203v2M3.5 169v2m0 4v1M4.5 16v1m0 327v1M7.5 168v1m0 12v1m0 159v1M8.5 184v1m0 158v1m0 3v1M9.5 176v1m0 85v1M10.5 4v2m0 122v1M11.5 52v4M18.5 4v1M19.5 6v1m0 287v1M20.5 353v1m0 6v1M21.5 6v1M22.5 18v1M23.5 18v1M24.5 6v1m0 9v1M29.5 5v1M31.5 4v1M33.5 3v2m0 16v1M36.5 5v1m0 13v1M41.5 19v1M42.5 3v1M45.5 19v1M51.5 6v1M56.5 292v1M57.5 3v1M58.5 4v1m0 13v1M59.5 19v1M60.5 5v1M64.5 4v1M65.5 4v1m0 12v1M67.5 5v1M74.5 3v1M75.5 5v1M76.5 5v1m0 12v1M77.5 286v1m0 2v1m0 13v1m0 2v1m0 43v1m0 10v1m0 23v1m0 8v1M78.5 20v1M79.5 3v1M82.5 18v1M84.5 17v1M85.5 2v2m0 14v1M87.5 18v1M97.5 6v1M98.5 16v1M106.5 5v1M150.5 4v1m0 12v1"/>
<path stroke="#2d708e" d="M0.5 179v1m0 1v2M2.5 8v1M3.5 67v1m0 96v3m0 1v1m0 3v1m0 138v1M4.5 347v1M5.5 167v1M6.5 78v1m0 1v1M7.5 174v1m0 165v1M9.5 199v1m0 71v1M10.5 120v1m0 1v1m0 3v2m0 56v1m0 22v1m0 166v1M11.5 191v1m0 188v1M12.5 18v1M13.5 310v1M19.5 293v1m0 33v1M20.5 354v1M21.5 255v1M23.5 5v1M27.5 7v1m0 10v1M31.5 5v1m0 13v1M34.5 5v1M37.5 6v1M40.5 4v2M42.5 4v1M53.5 3v1M56.5 3v1m0 16v1m0 268v1m0 1v1M59.5 4v1M60.5 4v1M61.5 18v1M63.5 18v1M64.5 3v1M65.5 16v1M66.5 16v1M68.5 19v1M77.5 362v1M80.5 20v1M83.5 17v1M90.5 6v1M92.5 3v1M93.5 18v1M99.5 17v1M100.5 3v1m0 15v1M102.5 5v1M104.5 5v1m0 9v1m0 1v1M105.5 15v1M114.5 17v2M116.5 5v1"/>
<path stroke="#2a788e" d="M3.5 167v1m0 3v1m0 1v1M5.5 163v1M6.5 6v1M7.5 337v1M8.5 334v1m0 2v1M9.5 180v1m0 9v1m0 73v1m0 5v1M10.5 18v1m0 105v1m0 57v1m0 190v1M11.5 4v1M12.5 16v1M18.5 5v1M19.5 326v1m0 9v1M20.5 7v1m0 350v2M21.5 166v1M23.5 7v1M28.5 6v1M32.5 18v1M33.5 20v1M35.5 20v1M36.5 6v1M39.5 6v1M42.5 18v1M47.5 3v1m0 1v1M53.5 18v1M54.5 18v1M55.5 19v1M61.5 5v1M67.5 17v2M68.5 5v1M69.5 4v1M75.5 19v1M76.5 6v1M86.5 17v1M88.5 4v1M93.5 5v1M94.5 5v1M100.5 18v1M101.5 4v1M103.5 18v1M104.5 6v1M120.5 5v1M130.5 4v1M145.5 17v1"/>
<path stroke="#27808e" d="M1.5 16v1M3.5 310v1M4.5 345v1M6.5 79v1M7.5 169v1m0 168v1M8.5 335v2m0 1v3M9.5 7v1m0 255v1m0 1v1M10.5 121v1m0 1v1m0 1v1m0 80v1M11.5 187v1m0 191v1M13.5 15v1M15.5 223v1m0 10v2M16.5 6v1m0 10v2M17.5 5v1M20.5 355v3M21.5 162v2m0 92v1m0 5v1m0 3v1M23.5 6v1M27.5 17v1M32.5 4v1m0 14v1M34.5 20v2M39.5 18v2M48.5 16v1M50.5 17v1M53.5 17v1M56.5 4v1M59.5 5v1M60.5 19v1M61.5 6v1M64.5 17v1M66.5 4v1M68.5 4v1M82.5 17v1M83.5 4v1M90.5 5v1M92.5 4v1M95.5 17v1M97.5 17v1M98.5 5v1M99.5 5v1M108.5 5v1M130.5 17v1M145.5 5v1"/>
<path stroke="#23888e" d="M4.5 8v1m0 337v1M6.5 171v1M7.5 8v1m0 171v1m0 158v1M9.5 194v1m0 3v1M10.5 17v1M11.5 17v1m0 365v1m0 4v1M15.5 233v1M18.5 18v1M19.5 15v1m0 319v1M21.5 157v1m0 2v1m0 3v2m0 93v3m0 2v2M22.5 6v1M27.5 6v1M29.5 6v1M37.5 19v1M38.5 17v1M40.5 19v1M42.5 5v1M44.5 17v1M50.5 18v1M51.5 16v1M56.5 19v1M59.5 18v1M63.5 6v1M65.5 5v1M73.5 5v1M74.5 18v1M80.5 5v1M81.5 18v1M92.5 5v1M94.5 16v1M106.5 16v1M118.5 5v1m0 11v1M135.5 17v2M140.5 16v1M150.5 5v1"/>
<path stroke="#21918c" d="M0.5 16v1M1.5 7v1M7.5 15v1M8.5 16v2M9.5 177v1m0 15v1m0 2v1M10.5 6v1M13.5 7v1M21.5 16v1m0 141v2m0 97v2m0 4v1M22.5 17v1M24.5 17v1M27.5 16v1M29.5 7v1M30.5 7v1M38.5 5v1m0 10v1M44.5 6v1M45.5 5v1M46.5 3v1m0 14v1M47.5 18v1M48.5 4v1M53.5 16v1M57.5 4v1M63.5 17v1M69.5 19v1M73.5 18v1M74.5 5v1M76.5 17v1M77.5 17v2M78.5 5v1M83.5 5v1M87.5 5v1M88.5 19v1M93.5 19v1M102.5 19v1M112.5 6v1M116.5 17v1M125.5 5v1M135.5 16v1M140.5 7v1"/>
<path stroke="#1f988b" d="M1.5 15v1M7.5 175v1m0 1v1M9.5 16v1m0 161v1m0 13v1m0 2v1M20.5 15v1M21.5 7v1m0 153v1M23.5 17v1M24.5 7v1M31.5 6v1M35.5 19v1M38.5 6v1M44.5 16v1M49.5 15v1M56.5 5v1M59.5 6v1M70.5 5v1M72.5 5v1M75.5 6v1m0 11v1M80.5 19v1M81.5 4v1M85.5 17v1M89.5 5v1M100.5 17v1M103.5 6v1M110.5 16v1M120.5 17v1M130.5 6v1"/>
<path stroke="#1fa188" d="M0.5 8v1M1.5 8v1M5.5 164v1M6.5 16v1M7.5 176v1m0 1v2M8.5 6v1M9.5 179v1m0 11v1m0 5v1M11.5 5v1m0 184v1m0 193v1M17.5 6v1M40.5 18v1M41.5 4v1M47.5 6v1m0 10v1M50.5 6v1M57.5 18v1M66.5 5v1M71.5 18v1M72.5 17v1M77.5 5v1M78.5 19v1M80.5 18v1M82.5 5v1m0 10v1M95.5 6v1M98.5 6v1M99.5 6v1M103.5 17v1M114.5 6v1M116.5 6v1M120.5 6v1M125.5 6v1M140.5 8v1"/>
<path stroke="#22a884" d="M5.5 165v2M7.5 7v1M10.5 183v1M11.5 188v1m0 197v1M12.5 7v1M18.5 17v1M30.5 16v1M33.5 5v1M35.5 7v1M49.5 16v1M53.5 6v1M54.5 5v1m0 11v1M58.5 5v1M60.5 18v1M70.5 17v2M79.5 4v1M81.5 17v1M88.5 5v1M89.5 18v2M90.5 17v1M91.5 4v1m0 13v1M93.5 6v1m0 10v1M95.5 16v1M100.5 5v1M101.5 5v1M108.5 17v1M118.5 6v1M150.5 16v1"/>
<path stroke="#2ab07f" d="M10.5 16v1M11.5 189v1m0 195v1m0 1v1M17.5 19v1M28.5 17v1M29.5 16v1M31.5 18v1M33.5 19v1M42.5 17v1M57.5 5v1M59.5 17v1M61.5 17v1M64.5 5v1M68.5 17v1M69.5 5v1M71.5 6v1M79.5 19v1M84.5 5v1M85.5 16v1M88.5 18v1M91.5 17v1M116.5 16v1M125.5 16v1M135.5 6v1M145.5 6v1m0 9v1"/>
<path stroke="#35b779" d="M0.5 15v1M6.5 8v1M7.5 16v1M12.5 15v1M23.5 16v1M29.5 17v1M43.5 17v1M45.5 6v1m0 11v1M50.5 16v1M66.5 15v1M71.5 17v1M84.5 16v1M85.5 4v1M108.5 6v1M112.5 16v1M118.5 16v1M150.5 6v1"/>
<path stroke="#44bf70" d="M6.5 15v1M24.5 15v1M28.5 7v1m0 8v1M34.5 6v1M57.5 17v1M58.5 17v1M69.5 18v1M72.5 16v1M73.5 6v1M87.5 17v1M99.5 15v1M102.5 6v1M108.5 16v1"/>
<path stroke="#54c568" d="M16.5 7v1M17.5 18v1M32.5 5v1M34.5 19v1M45.5 17v1M56.5 18v1M67.5 6v1M75.5 7v1M78.5 6v1M82.5 6v1m0 8v1M83.5 16v1M86.5 16v1M89.5 6v1M90.5 16v1M92.5 18v1M94.5 15v1M110.5 6v1M125.5 17v1"/>
<path stroke="#67cc5c" d="M16.5 16v1M22.5 7v1M48.5 15v1M49.5 5v1M54.5 6v1M56.5 6v1M78.5 18v1M81.5 16v1M86.5 5v1M94.5 6v1M101.5 19v1M130.5 16v1"/>
<path stroke="#7ad151" d="M22.5 16v1M32.5 17v1M40.5 6v1M43.5 7v1M46.5 17v1M55.5 5v1M64.5 16v1M65.5 6v1M67.5 16v1M74.5 6v1M77.5 6v1M85.5 15v1M86.5 15v1M90.5 7v1M100.5 6v1M102.5 18v1M114.5 16v1"/>
<path stroke="#90d743" d="M11.5 16v1M18.5 6v1M33.5 6v1M47.5 16v1M48.5 5v1M73.5 17v1M74.5 17v1M79.5 18v1M80.5 6v1"/>
<path stroke="#a5db36" d="M39.5 7v1m0 9v1M40.5 17v1M41.5 18v1M46.5 16v1M54.5 16v1M55.5 18v1M59.5 7v1M60.5 6v1m0 10v1M69.5 6v1M72.5 6v1M89.5 17v1M120.5 16v1M140.5 15v1"/>
<path stroke="#bddf26" d="M46.5 5v1M55.5 6v1M58.5 6v1M70.5 6v1M77.5 16v1M79.5 5v1M83.5 6v1M87.5 16v1M92.5 6v1m0 10v1M100.5 16v1"/>
<path stroke="#d2e21b" d="M17.5 17v1M18.5 16v1M33.5 18v1M41.5 17v1M55.5 17v1M65.5 15v1M70.5 16v1M78.5 17v1M81.5 5v1M91.5 5v1M101.5 6v1"/>
<path stroke="#eae51a" d="M73.5 16v1M84.5 6v1M85.5 5v1M87.5 6v1M101.5 18v1"/>
<path stroke="#fde725" d="M0.5 9v6M1.5 9v6M2.5 9v6M3.5 9v6M4.5 10v5M5.5 9v6M6.5 9v6M7.5 9v6M8.5 7v9M9.5 8v8M10.5 7v9M11.5 6v10M12.5 8v7M13.5 8v7M14.5 7v9M15.5 7v9M16.5 8v8M17.5 7v10M18.5 7v9M19.5 7v8M20.5 8v7M21.5 8v8M22.5 8v8M23.5 8v8M24.5 8v7M25.5 8v8M26.5 8v8M27.5 8v8M28.5 8v8M29.5 8v8M30.5 8v8M31.5 7v11M32.5 6v11M33.5 7v11M34.5 7v12M35.5 8v11M36.5 7v12M37.5 7v12M38.5 7v9M39.5 8v9M40.5 7v10M41.5 5v12M42.5 6v11M43.5 8v9M44.5 7v9M45.5 7v10M46.5 6v10M47.5 7v9M48.5 6v9M49.5 6v9M50.5 7v9M51.5 7v9M52.5 7v9M53.5 7v9M54.5 7v9M55.5 7v10M56.5 7v11M57.5 6v11M58.5 7v10M59.5 8v9M60.5 7v10M61.5 7v10M62.5 8v9M63.5 7v10M64.5 6v10M65.5 7v8M66.5 6v9M67.5 7v9M68.5 6v11M69.5 7v11M70.5 7v9M71.5 7v10M72.5 7v9M73.5 7v9M74.5 7v10M75.5 8v10M76.5 7v10M77.5 7v9M78.5 7v10M79.5 6v12M80.5 7v11M81.5 6v10M82.5 7v8M83.5 7v9M84.5 7v9M85.5 6v9M86.5 6v9M87.5 7v9M88.5 6v12M89.5 7v10M90.5 8v8M91.5 6v11M92.5 7v10M93.5 7v10M94.5 7v8M95.5 7v9M96.5 7v10M97.5 7v10M98.5 7v9M99.5 7v8M100.5 7v9M101.5 7v11M102.5 7v11M103.5 7v10M104.5 7v8M105.5 7v8M106.5 6v10M108.5 7v9M110.5 7v9M112.5 7v9M114.5 7v9M116.5 7v9M118.5 7v9M120.5 7v9M125.5 7v9M130.5 7v9M135.5 7v9M140.5 9v6M145.5 7v9M150.5 7v9"/>
</g>
</g>
<rect x="1016.5" y="85.5" width="36.00" height="737.0" fill="url(#vg)"/>
<g fill="none" stroke="#000" stroke-width="1.11">
<rect x="98.5" y="85.5" width="864.0" height="737.0"/>
<rect x="1016.5" y="85.5" width="36.00" height="737.0"/>
<path d="M98.50 810.50h-4.86"/><path d="M98.50 689.50h-4.86"/><path d="M98.50 568.50h-4.86"/><path d="M98.50 447.50h-4.86"/><path d="M98.50 327.50h-4.86"/><path d="M98.50 206.50h-4.86"/><path d="M98.50 85.50h-4.86"/><path d="M179.50 822.50v4.86"/><path d="M287.50 822.50v4.86"/><path d="M395.50 822.50v4.86"/><path d="M503.50 822.50v4.86"/><path d="M611.50 822.50v4.86"/><path d="M719.50 822.50v4.86"/><path d="M827.50 822.50v4.86"/><path d="M935.50 822.50v4.86"/><path d="M1052.50 822.50h4.86"/><path d="M1052.50 699.50h4.86"/><path d="M1052.50 576.50h4.86"/><path d="M1052.50 454.50h4.86"/><path d="M1052.50 331.50h4.86"/><path d="M1052.50 208.50h4.86"/><path d="M1052.50 85.50h4.86"/>
</g>
<g font-size="27.78" text-anchor="middle">
<text x="529.1" y="43.9" xml:space="preserve" style="white-space:pre">IRF Uppsala SDR Ionosonde UP158 2025-10-25 05:00:00  UT</text>
<text x="528.9" y="77.2">noise_floor=-115.07 (dB) peak SNR=97.20</text>
</g>
<g font-size="20.83">
<text x="88.1" y="818.02" text-anchor="end">0</text>
<text x="88.1" y="697.20" text-anchor="end">100</text>
<text x="88.1" y="576.38" text-anchor="end">200</text>
<text x="88.1" y="455.56" text-anchor="end">300</text>
<text x="88.1" y="334.74" text-anchor="end">400</text>
<text x="88.1" y="213.92" text-anchor="end">500</text>
<text x="88.1" y="93.10" text-anchor="end">600</text>
<text x="179.50" y="848.8" text-anchor="middle">2</text>
<text x="287.50" y="848.8" text-anchor="middle">4</text>
<text x="395.50" y="848.8" text-anchor="middle">6</text>
<text x="503.50" y="848.8" text-anchor="middle">8</text>
<text x="611.50" y="848.8" text-anchor="middle">10</text>
<text x="719.50" y="848.8" text-anchor="middle">12</text>
<text x="827.50" y="848.8" text-anchor="middle">14</text>
<text x="935.50" y="848.8" text-anchor="middle">16</text>
<text x="1062.6" y="830.10">0</text>
<text x="1062.6" y="707.27">5</text>
<text x="1062.6" y="584.43">10</text>
<text x="1062.6" y="461.60">15</text>
<text x="1062.6" y="338.77">20</text>
<text x="1062.6" y="215.93">25</text>
<text x="1062.6" y="93.10">30</text>
<text x="529.2" y="874" text-anchor="middle" font-size="21">Frequency (MHz)</text>
<text transform="translate(37.5,455.2) rotate(-90)" text-anchor="middle" font-size="21">Virtual range (km)</text>
<text transform="translate(1108.9,454.6) rotate(-90)" text-anchor="middle" font-size="21">SNR (dB)</text>
</g>
</svg>
</body></html>
